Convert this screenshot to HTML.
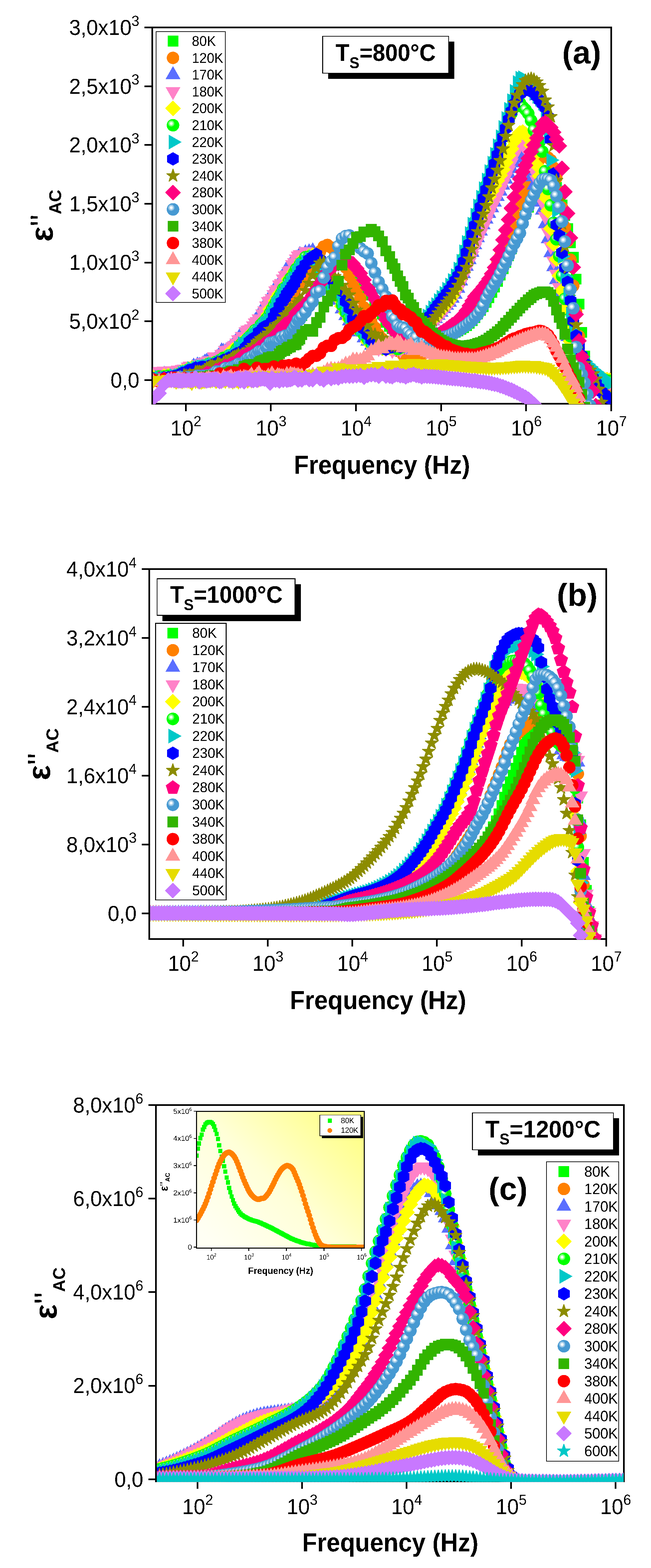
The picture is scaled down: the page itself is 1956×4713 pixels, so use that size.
<!DOCTYPE html>
<html lang="en"><head><meta charset="utf-8"><title>Dielectric loss versus frequency</title>
<style>html,body{margin:0;padding:0;background:#fff}body{width:1956px;height:4713px;overflow:hidden}svg{display:block}text{font-family:"Liberation Sans",sans-serif;fill:#000;filter:url(#crisp)}.b{font-weight:bold}</style>
</head><body>
<svg width="1956" height="4713" viewBox="0 0 1956 4713" shape-rendering="crispEdges" text-rendering="geometricPrecision">
<defs>
<filter id="crisp" x="-5%" y="-20%" width="110%" height="140%" color-interpolation-filters="sRGB"><feComponentTransfer><feFuncA type="discrete" tableValues="0 0 1 1"/></feComponentTransfer></filter>
<radialGradient id="hl" cx="0.5" cy="0.5" r="0.5"><stop offset="0" stop-color="#fff" stop-opacity="1"/><stop offset="0.36" stop-color="#fff" stop-opacity="1"/><stop offset="0.4" stop-color="#fff" stop-opacity="0.7"/><stop offset="0.66" stop-color="#fff" stop-opacity="0.62"/><stop offset="0.7" stop-color="#fff" stop-opacity="0.4"/><stop offset="1" stop-color="#fff" stop-opacity="0.32"/></radialGradient>
<clipPath id="clip-a"><rect x="459.5" y="85" width="1376" height="1130"/></clipPath>
<clipPath id="clip-b"><rect x="451.3" y="1713.1" width="1369" height="1111.3"/></clipPath>
<clipPath id="clip-c"><rect x="471.3" y="3324.2" width="1402.5" height="1130"/></clipPath>
<linearGradient id="insetbg" gradientUnits="userSpaceOnUse" x1="650.8" y1="3751.4" x2="1054.7" y2="3340"><stop offset="0" stop-color="#fffff4"/><stop offset="0.45" stop-color="#ffffd8"/><stop offset="0.8" stop-color="#ffffa0"/><stop offset="1" stop-color="#ffff80"/></linearGradient>
<clipPath id="clip-i"><rect x="590.8" y="3340" width="503.9" height="412.4"/></clipPath>
<marker id="ma80" markerUnits="userSpaceOnUse" markerWidth="80" markerHeight="80" viewBox="-40 -40 80 80" refX="0" refY="0" overflow="visible"><rect x="-16.2" y="-16.2" width="32.4" height="32.4" fill="#00ff00"/></marker>
<marker id="ma120" markerUnits="userSpaceOnUse" markerWidth="80" markerHeight="80" viewBox="-40 -40 80 80" refX="0" refY="0" overflow="visible"><circle r="18.7" fill="#ff8000"/></marker>
<marker id="ma170" markerUnits="userSpaceOnUse" markerWidth="80" markerHeight="80" viewBox="-40 -40 80 80" refX="0" refY="0" overflow="visible"><path d="M0,-26L22.2,13L-22.2,13Z" fill="#5a6eff"/></marker>
<marker id="ma180" markerUnits="userSpaceOnUse" markerWidth="80" markerHeight="80" viewBox="-40 -40 80 80" refX="0" refY="0" overflow="visible"><path d="M0,26L22.2,-13L-22.2,-13Z" fill="#ff82c8"/></marker>
<marker id="ma200" markerUnits="userSpaceOnUse" markerWidth="80" markerHeight="80" viewBox="-40 -40 80 80" refX="0" refY="0" overflow="visible"><path d="M0,-22.1L22.1,0L0,22.1L-22.1,0Z" fill="#ffff00" stroke="#ffff00" stroke-width="2.2" stroke-linejoin="round"/></marker>
<marker id="ma210" markerUnits="userSpaceOnUse" markerWidth="80" markerHeight="80" viewBox="-40 -40 80 80" refX="0" refY="0" overflow="visible"><circle r="18.9" fill="#00ff00"/><circle cx="-5.2" cy="-5.2" r="9.6" fill="url(#hl)"/></marker>
<marker id="ma220" markerUnits="userSpaceOnUse" markerWidth="80" markerHeight="80" viewBox="-40 -40 80 80" refX="0" refY="0" overflow="visible"><path d="M26,0L-13,22.2L-13,-22.2Z" fill="#00c8c8"/></marker>
<marker id="ma230" markerUnits="userSpaceOnUse" markerWidth="80" markerHeight="80" viewBox="-40 -40 80 80" refX="0" refY="0" overflow="visible"><path d="M0,-20.2L17.5,-10.1L17.5,10.1L0,20.2L-17.5,10.1L-17.5,-10.1Z" fill="#0000ff"/></marker>
<marker id="ma240" markerUnits="userSpaceOnUse" markerWidth="80" markerHeight="80" viewBox="-40 -40 80 80" refX="0" refY="0" overflow="visible"><path d="M0,-20L4.6,-6.4L19,-6.2L7.5,2.4L11.8,16.2L0,7.9L-11.8,16.2L-7.5,2.4L-19,-6.2L-4.6,-6.4Z" fill="#8c8c00" stroke="#8c8c00" stroke-width="2.6" stroke-linejoin="round"/></marker>
<marker id="ma280" markerUnits="userSpaceOnUse" markerWidth="80" markerHeight="80" viewBox="-40 -40 80 80" refX="0" refY="0" overflow="visible"><path d="M0,-22.1L22.1,0L0,22.1L-22.1,0Z" fill="#ff0080" stroke="#ff0080" stroke-width="2.2" stroke-linejoin="round"/></marker>
<marker id="ma300" markerUnits="userSpaceOnUse" markerWidth="80" markerHeight="80" viewBox="-40 -40 80 80" refX="0" refY="0" overflow="visible"><circle r="18.9" fill="#4699d2"/><circle cx="-5.2" cy="-5.2" r="9.6" fill="url(#hl)"/></marker>
<marker id="ma340" markerUnits="userSpaceOnUse" markerWidth="80" markerHeight="80" viewBox="-40 -40 80 80" refX="0" refY="0" overflow="visible"><rect x="-16.2" y="-16.2" width="32.4" height="32.4" fill="#32b400"/></marker>
<marker id="ma380" markerUnits="userSpaceOnUse" markerWidth="80" markerHeight="80" viewBox="-40 -40 80 80" refX="0" refY="0" overflow="visible"><circle r="18.7" fill="#ff0000"/></marker>
<marker id="ma400" markerUnits="userSpaceOnUse" markerWidth="80" markerHeight="80" viewBox="-40 -40 80 80" refX="0" refY="0" overflow="visible"><path d="M0,-26L22.2,13L-22.2,13Z" fill="#ff9696"/></marker>
<marker id="ma440" markerUnits="userSpaceOnUse" markerWidth="80" markerHeight="80" viewBox="-40 -40 80 80" refX="0" refY="0" overflow="visible"><path d="M0,26L22.2,-13L-22.2,-13Z" fill="#e6dc00"/></marker>
<marker id="ma500" markerUnits="userSpaceOnUse" markerWidth="80" markerHeight="80" viewBox="-40 -40 80 80" refX="0" refY="0" overflow="visible"><path d="M0,-22.1L22.1,0L0,22.1L-22.1,0Z" fill="#c878ff" stroke="#c878ff" stroke-width="2.2" stroke-linejoin="round"/></marker>
<marker id="mb80" markerUnits="userSpaceOnUse" markerWidth="80" markerHeight="80" viewBox="-40 -40 80 80" refX="0" refY="0" overflow="visible"><rect x="-16.2" y="-16.2" width="32.4" height="32.4" fill="#00ff00"/></marker>
<marker id="mb120" markerUnits="userSpaceOnUse" markerWidth="80" markerHeight="80" viewBox="-40 -40 80 80" refX="0" refY="0" overflow="visible"><circle r="18.7" fill="#ff8000"/></marker>
<marker id="mb170" markerUnits="userSpaceOnUse" markerWidth="80" markerHeight="80" viewBox="-40 -40 80 80" refX="0" refY="0" overflow="visible"><path d="M0,-26L22.2,13L-22.2,13Z" fill="#5a6eff"/></marker>
<marker id="mb180" markerUnits="userSpaceOnUse" markerWidth="80" markerHeight="80" viewBox="-40 -40 80 80" refX="0" refY="0" overflow="visible"><path d="M0,26L22.2,-13L-22.2,-13Z" fill="#ff82c8"/></marker>
<marker id="mb200" markerUnits="userSpaceOnUse" markerWidth="80" markerHeight="80" viewBox="-40 -40 80 80" refX="0" refY="0" overflow="visible"><path d="M0,-22.1L22.1,0L0,22.1L-22.1,0Z" fill="#ffff00" stroke="#ffff00" stroke-width="2.2" stroke-linejoin="round"/></marker>
<marker id="mb210" markerUnits="userSpaceOnUse" markerWidth="80" markerHeight="80" viewBox="-40 -40 80 80" refX="0" refY="0" overflow="visible"><circle r="18.9" fill="#00ff00"/><circle cx="-5.2" cy="-5.2" r="9.6" fill="url(#hl)"/></marker>
<marker id="mb220" markerUnits="userSpaceOnUse" markerWidth="80" markerHeight="80" viewBox="-40 -40 80 80" refX="0" refY="0" overflow="visible"><path d="M26,0L-13,22.2L-13,-22.2Z" fill="#00c8c8"/></marker>
<marker id="mb230" markerUnits="userSpaceOnUse" markerWidth="80" markerHeight="80" viewBox="-40 -40 80 80" refX="0" refY="0" overflow="visible"><path d="M0,-20.2L17.5,-10.1L17.5,10.1L0,20.2L-17.5,10.1L-17.5,-10.1Z" fill="#0000ff"/></marker>
<marker id="mb240" markerUnits="userSpaceOnUse" markerWidth="80" markerHeight="80" viewBox="-40 -40 80 80" refX="0" refY="0" overflow="visible"><path d="M0,-20L4.6,-6.4L19,-6.2L7.5,2.4L11.8,16.2L0,7.9L-11.8,16.2L-7.5,2.4L-19,-6.2L-4.6,-6.4Z" fill="#8c8c00" stroke="#8c8c00" stroke-width="2.6" stroke-linejoin="round"/></marker>
<marker id="mb280" markerUnits="userSpaceOnUse" markerWidth="80" markerHeight="80" viewBox="-40 -40 80 80" refX="0" refY="0" overflow="visible"><path d="M0,-21.2L20.4,-6.3L12.6,17.7L-12.6,17.7L-20.4,-6.3Z" fill="#ff0080" stroke="#ff0080" stroke-width="1.5" stroke-linejoin="round"/></marker>
<marker id="mb300" markerUnits="userSpaceOnUse" markerWidth="80" markerHeight="80" viewBox="-40 -40 80 80" refX="0" refY="0" overflow="visible"><circle r="18.9" fill="#4699d2"/><circle cx="-5.2" cy="-5.2" r="9.6" fill="url(#hl)"/></marker>
<marker id="mb340" markerUnits="userSpaceOnUse" markerWidth="80" markerHeight="80" viewBox="-40 -40 80 80" refX="0" refY="0" overflow="visible"><rect x="-16.2" y="-16.2" width="32.4" height="32.4" fill="#32b400"/></marker>
<marker id="mb380" markerUnits="userSpaceOnUse" markerWidth="80" markerHeight="80" viewBox="-40 -40 80 80" refX="0" refY="0" overflow="visible"><circle r="18.7" fill="#ff0000"/></marker>
<marker id="mb400" markerUnits="userSpaceOnUse" markerWidth="80" markerHeight="80" viewBox="-40 -40 80 80" refX="0" refY="0" overflow="visible"><path d="M0,-26L22.2,13L-22.2,13Z" fill="#ff9696"/></marker>
<marker id="mb440" markerUnits="userSpaceOnUse" markerWidth="80" markerHeight="80" viewBox="-40 -40 80 80" refX="0" refY="0" overflow="visible"><path d="M0,26L22.2,-13L-22.2,-13Z" fill="#e6dc00"/></marker>
<marker id="mb500" markerUnits="userSpaceOnUse" markerWidth="80" markerHeight="80" viewBox="-40 -40 80 80" refX="0" refY="0" overflow="visible"><path d="M0,-22.1L22.1,0L0,22.1L-22.1,0Z" fill="#c878ff" stroke="#c878ff" stroke-width="2.2" stroke-linejoin="round"/></marker>
<marker id="mc170" markerUnits="userSpaceOnUse" markerWidth="80" markerHeight="80" viewBox="-40 -40 80 80" refX="0" refY="0" overflow="visible"><path d="M0,-26L22.2,13L-22.2,13Z" fill="#5a6eff"/></marker>
<marker id="mc180" markerUnits="userSpaceOnUse" markerWidth="80" markerHeight="80" viewBox="-40 -40 80 80" refX="0" refY="0" overflow="visible"><path d="M0,26L22.2,-13L-22.2,-13Z" fill="#ff82c8"/></marker>
<marker id="mc200" markerUnits="userSpaceOnUse" markerWidth="80" markerHeight="80" viewBox="-40 -40 80 80" refX="0" refY="0" overflow="visible"><path d="M0,-22.1L22.1,0L0,22.1L-22.1,0Z" fill="#ffff00" stroke="#ffff00" stroke-width="2.2" stroke-linejoin="round"/></marker>
<marker id="mc210" markerUnits="userSpaceOnUse" markerWidth="80" markerHeight="80" viewBox="-40 -40 80 80" refX="0" refY="0" overflow="visible"><circle r="18.9" fill="#00ff00"/><circle cx="-5.2" cy="-5.2" r="9.6" fill="url(#hl)"/></marker>
<marker id="mc220" markerUnits="userSpaceOnUse" markerWidth="80" markerHeight="80" viewBox="-40 -40 80 80" refX="0" refY="0" overflow="visible"><path d="M26,0L-13,22.2L-13,-22.2Z" fill="#00c8c8"/></marker>
<marker id="mc230" markerUnits="userSpaceOnUse" markerWidth="80" markerHeight="80" viewBox="-40 -40 80 80" refX="0" refY="0" overflow="visible"><path d="M0,-20.2L17.5,-10.1L17.5,10.1L0,20.2L-17.5,10.1L-17.5,-10.1Z" fill="#0000ff"/></marker>
<marker id="mc240" markerUnits="userSpaceOnUse" markerWidth="80" markerHeight="80" viewBox="-40 -40 80 80" refX="0" refY="0" overflow="visible"><path d="M0,-20L4.6,-6.4L19,-6.2L7.5,2.4L11.8,16.2L0,7.9L-11.8,16.2L-7.5,2.4L-19,-6.2L-4.6,-6.4Z" fill="#8c8c00" stroke="#8c8c00" stroke-width="2.6" stroke-linejoin="round"/></marker>
<marker id="mc280" markerUnits="userSpaceOnUse" markerWidth="80" markerHeight="80" viewBox="-40 -40 80 80" refX="0" refY="0" overflow="visible"><path d="M0,-22.1L22.1,0L0,22.1L-22.1,0Z" fill="#ff0080" stroke="#ff0080" stroke-width="2.2" stroke-linejoin="round"/></marker>
<marker id="mc300" markerUnits="userSpaceOnUse" markerWidth="80" markerHeight="80" viewBox="-40 -40 80 80" refX="0" refY="0" overflow="visible"><circle r="18.9" fill="#4699d2"/><circle cx="-5.2" cy="-5.2" r="9.6" fill="url(#hl)"/></marker>
<marker id="mc340" markerUnits="userSpaceOnUse" markerWidth="80" markerHeight="80" viewBox="-40 -40 80 80" refX="0" refY="0" overflow="visible"><rect x="-16.2" y="-16.2" width="32.4" height="32.4" fill="#32b400"/></marker>
<marker id="mc380" markerUnits="userSpaceOnUse" markerWidth="80" markerHeight="80" viewBox="-40 -40 80 80" refX="0" refY="0" overflow="visible"><circle r="18.7" fill="#ff0000"/></marker>
<marker id="mc400" markerUnits="userSpaceOnUse" markerWidth="80" markerHeight="80" viewBox="-40 -40 80 80" refX="0" refY="0" overflow="visible"><path d="M0,-26L22.2,13L-22.2,13Z" fill="#ff9696"/></marker>
<marker id="mc440" markerUnits="userSpaceOnUse" markerWidth="80" markerHeight="80" viewBox="-40 -40 80 80" refX="0" refY="0" overflow="visible"><path d="M0,26L22.2,-13L-22.2,-13Z" fill="#e6dc00"/></marker>
<marker id="mc500" markerUnits="userSpaceOnUse" markerWidth="80" markerHeight="80" viewBox="-40 -40 80 80" refX="0" refY="0" overflow="visible"><path d="M0,-22.1L22.1,0L0,22.1L-22.1,0Z" fill="#c878ff" stroke="#c878ff" stroke-width="2.2" stroke-linejoin="round"/></marker>
<marker id="mc600" markerUnits="userSpaceOnUse" markerWidth="80" markerHeight="80" viewBox="-40 -40 80 80" refX="0" refY="0" overflow="visible"><path d="M0,-20L4.6,-6.4L19,-6.2L7.5,2.4L11.8,16.2L0,7.9L-11.8,16.2L-7.5,2.4L-19,-6.2L-4.6,-6.4Z" fill="#00c8c8" stroke="#00c8c8" stroke-width="2.6" stroke-linejoin="round"/></marker>
<marker id="mi80" markerUnits="userSpaceOnUse" markerWidth="30" markerHeight="30" viewBox="-15 -15 30 30" refX="0" refY="0" overflow="visible"><rect x="-6.2" y="-6.6" width="12.4" height="13.2" fill="#00ff00"/></marker>
<marker id="mi120" markerUnits="userSpaceOnUse" markerWidth="30" markerHeight="30" viewBox="-15 -15 30 30" refX="0" refY="0" overflow="visible"><circle r="8.6" fill="#ff8000"/></marker>
</defs>
<g id="panel-a">
<path d="M457,82.5H1836.5V1213H457Z" fill="none" stroke="#000" stroke-width="5" stroke-linejoin="miter"/>
<path d="M434.2,82.5H457M434.2,259.2H457M434.2,435.8H457M434.2,612.5H457M434.2,789.1H457M434.2,965.8H457M434.2,1142.4H457M558.2,1213V1235.5M813.9,1213V1235.5M1069.5,1213V1235.5M1325.2,1213V1235.5M1580.8,1213V1235.5M1836.5,1213V1235.5" fill="none" stroke="#000" stroke-width="5"/>
<text transform="translate(418.7 104.8) scale(0.96 1)" font-size="65" text-anchor="end">3,0x10<tspan dy="-27.3" font-size="44.2">3</tspan></text>
<text transform="translate(418.7 281.5) scale(0.96 1)" font-size="65" text-anchor="end">2,5x10<tspan dy="-27.3" font-size="44.2">3</tspan></text>
<text transform="translate(418.7 458.1) scale(0.96 1)" font-size="65" text-anchor="end">2,0x10<tspan dy="-27.3" font-size="44.2">3</tspan></text>
<text transform="translate(418.7 634.8) scale(0.96 1)" font-size="65" text-anchor="end">1,5x10<tspan dy="-27.3" font-size="44.2">3</tspan></text>
<text transform="translate(418.7 811.4) scale(0.96 1)" font-size="65" text-anchor="end">1,0x10<tspan dy="-27.3" font-size="44.2">3</tspan></text>
<text transform="translate(418.7 988.1) scale(0.96 1)" font-size="65" text-anchor="end">5,0x10<tspan dy="-27.3" font-size="44.2">2</tspan></text>
<text transform="translate(418.7 1164.7) scale(0.96 1)" font-size="65" text-anchor="end">0,0</text>
<text transform="translate(558.7 1308.7) scale(0.96 1)" font-size="65" text-anchor="middle">10<tspan dy="-27.3" font-size="44.2">2</tspan></text>
<text transform="translate(814.4 1308.7) scale(0.96 1)" font-size="65" text-anchor="middle">10<tspan dy="-27.3" font-size="44.2">3</tspan></text>
<text transform="translate(1070 1308.7) scale(0.96 1)" font-size="65" text-anchor="middle">10<tspan dy="-27.3" font-size="44.2">4</tspan></text>
<text transform="translate(1325.7 1308.7) scale(0.96 1)" font-size="65" text-anchor="middle">10<tspan dy="-27.3" font-size="44.2">5</tspan></text>
<text transform="translate(1581.3 1308.7) scale(0.96 1)" font-size="65" text-anchor="middle">10<tspan dy="-27.3" font-size="44.2">6</tspan></text>
<text transform="translate(1837 1308.7) scale(0.96 1)" font-size="65" text-anchor="middle">10<tspan dy="-27.3" font-size="44.2">7</tspan></text>
<text transform="translate(1147.5 1424) scale(0.94 1)" font-size="78" text-anchor="middle" class="b">Frequency (Hz)</text>
<text transform="translate(158.5 648.2) rotate(-90)" font-size="96" text-anchor="middle" class="b">ε<tspan font-weight="normal">''</tspan><tspan dy="24.5" font-size="51.5">AC</tspan></text>
</g>
<g id="panel-b">
<path d="M448.8,1710.6H1821.3V2822.4H448.8Z" fill="none" stroke="#000" stroke-width="5" stroke-linejoin="miter"/>
<path d="M426,1710.6H448.8M426,1917.5H448.8M426,2124.4H448.8M426,2331.4H448.8M426,2538.3H448.8M426,2745.2H448.8M550.4,2822.4V2844.9M804.6,2822.4V2844.9M1058.8,2822.4V2844.9M1312.9,2822.4V2844.9M1567.1,2822.4V2844.9M1821.3,2822.4V2844.9" fill="none" stroke="#000" stroke-width="5"/>
<text transform="translate(410.5 1732.9) scale(0.96 1)" font-size="65" text-anchor="end">4,0x10<tspan dy="-27.3" font-size="44.2">4</tspan></text>
<text transform="translate(410.5 1939.8) scale(0.96 1)" font-size="65" text-anchor="end">3,2x10<tspan dy="-27.3" font-size="44.2">4</tspan></text>
<text transform="translate(410.5 2146.7) scale(0.96 1)" font-size="65" text-anchor="end">2,4x10<tspan dy="-27.3" font-size="44.2">4</tspan></text>
<text transform="translate(410.5 2353.7) scale(0.96 1)" font-size="65" text-anchor="end">1,6x10<tspan dy="-27.3" font-size="44.2">4</tspan></text>
<text transform="translate(410.5 2560.6) scale(0.96 1)" font-size="65" text-anchor="end">8,0x10<tspan dy="-27.3" font-size="44.2">3</tspan></text>
<text transform="translate(410.5 2767.5) scale(0.96 1)" font-size="65" text-anchor="end">0,0</text>
<text transform="translate(550.9 2917.6) scale(0.96 1)" font-size="65" text-anchor="middle">10<tspan dy="-27.3" font-size="44.2">2</tspan></text>
<text transform="translate(805.1 2917.6) scale(0.96 1)" font-size="65" text-anchor="middle">10<tspan dy="-27.3" font-size="44.2">3</tspan></text>
<text transform="translate(1059.3 2917.6) scale(0.96 1)" font-size="65" text-anchor="middle">10<tspan dy="-27.3" font-size="44.2">4</tspan></text>
<text transform="translate(1313.4 2917.6) scale(0.96 1)" font-size="65" text-anchor="middle">10<tspan dy="-27.3" font-size="44.2">5</tspan></text>
<text transform="translate(1567.6 2917.6) scale(0.96 1)" font-size="65" text-anchor="middle">10<tspan dy="-27.3" font-size="44.2">6</tspan></text>
<text transform="translate(1821.8 2917.6) scale(0.96 1)" font-size="65" text-anchor="middle">10<tspan dy="-27.3" font-size="44.2">7</tspan></text>
<text transform="translate(1135.8 3033.4) scale(0.94 1)" font-size="78" text-anchor="middle" class="b">Frequency (Hz)</text>
<text transform="translate(150.3 2267) rotate(-90)" font-size="96" text-anchor="middle" class="b">ε<tspan font-weight="normal">''</tspan><tspan dy="24.5" font-size="51.5">AC</tspan></text>
</g>
<g id="panel-c">
<path d="M468.8,3321.7H1874.8V4452.2H468.8Z" fill="none" stroke="#000" stroke-width="5" stroke-linejoin="miter"/>
<path d="M446,3321.7H468.8M446,3602.8H468.8M446,3883.9H468.8M446,4165.1H468.8M446,4446.2H468.8M593.4,4452.2V4474.7M907.4,4452.2V4474.7M1221.4,4452.2V4474.7M1535.4,4452.2V4474.7M1849.4,4452.2V4474.7" fill="none" stroke="#000" stroke-width="5"/>
<text transform="translate(430.5 3344) scale(0.96 1)" font-size="65" text-anchor="end">8,0x10<tspan dy="-27.3" font-size="44.2">6</tspan></text>
<text transform="translate(430.5 3625.1) scale(0.96 1)" font-size="65" text-anchor="end">6,0x10<tspan dy="-27.3" font-size="44.2">6</tspan></text>
<text transform="translate(430.5 3906.2) scale(0.96 1)" font-size="65" text-anchor="end">4,0x10<tspan dy="-27.3" font-size="44.2">6</tspan></text>
<text transform="translate(430.5 4187.4) scale(0.96 1)" font-size="65" text-anchor="end">2,0x10<tspan dy="-27.3" font-size="44.2">6</tspan></text>
<text transform="translate(430.5 4468.5) scale(0.96 1)" font-size="65" text-anchor="end">0,0</text>
<text transform="translate(593.9 4550.7) scale(0.96 1)" font-size="65" text-anchor="middle">10<tspan dy="-27.3" font-size="44.2">2</tspan></text>
<text transform="translate(907.9 4550.7) scale(0.96 1)" font-size="65" text-anchor="middle">10<tspan dy="-27.3" font-size="44.2">3</tspan></text>
<text transform="translate(1221.9 4550.7) scale(0.96 1)" font-size="65" text-anchor="middle">10<tspan dy="-27.3" font-size="44.2">4</tspan></text>
<text transform="translate(1535.9 4550.7) scale(0.96 1)" font-size="65" text-anchor="middle">10<tspan dy="-27.3" font-size="44.2">5</tspan></text>
<text transform="translate(1849.9 4550.7) scale(0.96 1)" font-size="65" text-anchor="middle">10<tspan dy="-27.3" font-size="44.2">6</tspan></text>
<text transform="translate(1172.6 4663.2) scale(0.94 1)" font-size="78" text-anchor="middle" class="b">Frequency (Hz)</text>
<text transform="translate(170.3 3887.4) rotate(-90)" font-size="96" text-anchor="middle" class="b">ε<tspan font-weight="normal">''</tspan><tspan dy="24.5" font-size="51.5">AC</tspan></text>
</g>
<g clip-path="url(#clip-a)">
<polyline fill="none" stroke="none" marker-start="url(#ma80)" marker-mid="url(#ma80)" marker-end="url(#ma80)" points="459,1143 478,1138.7 493.2,1138.8 505.4,1138.5 515.1,1135.5 522.9,1136.2 529.1,1135.5 535.1,1131.7 541.1,1136 547.1,1134.6 553.1,1131.4 559.1,1131 565.1,1130.8 570.7,1127.9 576.3,1126.4 581.9,1122.5 587.5,1124.4 593.1,1121.9 598.7,1120.5 604.3,1115.5 609.9,1119.6 615.5,1115.3 621.1,1112.7 626.7,1115.5 632.3,1110.2 637.9,1106.1 643.5,1105.9 649.1,1098.6 654.7,1107 660.3,1101 665.9,1098.3 671.5,1102 677.1,1092.1 682.7,1096.8 688.3,1087.1 693.9,1089.4 699.5,1085.8 705.1,1091.8 710.7,1090.5 716.3,1082.1 721.9,1083.3 727.5,1077.9 733.1,1077.7 738.7,1071.3 744.3,1065.9 749.9,1062.9 755.5,1066.7 761.1,1069.5 766.7,1060.7 772.3,1055.3 777.9,1059.5 783.5,1051.2 789.1,1047.5 794.7,1044.6 800.3,1039.9 805.9,1035.6 811.5,1028.2 817.1,1029.7 822.7,1023.4 828.3,1022.6 833.9,1013 839.5,1003.4 845.1,1003.7 850.7,1004 856.3,992.6 861.9,985.9 867.5,979.9 873.1,975.4 878.7,972.6 884.3,964.8 889.9,967.4 895.5,956.3 901.1,951.3 906.7,948.5 917.7,932.9 928.7,907.7 939.7,887.8 950.7,867.9 961.7,842.8 972.7,818.2 983.7,809.3 994.7,796.6 1005.7,788.3 1016.7,779.6 1027.7,779.5 1038.7,780.7 1049.7,789.6 1060.7,804.5 1071.7,818.4 1082.7,832.9 1093.7,851.2 1104.7,869.8 1115.7,887.2 1126.7,906.9 1137.7,924.2 1148.7,944.1 1159.7,969.1 1170.7,981.3 1178.7,987.6 1186.7,995.7 1194.7,1002.9 1202.7,1014.5 1210.7,1021.4 1218.7,1021.3 1226.7,1030.7 1234.7,1029.1 1242.7,1036.3 1250.7,1033.6 1258.7,1039.1 1266.7,1033.2 1274.7,1034.8 1283.1,1035 1291.6,1033.9 1300,1031.2 1308.5,1027.1 1316.9,1023.5 1325.4,1019.2 1333.8,1014.7 1342.3,1010.7 1350.7,1007.8 1359.2,1003.2 1367.6,999 1376.1,995.1 1384.5,990.2 1393,984.8 1401.4,979.2 1409.9,972.1 1418.3,963.8 1426.8,954.7 1435.2,944.3 1443.7,933.2 1452.1,921.9 1460.6,909.1 1469,895 1477.5,879.3 1485.9,862.8 1494.4,846 1502.8,827 1511.3,807.7 1519.7,789.2 1528.2,768.6 1536.6,748.3 1545.1,727 1553.5,705.7 1562,684.1 1570.4,662.9 1578.9,642.5 1587.3,622.6 1595.8,603.7 1604.2,586 1612.7,572 1621.1,557.8 1629.6,550.1 1638,547.3 1646.5,545.6 1654.9,546.8 1663.4,552.1 1671.8,563 1680.3,585.6 1688.7,615.9 1697.2,648.3 1705.6,687.6 1714.1,730.1 1722.5,773.6 1731,839.3 1739.4,914.3 1747.9,998.9 1756.3,1070.1 1764.8,1107.1 1773.2,1131.8 1781.7,1146.9 1790.1,1152.9 1798.6,1156.8 1807,1160.4 1815.5,1162.2 1823.9,1164.1 1832.4,1165.3"/>
<polyline fill="none" stroke="none" marker-start="url(#ma120)" marker-mid="url(#ma120)" marker-end="url(#ma120)" points="459,1141 478,1137.2 493.2,1140 505.4,1137 515.1,1137.7 522.9,1136.8 529.1,1137.8 535.1,1135.1 541.1,1130.9 547.1,1130.9 553.1,1133.5 559.1,1130 565.1,1130.5 570.7,1126.9 576.3,1122.7 581.9,1123.6 587.5,1117.7 593.1,1112.8 598.7,1117.6 604.3,1107.9 609.9,1110 615.5,1108.2 621.1,1104.4 626.7,1098.7 632.3,1101.2 637.9,1094.3 643.5,1090.4 649.1,1090.8 654.7,1091.6 660.3,1087.5 665.9,1086.2 671.5,1079.6 677.1,1077.5 682.7,1071.6 688.3,1070.9 693.9,1070.3 699.5,1064.2 705.1,1062.9 710.7,1056 716.3,1052.1 721.9,1049.9 727.5,1045.1 733.1,1043.1 738.7,1037.5 744.3,1037.7 749.9,1027.2 755.5,1022.5 761.1,1015.3 766.7,1013.7 772.3,1010.9 777.9,1001.6 783.5,998.6 789.1,995.8 794.7,987.9 800.3,981.2 805.9,980 811.5,971.6 817.1,966.4 822.7,962.6 828.3,956.1 833.9,944.9 839.5,937.2 845.1,932.2 850.7,923.1 856.3,909.7 861.9,911 867.5,898.9 873.1,892.7 878.7,878.7 884.3,877.8 889.9,863.9 895.5,857.1 901.1,844.8 906.7,839.9 917.7,822.6 928.7,804.9 939.7,785.8 950.7,765.6 961.7,755.7 972.7,741.1 983.7,736.1 994.7,743.6 1005.7,754.6 1016.7,777.3 1027.7,795.2 1038.7,804.3 1049.7,828.5 1060.7,852.9 1071.7,873.1 1082.7,896.5 1093.7,924.2 1104.7,944 1115.7,968.2 1126.7,984.9 1137.7,1005.6 1148.7,1018.6 1159.7,1028.4 1170.7,1042.3 1178.7,1049 1186.7,1049.7 1194.7,1054.8 1202.7,1053.1 1210.7,1065.7 1218.7,1063.1 1226.7,1059.4 1234.7,1061.4 1242.7,1066.7 1250.7,1070.1 1258.7,1067.7 1266.7,1068.1 1274.7,1061.9 1283.1,1054.9 1291.6,1047.8 1300,1040.1 1308.5,1032.3 1316.9,1024.2 1325.4,1014.4 1333.8,1005.8 1342.3,998.3 1350.7,991.5 1359.2,984.4 1367.6,978.7 1376.1,971.5 1384.5,965 1393,957.1 1401.4,947.8 1409.9,937.7 1418.3,925.4 1426.8,911.4 1435.2,897.6 1443.7,884.6 1452.1,870.1 1460.6,856 1469,841.5 1477.5,825.6 1485.9,809.9 1494.4,791.5 1502.8,771.1 1511.3,749.4 1519.7,727.5 1528.2,702.1 1536.6,675 1545.1,645.4 1553.5,617.4 1562,595.8 1570.4,580.1 1578.9,566.9 1587.3,553.4 1595.8,534.3 1604.2,512 1612.7,495.2 1621.1,478.7 1629.6,469.9 1638,470.8 1646.5,473.6 1654.9,481.1 1663.4,504.2 1671.8,534.4 1680.3,574 1688.7,623.6 1697.2,682.5 1705.6,725 1714.1,780.6 1722.5,858.8 1731,937.6 1739.4,1010 1747.9,1068.6 1756.3,1102.9 1764.8,1121.1 1773.2,1135.3 1781.7,1145 1790.1,1150.7 1798.6,1152.9 1807,1156.7 1815.5,1158.5 1823.9,1159.1 1832.4,1159.1"/>
<polyline fill="none" stroke="none" marker-start="url(#ma170)" marker-mid="url(#ma170)" marker-end="url(#ma170)" points="459,1130.8 478,1130.9 493.2,1124.7 505.4,1129.7 515.1,1128.5 522.9,1126.1 529.1,1127.9 535.1,1127 541.1,1121.2 547.1,1120.5 553.1,1115.8 559.1,1113 565.1,1112.7 570.7,1111.7 576.3,1106.8 581.9,1100.5 587.5,1104.9 593.1,1097.2 598.7,1098.9 604.3,1100.5 609.9,1093.8 615.5,1088.7 621.1,1085.9 626.7,1090.1 632.3,1085.2 637.9,1084.3 643.5,1084.2 649.1,1077.6 654.7,1073.3 660.3,1067.1 665.9,1054.5 671.5,1056.4 677.1,1057.7 682.7,1052.5 688.3,1050 693.9,1042.6 699.5,1038.2 705.1,1034.9 710.7,1022.3 716.3,1019.1 721.9,1008.2 727.5,1012.9 733.1,1003.5 738.7,999.7 744.3,998.3 749.9,991.2 755.5,981.5 761.1,979.6 766.7,964.8 772.3,965.3 777.9,955.1 783.5,937.4 789.1,938 794.7,918.8 800.3,914.6 805.9,901.3 811.5,898.6 817.1,891.6 822.7,874.9 828.3,863.7 833.9,860.9 839.5,856.4 845.1,843.2 850.7,833.8 856.3,829.7 861.9,807.6 867.5,806.7 873.1,795 878.7,793.9 884.3,783.4 889.9,776.1 895.5,773.9 901.1,765.1 906.7,767.7 917.7,759.9 928.7,757.1 939.7,754.1 950.7,774.2 961.7,801.7 972.7,837.4 983.7,856.3 994.7,860.7 1005.7,878.8 1016.7,903.2 1027.7,929 1038.7,949.2 1049.7,965 1060.7,981.7 1071.7,997.7 1082.7,996.4 1093.7,1015.9 1104.7,1026.3 1115.7,1038.4 1126.7,1042.7 1137.7,1048.8 1148.7,1035.2 1159.7,1045.6 1170.7,1045.2 1178.7,1049.3 1186.7,1047.1 1194.7,1047.1 1202.7,1050.6 1210.7,1052.2 1218.7,1028.8 1226.7,1033.6 1234.7,1030.3 1242.7,1022.5 1250.7,1010.4 1258.7,993.8 1266.7,985.6 1274.7,983.1 1283.1,977.5 1291.6,971.7 1300,965.1 1308.5,957.8 1316.9,948.3 1325.4,938.6 1333.8,928.2 1342.3,918.2 1350.7,908.9 1359.2,897.3 1367.6,884.7 1376.1,867 1384.5,844.9 1393,823.4 1401.4,800.9 1409.9,780.6 1418.3,758.5 1426.8,735.9 1435.2,715.3 1443.7,694.8 1452.1,676.4 1460.6,658.9 1469,641.9 1477.5,624.7 1485.9,608.1 1494.4,591 1502.8,574.6 1511.3,557.3 1519.7,539.3 1528.2,522.1 1536.6,506.7 1545.1,490.2 1553.5,476.1 1562,470 1570.4,475.6 1578.9,486.6 1587.3,506.6 1595.8,532.4 1604.2,556.8 1612.7,582.6 1621.1,607.5 1629.6,631.6 1638,672.9 1646.5,718.4 1654.9,759.8 1663.4,801.9 1671.8,840.5 1680.3,881.5 1688.7,927.5 1697.2,974.3 1705.6,1012.3 1714.1,1041.2 1722.5,1064.1 1731,1081.1 1739.4,1096.2 1747.9,1107.9 1756.3,1118.2 1764.8,1122.5 1773.2,1127.3 1781.7,1132.3 1790.1,1136.8 1798.6,1140.2 1807,1142.2 1815.5,1144.8 1823.9,1146.2 1832.4,1147.2"/>
<polyline fill="none" stroke="none" marker-start="url(#ma180)" marker-mid="url(#ma180)" marker-end="url(#ma180)" points="459,1119.6 478,1116.4 493.2,1115.1 505.4,1118 515.1,1114.2 522.9,1119.5 529.1,1115.3 535.1,1111.6 541.1,1111.9 547.1,1109.9 553.1,1109.2 559.1,1110.2 565.1,1102.9 570.7,1100.4 576.3,1104.2 581.9,1101.3 587.5,1100.4 593.1,1099.3 598.7,1095.9 604.3,1096.4 609.9,1090.4 615.5,1090.7 621.1,1086.5 626.7,1083.8 632.3,1085.9 637.9,1083.6 643.5,1072.1 649.1,1072.8 654.7,1075.6 660.3,1075.5 665.9,1064.8 671.5,1062.7 677.1,1053.4 682.7,1064.5 688.3,1051.6 693.9,1048.4 699.5,1042.2 705.1,1037.7 710.7,1030.5 716.3,1020.9 721.9,1019.6 727.5,1011.3 733.1,1010.5 738.7,996.8 744.3,992 749.9,991.2 755.5,988.4 761.1,978.8 766.7,970 772.3,966.4 777.9,957.7 783.5,958 789.1,943.3 794.7,933.5 800.3,918.7 805.9,905.7 811.5,903.8 817.1,897.3 822.7,884.8 828.3,874.2 833.9,870.3 839.5,856.1 845.1,852.2 850.7,837.9 856.3,828.5 861.9,826 867.5,815.8 873.1,812.6 878.7,794.9 884.3,788.5 889.9,777.7 895.5,769.1 901.1,764.5 906.7,769.3 917.7,755.7 928.7,759.9 939.7,765.5 950.7,778.3 961.7,813.4 972.7,834.5 983.7,856.5 994.7,861.1 1005.7,877.3 1016.7,892.9 1027.7,925.9 1038.7,945.1 1049.7,963.7 1060.7,979.1 1071.7,987.8 1082.7,997.4 1093.7,1013.7 1104.7,1029.1 1115.7,1028.6 1126.7,1042.6 1137.7,1047 1148.7,1042.7 1159.7,1048.2 1170.7,1042.1 1178.7,1053.5 1186.7,1047 1194.7,1047.6 1202.7,1051 1210.7,1042.3 1218.7,1040.7 1226.7,1028.7 1234.7,1024.7 1242.7,1015.1 1250.7,1010.5 1258.7,1004.7 1266.7,992.1 1274.7,985.2 1283.1,978.9 1291.6,974 1300,968.7 1308.5,962.1 1316.9,953.2 1325.4,943.1 1333.8,933 1342.3,922.3 1350.7,911.9 1359.2,901 1367.6,886.7 1376.1,870.3 1384.5,851.5 1393,829.8 1401.4,809 1409.9,787.8 1418.3,767.9 1426.8,744.4 1435.2,723.5 1443.7,702.6 1452.1,683.6 1460.6,663 1469,643.2 1477.5,623.9 1485.9,607.1 1494.4,589.7 1502.8,571.3 1511.3,551.7 1519.7,531.7 1528.2,511 1536.6,488.6 1545.1,467 1553.5,447.4 1562,433.4 1570.4,434 1578.9,443 1587.3,460.6 1595.8,487 1604.2,512.7 1612.7,540.3 1621.1,572.5 1629.6,607.3 1638,650.3 1646.5,697.5 1654.9,740.1 1663.4,784.3 1671.8,824.2 1680.3,864.4 1688.7,912.7 1697.2,961 1705.6,1002.9 1714.1,1031.7 1722.5,1055 1731,1069.9 1739.4,1082.8 1747.9,1092 1756.3,1101.7 1764.8,1109.2 1773.2,1116.7 1781.7,1123.6 1790.1,1129.7 1798.6,1133.4 1807,1139.1 1815.5,1142.9 1823.9,1146 1832.4,1149.7"/>
<polyline fill="none" stroke="none" marker-start="url(#ma200)" marker-mid="url(#ma200)" marker-end="url(#ma200)" points="459,1133 478,1135.3 493.2,1130.3 505.4,1129 515.1,1133.4 522.9,1134.5 529.1,1129.1 535.1,1127.5 541.1,1121.7 547.1,1117 553.1,1117 559.1,1118.8 565.1,1108.7 570.7,1110.5 576.3,1105.7 581.9,1109.3 587.5,1110 593.1,1103.8 598.7,1104.7 604.3,1107.8 609.9,1103.2 615.5,1099.3 621.1,1097.8 626.7,1094.7 632.3,1099.8 637.9,1094.3 643.5,1098.4 649.1,1095.5 654.7,1087.1 660.3,1085 665.9,1087.5 671.5,1082 677.1,1079.1 682.7,1067.6 688.3,1073.6 693.9,1062.1 699.5,1051.8 705.1,1053.7 710.7,1052.9 716.3,1054.2 721.9,1038.6 727.5,1028.9 733.1,1036.9 738.7,1023.4 744.3,1016.1 749.9,1007.3 755.5,1001.9 761.1,1006.2 766.7,993.7 772.3,987.5 777.9,982.5 783.5,985.3 789.1,970.3 794.7,967.5 800.3,956.2 805.9,945.1 811.5,929.3 817.1,924.9 822.7,919.5 828.3,904.2 833.9,892.5 839.5,882.9 845.1,880.5 850.7,870 856.3,861.9 861.9,853.6 867.5,838.7 873.1,838.9 878.7,827.6 884.3,816.8 889.9,808.8 895.5,803.2 901.1,792.7 906.7,782.3 917.7,779.8 928.7,769.9 939.7,767.3 950.7,767.4 961.7,796.1 972.7,822.1 983.7,847.5 994.7,862.3 1005.7,871 1016.7,895.7 1027.7,920.3 1038.7,941.3 1049.7,960.3 1060.7,972.5 1071.7,987.8 1082.7,995.7 1093.7,1006.3 1104.7,1027 1115.7,1033.3 1126.7,1038 1137.7,1038.2 1148.7,1046.7 1159.7,1046 1170.7,1045.2 1178.7,1043.3 1186.7,1041.7 1194.7,1044.1 1202.7,1044.9 1210.7,1040.4 1218.7,1035.8 1226.7,1028.9 1234.7,1025.7 1242.7,1018.3 1250.7,1002.9 1258.7,996 1266.7,986.6 1274.7,977.5 1283.1,971.7 1291.6,966.4 1300,959.4 1308.5,951.7 1316.9,940.3 1325.4,930.5 1333.8,920.3 1342.3,911.5 1350.7,900.8 1359.2,887.2 1367.6,867.2 1376.1,842.6 1384.5,816.4 1393,791.4 1401.4,766.6 1409.9,741.5 1418.3,717.2 1426.8,694.1 1435.2,669.8 1443.7,647.7 1452.1,627.4 1460.6,608.1 1469,590.5 1477.5,574.8 1485.9,557.8 1494.4,542.1 1502.8,526.7 1511.3,509.6 1519.7,487.7 1528.2,467.1 1536.6,447 1545.1,425 1553.5,409.9 1562,399.6 1570.4,396.8 1578.9,403.4 1587.3,413.6 1595.8,436.6 1604.2,467.7 1612.7,496.8 1621.1,528.7 1629.6,561.7 1638,593 1646.5,633.7 1654.9,686.8 1663.4,733.4 1671.8,778.9 1680.3,828.5 1688.7,873.9 1697.2,931 1705.6,983.7 1714.1,1026.4 1722.5,1057.5 1731,1081.9 1739.4,1096.4 1747.9,1107.1 1756.3,1115.9 1764.8,1122.1 1773.2,1127.1 1781.7,1130 1790.1,1132.6 1798.6,1135.5 1807,1138.7 1815.5,1140.2 1823.9,1141.4 1832.4,1142.3"/>
<polyline fill="none" stroke="none" marker-start="url(#ma210)" marker-mid="url(#ma210)" marker-end="url(#ma210)" points="459,1136.9 478,1131.5 493.2,1131.8 505.4,1129.4 515.1,1132.9 522.9,1130.1 529.1,1127.8 535.1,1125.4 541.1,1125.5 547.1,1121.3 553.1,1117.9 559.1,1118.5 565.1,1112.1 570.7,1109.9 576.3,1115.2 581.9,1108.2 587.5,1106.3 593.1,1104.5 598.7,1104 604.3,1104.2 609.9,1102.6 615.5,1100.7 621.1,1097.6 626.7,1093.7 632.3,1095.1 637.9,1095.4 643.5,1093.9 649.1,1088.2 654.7,1089 660.3,1083.1 665.9,1081.6 671.5,1075.4 677.1,1075.2 682.7,1073.1 688.3,1068.3 693.9,1066.9 699.5,1065.7 705.1,1059.4 710.7,1049.7 716.3,1043.4 721.9,1038.2 727.5,1031.5 733.1,1028.7 738.7,1024.1 744.3,1017.7 749.9,1012.2 755.5,1006.4 761.1,999.9 766.7,992.5 772.3,994.4 777.9,987.3 783.5,976.2 789.1,970.7 794.7,965.2 800.3,959.1 805.9,952.8 811.5,940.9 817.1,929.8 822.7,919.5 828.3,910.4 833.9,900.8 839.5,891.7 845.1,881.8 850.7,868.6 856.3,864.7 861.9,861.5 867.5,845.5 873.1,836.1 878.7,832.1 884.3,819.9 889.9,808.5 895.5,805.4 901.1,794.7 906.7,788.7 917.7,773.2 928.7,771.5 939.7,777.5 950.7,793.4 961.7,813.8 972.7,833.8 983.7,847.7 994.7,860.4 1005.7,865 1016.7,888.7 1027.7,916.5 1038.7,937.5 1049.7,956.5 1060.7,972.2 1071.7,979.7 1082.7,994.7 1093.7,1006.3 1104.7,1018.2 1115.7,1031.6 1126.7,1042 1137.7,1046.9 1148.7,1048 1159.7,1044.3 1170.7,1043.2 1178.7,1042.4 1186.7,1044.6 1194.7,1049.1 1202.7,1044.7 1210.7,1042.2 1218.7,1037.3 1226.7,1023.1 1234.7,1021 1242.7,1012.6 1250.7,1002.9 1258.7,988.1 1266.7,970.7 1274.7,965.6 1283.1,958.1 1291.6,947 1300,933.9 1308.5,922.2 1316.9,911.9 1325.4,900.3 1333.8,890 1342.3,878.1 1350.7,866.1 1359.2,852.8 1367.6,837.9 1376.1,823 1384.5,802.8 1393,775.8 1401.4,748.3 1409.9,721.4 1418.3,694 1426.8,665.8 1435.2,638.3 1443.7,611.7 1452.1,585.7 1460.6,558.7 1469,534.3 1477.5,508.9 1485.9,482.6 1494.4,456.3 1502.8,431.9 1511.3,407.8 1519.7,384.6 1528.2,361.8 1536.6,340.6 1545.1,322.8 1553.5,312 1562,309.3 1570.4,321.2 1578.9,329.6 1587.3,341.5 1595.8,362.3 1604.2,391 1612.7,408.3 1621.1,426 1629.6,455.7 1638,515.1 1646.5,568.2 1654.9,616.9 1663.4,669.8 1671.8,719.2 1680.3,769.8 1688.7,829.4 1697.2,898.3 1705.6,960.5 1714.1,1010.7 1722.5,1051 1731,1077.3 1739.4,1094.8 1747.9,1108 1756.3,1115.4 1764.8,1122.6 1773.2,1128 1781.7,1131.4 1790.1,1135.1 1798.6,1137.6 1807,1139.9 1815.5,1142.3 1823.9,1144 1832.4,1145.2"/>
<polyline fill="none" stroke="none" marker-start="url(#ma220)" marker-mid="url(#ma220)" marker-end="url(#ma220)" points="459,1138.8 478,1134.7 493.2,1135.5 505.4,1136.5 515.1,1137.1 522.9,1129.3 529.1,1134 535.1,1128.9 541.1,1129.2 547.1,1122.7 553.1,1119 559.1,1117.8 565.1,1117.6 570.7,1113.8 576.3,1107.9 581.9,1112 587.5,1106.5 593.1,1106.3 598.7,1104.7 604.3,1102.3 609.9,1102.1 615.5,1101.3 621.1,1100.7 626.7,1100.3 632.3,1098.3 637.9,1094.6 643.5,1095 649.1,1096.5 654.7,1094.5 660.3,1089.8 665.9,1089 671.5,1087.2 677.1,1085.9 682.7,1083.8 688.3,1074.3 693.9,1070.5 699.5,1071.5 705.1,1067.3 710.7,1062.5 716.3,1046.1 721.9,1047.4 727.5,1032.8 733.1,1039 738.7,1031.1 744.3,1025.4 749.9,1019.2 755.5,1017.9 761.1,1007.5 766.7,1005.8 772.3,998.8 777.9,992.8 783.5,988 789.1,981.7 794.7,972.5 800.3,971.4 805.9,963.1 811.5,950.4 817.1,941.9 822.7,931.2 828.3,914.3 833.9,908.7 839.5,899.4 845.1,889.8 850.7,885.3 856.3,873.4 861.9,865.7 867.5,858.6 873.1,849.6 878.7,840.3 884.3,837 889.9,819.1 895.5,811.6 901.1,798.2 906.7,795.8 917.7,786.4 928.7,777.7 939.7,770.9 950.7,782 961.7,804.6 972.7,821.6 983.7,844.3 994.7,851.9 1005.7,868.6 1016.7,881.4 1027.7,905.7 1038.7,927.6 1049.7,952.1 1060.7,968.3 1071.7,980.3 1082.7,989.5 1093.7,1000.2 1104.7,1015.8 1115.7,1032.7 1126.7,1030.3 1137.7,1038.2 1148.7,1040.3 1159.7,1042.7 1170.7,1038.8 1178.7,1044.9 1186.7,1042.4 1194.7,1040.1 1202.7,1037.4 1210.7,1037 1218.7,1032.6 1226.7,1027.4 1234.7,1017.6 1242.7,1014 1250.7,995.4 1258.7,989.1 1266.7,963.3 1274.7,961.7 1283.1,949.8 1291.6,937.9 1300,925.1 1308.5,915.4 1316.9,903.3 1325.4,893.6 1333.8,881.7 1342.3,869.5 1350.7,856.5 1359.2,843 1367.6,828.3 1376.1,808.7 1384.5,784.6 1393,756.5 1401.4,728.9 1409.9,702.2 1418.3,673.9 1426.8,646.5 1435.2,619.3 1443.7,592.6 1452.1,567.2 1460.6,540.9 1469,515.8 1477.5,490 1485.9,464 1494.4,438.4 1502.8,410.9 1511.3,383.4 1519.7,356.2 1528.2,328.7 1536.6,302.2 1545.1,274.9 1553.5,247.8 1562,235.2 1570.4,233.8 1578.9,239.6 1587.3,249.1 1595.8,264.9 1604.2,280.9 1612.7,290.3 1621.1,298.3 1629.6,310.6 1638,349.7 1646.5,410.9 1654.9,481.4 1663.4,558 1671.8,632.9 1680.3,702.6 1688.7,770.8 1697.2,830.8 1705.6,887.8 1714.1,944 1722.5,998.2 1731,1033.1 1739.4,1058.3 1747.9,1075 1756.3,1086.2 1764.8,1095.1 1773.2,1103 1781.7,1111.2 1790.1,1117.8 1798.6,1125.1 1807,1132.7 1815.5,1139.1 1823.9,1145.3 1832.4,1152.8"/>
<polyline fill="none" stroke="none" marker-start="url(#ma230)" marker-mid="url(#ma230)" marker-end="url(#ma230)" points="459,1137.8 478,1137.8 493.2,1135.5 505.4,1135.2 515.1,1133.6 522.9,1131.5 529.1,1133.5 535.1,1127.7 541.1,1124.7 547.1,1121.9 553.1,1123.1 559.1,1118.7 565.1,1114.3 570.7,1113.2 576.3,1112.7 581.9,1111.9 587.5,1106.1 593.1,1109.4 598.7,1106.2 604.3,1104.2 609.9,1103.6 615.5,1104.6 621.1,1105.2 626.7,1101.1 632.3,1100.6 637.9,1096.8 643.5,1098.3 649.1,1097.8 654.7,1089.2 660.3,1090.4 665.9,1092.4 671.5,1082.7 677.1,1084.6 682.7,1085.1 688.3,1075.6 693.9,1076.7 699.5,1074.8 705.1,1073.7 710.7,1063.2 716.3,1066 721.9,1059 727.5,1057 733.1,1052 738.7,1044.4 744.3,1039.2 749.9,1026.7 755.5,1022 761.1,1017.4 766.7,1013.7 772.3,1012 777.9,998.2 783.5,997 789.1,988.3 794.7,982.4 800.3,986.4 805.9,976.9 811.5,975.7 817.1,967.4 822.7,952.2 828.3,938.8 833.9,939.4 839.5,920.9 845.1,908.7 850.7,905.2 856.3,895 861.9,884.1 867.5,876.5 873.1,869 878.7,859.5 884.3,852.2 889.9,839.4 895.5,830 901.1,823 906.7,811.5 917.7,795.9 928.7,780.5 939.7,771.7 950.7,764.5 961.7,780.3 972.7,791.3 983.7,820.6 994.7,839.5 1005.7,857 1016.7,867.7 1027.7,875.4 1038.7,906.3 1049.7,926.9 1060.7,958.5 1071.7,967.7 1082.7,975.8 1093.7,988.7 1104.7,1005.9 1115.7,1021.2 1126.7,1033.1 1137.7,1034.6 1148.7,1042.2 1159.7,1049.9 1170.7,1042.4 1178.7,1042.7 1186.7,1039.7 1194.7,1037.6 1202.7,1042.9 1210.7,1038 1218.7,1032.8 1226.7,1027.4 1234.7,1022.4 1242.7,1017.2 1250.7,1004.8 1258.7,994.6 1266.7,982.6 1274.7,975.8 1283.1,963.4 1291.6,950.7 1300,938.6 1308.5,926.7 1316.9,916.1 1325.4,905.3 1333.8,893.7 1342.3,882.4 1350.7,870.6 1359.2,857.3 1367.6,843.8 1376.1,829.8 1384.5,812 1393,786.8 1401.4,759.3 1409.9,733.3 1418.3,705 1426.8,678 1435.2,650.1 1443.7,622.4 1452.1,595.8 1460.6,570.4 1469,544.2 1477.5,518.3 1485.9,492.2 1494.4,465.9 1502.8,440 1511.3,413 1519.7,385.8 1528.2,359.8 1536.6,335.2 1545.1,312.1 1553.5,295.3 1562,282.3 1570.4,274.6 1578.9,270.8 1587.3,270.3 1595.8,273 1604.2,279.6 1612.7,289.3 1621.1,301.1 1629.6,311.6 1638,323.5 1646.5,351.8 1654.9,419.4 1663.4,522.5 1671.8,675.7 1680.3,708.1 1688.7,759.1 1697.2,804.7 1705.6,848.1 1714.1,903.9 1722.5,964.5 1731,1009.2 1739.4,1041.5 1747.9,1069.2 1756.3,1091.8 1764.8,1109.9 1773.2,1124.5 1781.7,1136.4 1790.1,1151.9 1798.6,1166.1 1807,1177.6 1815.5,1185.8 1823.9,1193.4 1832.4,1198.2"/>
<polyline fill="none" stroke="none" marker-start="url(#ma240)" marker-mid="url(#ma240)" marker-end="url(#ma240)" points="459,1139.4 478,1139.6 493.2,1139.5 505.4,1141.5 515.1,1138.6 522.9,1137.4 529.1,1136.3 535.1,1140.5 541.1,1133.4 547.1,1136.5 553.1,1127.6 559.1,1128.7 565.1,1130 570.7,1126.9 576.3,1132.7 581.9,1129.7 587.5,1117.9 593.1,1116.9 598.7,1117.1 604.3,1119.6 609.9,1116.1 615.5,1112.3 621.1,1106.1 626.7,1105.5 632.3,1099.1 637.9,1099.7 643.5,1103 649.1,1102.2 654.7,1091.6 660.3,1094.9 665.9,1098.6 671.5,1090.3 677.1,1085.9 682.7,1087 688.3,1084 693.9,1079.5 699.5,1074.2 705.1,1071.8 710.7,1070.8 716.3,1065.2 721.9,1069.5 727.5,1064.5 733.1,1061.9 738.7,1062.2 744.3,1056.8 749.9,1052.5 755.5,1044.5 761.1,1038.4 766.7,1044.4 772.3,1028.4 777.9,1024.2 783.5,1018.6 789.1,1018.2 794.7,1014.1 800.3,1011.5 805.9,1001.3 811.5,990.1 817.1,993 822.7,990.4 828.3,981.4 833.9,975.4 839.5,972.7 845.1,970.6 850.7,959 856.3,947.7 861.9,945.2 867.5,940.7 873.1,928.2 878.7,932.3 884.3,919.9 889.9,918.4 895.5,910.2 901.1,900.7 906.7,900.4 917.7,873.4 928.7,851.6 939.7,827.5 950.7,805.3 961.7,790.9 972.7,787 983.7,797.2 994.7,807.2 1005.7,831.5 1016.7,839.1 1027.7,857.9 1038.7,872.3 1049.7,886.8 1060.7,911.4 1071.7,932.2 1082.7,942.7 1093.7,963.3 1104.7,979.4 1115.7,1003.9 1126.7,1005.1 1137.7,1016.4 1148.7,1016.8 1159.7,1027.7 1170.7,1031.6 1178.7,1028.4 1186.7,1040.1 1194.7,1041.8 1202.7,1029.8 1210.7,1034.6 1218.7,1030 1226.7,1023.2 1234.7,1022 1242.7,1010.7 1250.7,1014 1258.7,1011.2 1266.7,994.1 1274.7,991.1 1283.1,983 1291.6,973.3 1300,962.9 1308.5,951.6 1316.9,940.7 1325.4,929.4 1333.8,919.5 1342.3,908.3 1350.7,898.7 1359.2,885.6 1367.6,872.7 1376.1,857.5 1384.5,841.2 1393,823.7 1401.4,803.5 1409.9,778.2 1418.3,749.2 1426.8,722.8 1435.2,696.2 1443.7,669.6 1452.1,643.5 1460.6,617.9 1469,592 1477.5,564.9 1485.9,538.4 1494.4,511.9 1502.8,482.9 1511.3,447.9 1519.7,410.1 1528.2,377 1536.6,340.7 1545.1,310.1 1553.5,286.4 1562,268.4 1570.4,254.8 1578.9,242.6 1587.3,238.9 1595.8,236.1 1604.2,239.1 1612.7,246.3 1621.1,257.1 1629.6,274.1 1638,300.9 1646.5,321.7 1654.9,351 1663.4,438 1671.8,542.7 1680.3,602.8 1688.7,672.8 1697.2,740.7 1705.6,805.4 1714.1,871.8 1722.5,929.1 1731,976.8 1739.4,1030.1 1747.9,1073.3 1756.3,1092.3 1764.8,1105.5 1773.2,1113 1781.7,1123.5 1790.1,1139.8 1798.6,1170.1 1807,1209.1 1815.5,1230.9 1823.9,1246.8"/>
<polyline fill="none" stroke="none" marker-start="url(#ma280)" marker-mid="url(#ma280)" marker-end="url(#ma280)" points="459,1144.5 478,1139.2 493.2,1139.6 505.4,1142.9 515.1,1138.2 522.9,1141.7 529.1,1141.2 535.1,1140.5 541.1,1140.5 547.1,1139.9 553.1,1139.8 559.1,1137.8 565.1,1138 570.7,1142.8 576.3,1138.9 581.9,1137.1 587.5,1135.7 593.1,1132.6 598.7,1133 604.3,1130.8 609.9,1131.4 615.5,1126.4 621.1,1122.1 626.7,1123.6 632.3,1124 637.9,1125.2 643.5,1121.9 649.1,1113.8 654.7,1114.1 660.3,1109.8 665.9,1109.9 671.5,1105.2 677.1,1100.2 682.7,1103.4 688.3,1099.4 693.9,1095 699.5,1093.3 705.1,1095 710.7,1086.1 716.3,1081.5 721.9,1082.3 727.5,1071.8 733.1,1076.1 738.7,1068.7 744.3,1065.6 749.9,1065.5 755.5,1067.2 761.1,1056.9 766.7,1058.8 772.3,1053.9 777.9,1045.2 783.5,1048.5 789.1,1039.5 794.7,1033.6 800.3,1031.4 805.9,1026.9 811.5,1025.9 817.1,1016.8 822.7,1018.1 828.3,1008.9 833.9,1000.6 839.5,994.8 845.1,992.5 850.7,980.4 856.3,974.5 861.9,973 867.5,972 873.1,965 878.7,958.8 884.3,952.2 889.9,940.4 895.5,939.8 901.1,929.4 906.7,930.9 917.7,915.5 928.7,901.4 939.7,887.2 950.7,869.5 961.7,852 972.7,836.2 983.7,816.8 994.7,800.7 1005.7,796.8 1016.7,792.6 1027.7,785.6 1038.7,779.4 1049.7,785.6 1060.7,792.4 1071.7,807.1 1082.7,821.4 1093.7,841.4 1104.7,864.8 1115.7,879.4 1126.7,899.8 1137.7,913.5 1148.7,939.1 1159.7,960.4 1170.7,975.5 1178.7,982.7 1186.7,998.6 1194.7,1006.6 1202.7,1020 1210.7,1024 1218.7,1022.4 1226.7,1031.4 1234.7,1031.9 1242.7,1037.5 1250.7,1033.4 1258.7,1035.3 1266.7,1034.4 1274.7,1029.5 1283.1,1026.9 1291.6,1024.4 1300,1018.9 1308.5,1012.7 1316.9,1006.5 1325.4,1000.2 1333.8,994.7 1342.3,988.4 1350.7,982.6 1359.2,976.4 1367.6,970.1 1376.1,962.3 1384.5,954.4 1393,944.8 1401.4,934.1 1409.9,918.9 1418.3,904.6 1426.8,891.7 1435.2,881.6 1443.7,872.6 1452.1,862.5 1460.6,851 1469,838.3 1477.5,822.9 1485.9,803.8 1494.4,779.6 1502.8,750.9 1511.3,721.3 1519.7,691.1 1528.2,660 1536.6,626 1545.1,593 1553.5,561.3 1562,537.5 1570.4,516.8 1578.9,496.6 1587.3,476.1 1595.8,456.2 1604.2,436.2 1612.7,415 1621.1,393.8 1629.6,372.6 1638,368.6 1646.5,374.6 1654.9,383.4 1663.4,397.5 1671.8,418.6 1680.3,438.6 1688.7,505.8 1697.2,576.3 1705.6,641.6 1714.1,715.2 1722.5,803.2 1731,944.7 1739.4,1024.7 1747.9,1072.5 1756.3,1104.3 1764.8,1119.1 1773.2,1135.2 1781.7,1175.4 1790.1,1218.9"/>
<polyline fill="none" stroke="none" marker-start="url(#ma300)" marker-mid="url(#ma300)" marker-end="url(#ma300)" points="459,1139.7 478,1139.5 493.2,1140.8 505.4,1140.7 515.1,1140.1 522.9,1136.4 529.1,1136.7 535.1,1138 541.1,1133.2 547.1,1139.7 553.1,1137.5 559.1,1136.3 565.1,1134 570.7,1137.1 576.3,1134 581.9,1138.7 587.5,1134.5 593.1,1129.4 598.7,1134.1 604.3,1130.5 609.9,1129.9 615.5,1129.9 621.1,1129.2 626.7,1129 632.3,1128.9 637.9,1126.7 643.5,1121.1 649.1,1116.8 654.7,1117.1 660.3,1119.9 665.9,1119.9 671.5,1121.6 677.1,1106.9 682.7,1110.5 688.3,1107.3 693.9,1104.5 699.5,1104.4 705.1,1100.5 710.7,1098 716.3,1093.9 721.9,1095.4 727.5,1095.2 733.1,1094.7 738.7,1083.1 744.3,1078 749.9,1078 755.5,1072.4 761.1,1076.6 766.7,1065.8 772.3,1065.9 777.9,1056.7 783.5,1057.1 789.1,1055.6 794.7,1057.2 800.3,1044.3 805.9,1044.4 811.5,1030.5 817.1,1030.1 822.7,1028.2 828.3,1026.4 833.9,1027.3 839.5,1025.3 845.1,1013.5 850.7,1019.1 856.3,1009.3 861.9,1017.5 867.5,1007.2 873.1,1001.6 878.7,993.3 884.3,984.7 889.9,974.8 895.5,962.3 901.1,959.9 906.7,950.7 917.7,938.6 928.7,920.4 939.7,906.6 950.7,879.2 961.7,874.4 972.7,834.2 983.7,803.3 994.7,785.6 1005.7,774.2 1016.7,740.1 1027.7,717 1038.7,709.7 1049.7,707.8 1060.7,717.3 1071.7,730.7 1082.7,746.3 1093.7,755.6 1104.7,762.1 1115.7,791.1 1126.7,819.2 1137.7,847.7 1148.7,869.1 1159.7,891.3 1170.7,926.6 1178.7,950.4 1186.7,958.4 1194.7,977.7 1202.7,984.3 1210.7,984.4 1218.7,987.3 1226.7,998.6 1234.7,1006 1242.7,1016.2 1250.7,1014.6 1258.7,1033.8 1266.7,1035 1274.7,1026.7 1283.1,1026.9 1291.6,1027.8 1300,1026.8 1308.5,1024.6 1316.9,1020.9 1325.4,1017 1333.8,1013 1342.3,1011.1 1350.7,1008 1359.2,1003.7 1367.6,999.8 1376.1,994.9 1384.5,989.3 1393,983.1 1401.4,977.8 1409.9,970.2 1418.3,964 1426.8,954.4 1435.2,945.5 1443.7,933.4 1452.1,918.3 1460.6,897.8 1469,881.6 1477.5,867.2 1485.9,853.3 1494.4,838.9 1502.8,822 1511.3,804.6 1519.7,788.5 1528.2,770.1 1536.6,750.9 1545.1,732.4 1553.5,717.2 1562,700.5 1570.4,671.5 1578.9,644.9 1587.3,622.2 1595.8,602.2 1604.2,585.3 1612.7,567.6 1621.1,551.1 1629.6,540.1 1638,537.9 1646.5,538.6 1654.9,541.9 1663.4,559.2 1671.8,588.5 1680.3,621.6 1688.7,665.8 1697.2,726 1705.6,798.1 1714.1,869.9 1722.5,926.5 1731,1043.2 1739.4,1106.2 1747.9,1126 1756.3,1151.3 1764.8,1186.1 1773.2,1219.1"/>
<polyline fill="none" stroke="none" marker-start="url(#ma340)" marker-mid="url(#ma340)" marker-end="url(#ma340)" points="459,1142.7 478,1140.3 493.2,1142.8 505.4,1139.8 515.1,1139.3 522.9,1139.4 529.1,1138.6 535.1,1139.8 541.1,1139.1 547.1,1136.8 553.1,1138.2 559.1,1136.5 565.1,1136.1 570.7,1136.5 576.3,1138.2 581.9,1136.4 587.5,1137.8 593.1,1137.9 598.7,1134.6 604.3,1133.1 609.9,1132.3 615.5,1133.7 621.1,1134.2 626.7,1135 632.3,1129.3 637.9,1132.7 643.5,1133.6 649.1,1137.2 654.7,1129.8 660.3,1128.3 665.9,1122.8 671.5,1123.8 677.1,1121.4 682.7,1120.2 688.3,1118.8 693.9,1115.2 699.5,1117.6 705.1,1117.1 710.7,1116.3 716.3,1111.7 721.9,1113 727.5,1111 733.1,1101.1 738.7,1102.8 744.3,1097.8 749.9,1096.6 755.5,1098.1 761.1,1095.2 766.7,1097.8 772.3,1097.4 777.9,1090.4 783.5,1086.3 789.1,1084.1 794.7,1082.2 800.3,1081.6 805.9,1075.3 811.5,1076.8 817.1,1072 822.7,1073.6 828.3,1072.3 833.9,1071 839.5,1062.9 845.1,1056.7 850.7,1053 856.3,1054.2 861.9,1047.6 867.5,1043.3 873.1,1043 878.7,1036.5 884.3,1036.4 889.9,1034.7 895.5,1022.6 901.1,1018.5 906.7,1005.9 917.7,995.2 928.7,989.9 939.7,995.5 950.7,969.5 961.7,954 972.7,923.1 983.7,904.9 994.7,889.6 1005.7,870.2 1016.7,845.3 1027.7,797.2 1038.7,764.1 1049.7,750.9 1060.7,732.2 1071.7,713.6 1082.7,711.3 1093.7,697.4 1104.7,697.1 1115.7,688.8 1126.7,695.8 1137.7,708.8 1148.7,726.4 1159.7,754.2 1170.7,770.9 1178.7,793.5 1186.7,807.2 1194.7,829.2 1202.7,845.7 1210.7,860.9 1218.7,886.5 1226.7,896.3 1234.7,915.9 1242.7,923.8 1250.7,942 1258.7,955.8 1266.7,966.4 1274.7,974.9 1283.1,983.7 1291.6,991.8 1300,1001.2 1308.5,1008.6 1316.9,1015.8 1325.4,1022.3 1333.8,1027.5 1342.3,1031 1350.7,1034.6 1359.2,1036.7 1367.6,1038 1376.1,1039 1384.5,1039.3 1393,1039.3 1401.4,1039 1409.9,1038.5 1418.3,1036.9 1426.8,1035.6 1435.2,1032.2 1443.7,1029.8 1452.1,1026.5 1460.6,1022.1 1469,1016.1 1477.5,1010.1 1485.9,1003.8 1494.4,997.3 1502.8,990.6 1511.3,981.3 1519.7,971.5 1528.2,962.7 1536.6,953.4 1545.1,944.5 1553.5,935.2 1562,926.1 1570.4,917.3 1578.9,909 1587.3,901.3 1595.8,894.6 1604.2,887.3 1612.7,883.2 1621.1,879.7 1629.6,877.3 1638,876.8 1646.5,878.7 1654.9,885.8 1663.4,906.2 1671.8,931.4 1680.3,954 1688.7,972.7 1697.2,1004.6 1705.6,1048.9 1714.1,1082 1722.5,1105.7 1731,1127.2 1739.4,1149.2 1747.9,1184.9 1756.3,1224.3"/>
<polyline fill="none" stroke="none" marker-start="url(#ma380)" marker-mid="url(#ma380)" marker-end="url(#ma380)" points="459,1140.5 478,1147.3 493.2,1139.2 505.4,1142.5 515.1,1143.2 522.9,1135.9 529.1,1144.4 535.1,1141 541.1,1142.6 547.1,1140.7 553.1,1136.9 559.1,1141.9 565.1,1141.4 570.7,1143.8 576.3,1142 581.9,1135.3 587.5,1143.4 593.1,1142.3 598.7,1141.9 604.3,1140.8 609.9,1136.9 615.5,1140.3 621.1,1137.3 626.7,1146.7 632.3,1137 637.9,1134 643.5,1135.3 649.1,1143.9 654.7,1133.2 660.3,1122.9 665.9,1141.1 671.5,1133.8 677.1,1127.9 682.7,1132.1 688.3,1122.1 693.9,1119.1 699.5,1128.2 705.1,1119.5 710.7,1123.9 716.3,1120.6 721.9,1124.2 727.5,1120.2 733.1,1109 738.7,1122.3 744.3,1116.1 749.9,1122.5 755.5,1118.2 761.1,1124.3 766.7,1114.9 772.3,1105.4 777.9,1113 783.5,1116.1 789.1,1110.7 794.7,1109.1 800.3,1117.9 805.9,1109.1 811.5,1114.8 817.1,1110 822.7,1101.8 828.3,1104.2 833.9,1107 839.5,1109.6 845.1,1103.2 850.7,1099.1 856.3,1099.9 861.9,1101 867.5,1097.9 873.1,1098.2 878.7,1109.2 884.3,1099.9 889.9,1093.1 895.5,1095.7 901.1,1102.2 906.7,1096 917.7,1089.1 928.7,1078.4 939.7,1070 950.7,1069.2 961.7,1061.7 972.7,1045.1 983.7,1039.2 994.7,1039.8 1005.7,1022.3 1016.7,1016.7 1027.7,1015.8 1038.7,1007.2 1049.7,991.2 1060.7,983 1071.7,977.4 1082.7,965.9 1093.7,950.4 1104.7,952.6 1115.7,942.2 1126.7,931.8 1137.7,917.9 1148.7,920 1159.7,904.3 1170.7,912.8 1178.7,903.1 1186.7,916.4 1194.7,929.1 1202.7,930.3 1210.7,944.7 1218.7,943.5 1226.7,950.2 1234.7,954.1 1242.7,964.6 1250.7,968.9 1258.7,984.3 1266.7,996.5 1274.7,996.5 1283.1,1002.9 1291.6,1010.5 1300,1016.7 1308.5,1021.8 1316.9,1027.7 1325.4,1034.3 1333.8,1039.7 1342.3,1041.9 1350.7,1048.5 1359.2,1051.9 1367.6,1055.1 1376.1,1057.7 1384.5,1061 1393,1063.1 1401.4,1063.4 1409.9,1065.9 1418.3,1066.1 1426.8,1066.5 1435.2,1064.7 1443.7,1062.3 1452.1,1060.1 1460.6,1058.3 1469,1055.8 1477.5,1053.6 1485.9,1050.1 1494.4,1046.6 1502.8,1043.3 1511.3,1037.4 1519.7,1031.5 1528.2,1026.5 1536.6,1021.1 1545.1,1017.4 1553.5,1014.9 1562,1010.8 1570.4,1008 1578.9,1004.6 1587.3,1002.3 1595.8,1000.3 1604.2,999.2 1612.7,996.5 1621.1,994.2 1629.6,996 1638,1000.5 1646.5,1006.9 1654.9,1019.6 1663.4,1036.3 1671.8,1054.6 1680.3,1070.1 1688.7,1087.8 1697.2,1104.1 1705.6,1119.9 1714.1,1136.1 1722.5,1153.9 1731,1172.8 1739.4,1197 1747.9,1229.4"/>
<polyline fill="none" stroke="none" marker-start="url(#ma400)" marker-mid="url(#ma400)" marker-end="url(#ma400)" points="459,1146.1 478,1147.6 493.2,1152.1 505.4,1143.6 515.1,1142.6 522.9,1148.6 529.1,1146 535.1,1140 541.1,1142.5 547.1,1142.8 553.1,1143.3 559.1,1145.9 565.1,1147.7 570.7,1144.1 576.3,1144.8 581.9,1142 587.5,1147.1 593.1,1147.8 598.7,1142.8 604.3,1141.2 609.9,1149.4 615.5,1145.8 621.1,1140.1 626.7,1137.5 632.3,1141.4 637.9,1145.7 643.5,1139.3 649.1,1140.6 654.7,1139.1 660.3,1144.6 665.9,1148 671.5,1134.4 677.1,1138.9 682.7,1139 688.3,1136.5 693.9,1133.3 699.5,1143 705.1,1139.2 710.7,1141.7 716.3,1145.2 721.9,1135.4 727.5,1139.5 733.1,1134.4 738.7,1135.5 744.3,1137.2 749.9,1134.3 755.5,1127.2 761.1,1142 766.7,1134.8 772.3,1128 777.9,1122.4 783.5,1133 789.1,1136.1 794.7,1137.7 800.3,1138 805.9,1130.3 811.5,1135.3 817.1,1124.2 822.7,1132.6 828.3,1136.3 833.9,1128.6 839.5,1130.7 845.1,1132 850.7,1132.1 856.3,1138.7 861.9,1125.8 867.5,1137.8 873.1,1124.8 878.7,1127.6 884.3,1127 889.9,1130.3 895.5,1128.2 901.1,1133 906.7,1130.5 917.7,1141.1 928.7,1131.7 939.7,1128 950.7,1129.9 961.7,1128.5 972.7,1121.2 983.7,1112.8 994.7,1110.3 1005.7,1111.2 1016.7,1109.9 1027.7,1103 1038.7,1094.8 1049.7,1092.7 1060.7,1082.6 1071.7,1082.2 1082.7,1083.8 1093.7,1076.6 1104.7,1070 1115.7,1055.4 1126.7,1053 1137.7,1042.5 1148.7,1048.6 1159.7,1038.8 1170.7,1031.9 1178.7,1035.3 1186.7,1039.3 1194.7,1027.7 1202.7,1032.8 1210.7,1045.8 1218.7,1042.5 1226.7,1043 1234.7,1036.5 1242.7,1054 1250.7,1052.8 1258.7,1052.9 1266.7,1046 1274.7,1054.3 1283.1,1058.1 1291.6,1060.9 1300,1064.7 1308.5,1068.1 1316.9,1071.7 1325.4,1073.6 1333.8,1075 1342.3,1075.6 1350.7,1076.7 1359.2,1079.2 1367.6,1080.4 1376.1,1080.4 1384.5,1081 1393,1080 1401.4,1080.4 1409.9,1080.7 1418.3,1080.4 1426.8,1081.1 1435.2,1078 1443.7,1076.3 1452.1,1073.8 1460.6,1070.6 1469,1068.5 1477.5,1063.8 1485.9,1062 1494.4,1057.7 1502.8,1052.8 1511.3,1048.8 1519.7,1044.8 1528.2,1039.3 1536.6,1035.8 1545.1,1031.9 1553.5,1028.3 1562,1024.2 1570.4,1020.7 1578.9,1018.3 1587.3,1014.5 1595.8,1012.2 1604.2,1009 1612.7,1006.1 1621.1,1005.6 1629.6,1004.9 1638,1005.7 1646.5,1010.7 1654.9,1019 1663.4,1030.8 1671.8,1043.7 1680.3,1061.1 1688.7,1078.3 1697.2,1099.1 1705.6,1117.4 1714.1,1132.4 1722.5,1147.4 1731,1166.3 1739.4,1193.4 1747.9,1226.8"/>
<polyline fill="none" stroke="none" marker-start="url(#ma440)" marker-mid="url(#ma440)" marker-end="url(#ma440)" points="459,1144.7 478,1143.2 493.2,1146.6 505.4,1140 515.1,1141.3 522.9,1142.5 529.1,1146 535.1,1143.3 541.1,1142.1 547.1,1145.1 553.1,1142.6 559.1,1142.1 565.1,1142.8 570.7,1144.2 576.3,1149.7 581.9,1140.5 587.5,1143.7 593.1,1142.5 598.7,1142.1 604.3,1146.2 609.9,1144.3 615.5,1143.9 621.1,1141 626.7,1139.9 632.3,1142.5 637.9,1141 643.5,1139.4 649.1,1144.2 654.7,1136.5 660.3,1138.3 665.9,1144.2 671.5,1140.5 677.1,1143.3 682.7,1137.1 688.3,1143.1 693.9,1137.2 699.5,1145.3 705.1,1142.8 710.7,1141.3 716.3,1145.3 721.9,1140.3 727.5,1136.2 733.1,1144.7 738.7,1139.6 744.3,1142.8 749.9,1138.3 755.5,1142.1 761.1,1133.7 766.7,1131.8 772.3,1131 777.9,1139.3 783.5,1128.1 789.1,1128.6 794.7,1129.7 800.3,1136 805.9,1136.5 811.5,1131.2 817.1,1137.2 822.7,1135 828.3,1138.2 833.9,1136.8 839.5,1130 845.1,1133.2 850.7,1131.3 856.3,1133.5 861.9,1132.1 867.5,1131 873.1,1133.4 878.7,1130.4 884.3,1132.7 889.9,1129.5 895.5,1128.3 901.1,1132.3 906.7,1132 917.7,1132.2 928.7,1128.7 939.7,1124.3 950.7,1124.7 961.7,1123.4 972.7,1114.5 983.7,1115.7 994.7,1125 1005.7,1117.4 1016.7,1105 1027.7,1114.6 1038.7,1114.5 1049.7,1107.8 1060.7,1120.6 1071.7,1114.8 1082.7,1112.3 1093.7,1107.1 1104.7,1108.6 1115.7,1108.9 1126.7,1106.4 1137.7,1100.9 1148.7,1103.5 1159.7,1102.6 1170.7,1102.7 1178.7,1097 1186.7,1101.7 1194.7,1100.1 1202.7,1100.4 1210.7,1099.7 1218.7,1092.6 1226.7,1101.2 1234.7,1100.3 1242.7,1091.5 1250.7,1096.2 1258.7,1092.9 1266.7,1094.3 1274.7,1095.8 1283.1,1095.4 1291.6,1095.9 1300,1094.8 1308.5,1094.1 1316.9,1094.6 1325.4,1093.3 1333.8,1095.4 1342.3,1095 1350.7,1095.6 1359.2,1096.3 1367.6,1096.7 1376.1,1097.9 1384.5,1098.5 1393,1099.3 1401.4,1100.3 1409.9,1100 1418.3,1101.9 1426.8,1101.1 1435.2,1102.5 1443.7,1102.2 1452.1,1102.3 1460.6,1103.3 1469,1103.4 1477.5,1103.3 1485.9,1103.3 1494.4,1102.8 1502.8,1102.8 1511.3,1101.8 1519.7,1101.5 1528.2,1101.5 1536.6,1099.8 1545.1,1099.5 1553.5,1098.8 1562,1098.1 1570.4,1097.4 1578.9,1097.7 1587.3,1098 1595.8,1098.3 1604.2,1098.3 1612.7,1100.4 1621.1,1101.6 1629.6,1102.7 1638,1104.6 1646.5,1109 1654.9,1115.8 1663.4,1123.4 1671.8,1133.5 1680.3,1144.4 1688.7,1157.5 1697.2,1170.1 1705.6,1184.3 1714.1,1197.3 1722.5,1210.6 1731,1223.7"/>
<polyline fill="none" stroke="none" marker-start="url(#ma500)" marker-mid="url(#ma500)" marker-end="url(#ma500)" points="459,1198.9 478,1182 493.2,1153.5 505.4,1142.9 515.1,1142.8 522.9,1143.3 529.1,1143 535.1,1144.4 541.1,1144.5 547.1,1144.9 553.1,1142.8 559.1,1143.9 565.1,1141.7 570.7,1143.5 576.3,1143.7 581.9,1141.9 587.5,1137 593.1,1141.5 598.7,1147.3 604.3,1142.4 609.9,1141.4 615.5,1142.7 621.1,1144.5 626.7,1143.1 632.3,1142.1 637.9,1140.1 643.5,1141.5 649.1,1138.8 654.7,1143.4 660.3,1146.8 665.9,1145.4 671.5,1140.4 677.1,1139.2 682.7,1138 688.3,1143.4 693.9,1143.7 699.5,1144.4 705.1,1143 710.7,1138.3 716.3,1136.1 721.9,1145.1 727.5,1139.2 733.1,1147.4 738.7,1135.4 744.3,1138.3 749.9,1138.8 755.5,1142.3 761.1,1143.5 766.7,1139.8 772.3,1143.2 777.9,1137.5 783.5,1139.8 789.1,1137.6 794.7,1139.6 800.3,1139.3 805.9,1142 811.5,1151.4 817.1,1136.9 822.7,1140.4 828.3,1143 833.9,1141.1 839.5,1145 845.1,1137.7 850.7,1143 856.3,1138.2 861.9,1143 867.5,1140.9 873.1,1141.1 878.7,1138.5 884.3,1134.7 889.9,1136.8 895.5,1142.1 901.1,1139.1 906.7,1142 917.7,1135.5 928.7,1140.9 939.7,1141.5 950.7,1131.2 961.7,1138.1 972.7,1142.2 983.7,1133.4 994.7,1137.9 1005.7,1134.3 1016.7,1136.1 1027.7,1131.8 1038.7,1130.1 1049.7,1130.7 1060.7,1130.5 1071.7,1129.4 1082.7,1128.2 1093.7,1133.8 1104.7,1128.4 1115.7,1126.2 1126.7,1126.7 1137.7,1130.7 1148.7,1122.4 1159.7,1130.4 1170.7,1130.9 1178.7,1132.6 1186.7,1127.4 1194.7,1126.3 1202.7,1129.3 1210.7,1129.2 1218.7,1132.8 1226.7,1129 1234.7,1127.6 1242.7,1124.9 1250.7,1128.4 1258.7,1129.4 1266.7,1133 1274.7,1130 1283.1,1131 1291.6,1131.7 1300,1131.7 1308.5,1132.4 1316.9,1133.4 1325.4,1134.3 1333.8,1134.9 1342.3,1136.2 1350.7,1137 1359.2,1138 1367.6,1138.5 1376.1,1139.2 1384.5,1140.4 1393,1140.9 1401.4,1142.2 1409.9,1142.9 1418.3,1144.5 1426.8,1144.1 1435.2,1146.3 1443.7,1147.4 1452.1,1148.2 1460.6,1149.6 1469,1151 1477.5,1152.9 1485.9,1154.9 1494.4,1156.6 1502.8,1159.9 1511.3,1162.1 1519.7,1165.8 1528.2,1169.2 1536.6,1172.1 1545.1,1176.5 1553.5,1180.3 1562,1185.3 1570.4,1189.4 1578.9,1194.2 1587.3,1199.9 1595.8,1206.9 1604.2,1214.8 1612.7,1223.3 1621.1,1231.4 1629.6,1240 1638,1246.5"/>
</g>
<g clip-path="url(#clip-b)">
<polyline fill="none" stroke="none" marker-start="url(#mb80)" marker-mid="url(#mb80)" marker-end="url(#mb80)" points="451.8,2745 460.2,2745 468.7,2745 477.1,2745 485.6,2745 494,2744.9 502.5,2744.9 510.9,2744.9 519.4,2744.8 527.8,2744.8 536.3,2744.8 544.7,2744.7 553.2,2744.6 561.6,2744.6 570.1,2744.5 578.5,2744.5 587,2744.4 595.4,2744.3 603.9,2744.2 612.3,2744.1 620.8,2744 629.2,2743.9 637.7,2743.8 646.1,2743.7 654.6,2743.6 663,2743.5 671.5,2743.4 679.9,2743.3 688.4,2743.1 696.8,2743 705.3,2742.9 713.7,2742.7 722.2,2742.6 730.6,2742.4 739.1,2742.2 747.5,2742.1 756,2741.9 764.4,2741.7 772.9,2741.6 781.3,2741.4 789.8,2741.2 798.2,2741 806.7,2740.8 815.1,2740.6 823.6,2740.4 832,2740.2 840.5,2740 848.9,2739.8 857.4,2739.5 865.8,2739.3 874.3,2739.1 882.7,2738.8 891.2,2738.6 899.6,2738.3 908.1,2738.1 916.5,2737.8 925,2737.6 933.4,2737.3 941.9,2737 950.3,2736.7 958.8,2736.4 967.2,2736.2 975.7,2735.9 984.1,2735.6 992.6,2735.3 1001,2735 1009.5,2734.6 1017.9,2734 1026.4,2733.4 1034.8,2732.6 1043.3,2731.8 1051.7,2730.8 1060.2,2729.9 1068.6,2728.9 1077.1,2727.8 1085.5,2726.8 1094,2725.7 1102.4,2724.7 1110.9,2723.7 1119.3,2722.7 1127.8,2721.6 1136.2,2720.5 1144.7,2719.4 1153.1,2718.2 1161.6,2716.9 1170,2715.6 1178.5,2714.1 1186.9,2712.6 1195.4,2711 1203.8,2709.2 1212.3,2707.1 1220.7,2704.8 1229.2,2702.3 1237.6,2699.5 1246.1,2696.5 1254.5,2693.3 1263,2690 1271.4,2686.5 1279.9,2682.8 1288.3,2678.7 1296.8,2674.2 1305.2,2669.4 1313.7,2664.2 1322.1,2658.8 1330.6,2653.3 1339,2647.5 1347.5,2641.7 1355.9,2635.8 1364.4,2629.7 1372.8,2623.4 1381.3,2616.6 1389.7,2609.4 1398.2,2601.7 1406.6,2593.4 1415.1,2584.4 1423.5,2574.7 1432,2564.3 1440.4,2553.3 1448.9,2541.6 1457.3,2529.1 1465.8,2515.7 1474.2,2501.1 1482.7,2485.1 1491.1,2467.5 1499.6,2446.2 1508,2421.7 1516.5,2396.4 1524.9,2372.3 1533.4,2350.7 1541.8,2330.2 1550.3,2309.1 1558.7,2286 1567.2,2261.4 1575.6,2237.7 1584.1,2214.6 1592.5,2194.2 1601,2175.6 1609.4,2160.8 1617.9,2149.7 1626.3,2140.5 1634.8,2135.1 1643.2,2132.5 1651.7,2130.7 1660.1,2130 1668.6,2133.2 1677,2140.9 1685.5,2150.6 1693.9,2164 1702.4,2183.1 1710.8,2208.1 1719.3,2244.8 1727.7,2313.4 1736.2,2398.6 1744.6,2479.2 1753.1,2592.3 1761.5,2676.7 1770,2740 1778.4,2786.1 1786.9,2831.2"/>
<polyline fill="none" stroke="none" marker-start="url(#mb120)" marker-mid="url(#mb120)" marker-end="url(#mb120)" points="451.8,2745 460.2,2745 468.7,2745 477.1,2745 485.6,2744.9 494,2744.9 502.5,2744.8 510.9,2744.8 519.4,2744.7 527.8,2744.7 536.3,2744.6 544.7,2744.5 553.2,2744.4 561.6,2744.3 570.1,2744.2 578.5,2744.1 587,2744 595.4,2743.9 603.9,2743.7 612.3,2743.6 620.8,2743.4 629.2,2743.3 637.7,2743.1 646.1,2743 654.6,2742.8 663,2742.6 671.5,2742.4 679.9,2742.2 688.4,2742 696.8,2741.8 705.3,2741.6 713.7,2741.4 722.2,2741.1 730.6,2740.9 739.1,2740.7 747.5,2740.4 756,2740.2 764.4,2739.9 772.9,2739.6 781.3,2739.3 789.8,2739.1 798.2,2738.8 806.7,2738.5 815.1,2738.2 823.6,2737.9 832,2737.5 840.5,2737.2 848.9,2736.9 857.4,2736.6 865.8,2736.2 874.3,2735.9 882.7,2735.5 891.2,2735.2 899.6,2734.8 908.1,2734.4 916.5,2734 925,2733.7 933.4,2733.3 941.9,2732.9 950.3,2732.5 958.8,2732.1 967.2,2731.7 975.7,2731.2 984.1,2730.8 992.6,2730.4 1001,2729.9 1009.5,2729.4 1017.9,2728.7 1026.4,2728 1034.8,2727.1 1043.3,2726.1 1051.7,2725 1060.2,2723.9 1068.6,2722.7 1077.1,2721.4 1085.5,2720.2 1094,2718.9 1102.4,2717.6 1110.9,2716.3 1119.3,2715 1127.8,2713.6 1136.2,2712.2 1144.7,2710.6 1153.1,2709 1161.6,2707.3 1170,2705.5 1178.5,2703.5 1186.9,2701.5 1195.4,2699.3 1203.8,2696.9 1212.3,2694.2 1220.7,2691.1 1229.2,2687.7 1237.6,2684.1 1246.1,2680.1 1254.5,2676 1263,2671.6 1271.4,2667 1279.9,2662.2 1288.3,2656.8 1296.8,2650.9 1305.2,2644.6 1313.7,2637.8 1322.1,2630.5 1330.6,2622.8 1339,2614.1 1347.5,2604.6 1355.9,2594.5 1364.4,2583.9 1372.8,2572.3 1381.3,2559.9 1389.7,2546.9 1398.2,2533.8 1406.6,2520.7 1415.1,2507.3 1423.5,2493.7 1432,2479.6 1440.4,2465 1448.9,2450 1457.3,2433 1465.8,2412.9 1474.2,2390.8 1482.7,2369 1491.1,2348 1499.6,2327.1 1508,2305.7 1516.5,2282.4 1524.9,2257.8 1533.4,2237.2 1541.8,2222.8 1550.3,2211.1 1558.7,2201.3 1567.2,2193.2 1575.6,2186.3 1584.1,2179.3 1592.5,2172.5 1601,2167.5 1609.4,2163.8 1617.9,2160.9 1626.3,2160 1634.8,2161.6 1643.2,2164.8 1651.7,2168.9 1660.1,2176.2 1668.6,2186.4 1677,2197.9 1685.5,2212.8 1693.9,2229.2 1702.4,2243.5 1710.8,2251.9 1719.3,2259.2 1727.7,2272.4 1736.2,2326.2 1744.6,2513.3 1753.1,2659.2 1761.5,2729.5 1770,2770 1778.4,2809.4 1786.9,2849.7"/>
<polyline fill="none" stroke="none" marker-start="url(#mb170)" marker-mid="url(#mb170)" marker-end="url(#mb170)" points="451.8,2745 460.2,2745 468.7,2745 477.1,2745 485.6,2745 494,2745 502.5,2745 510.9,2745 519.4,2745 527.8,2745 536.3,2745 544.7,2744.9 553.2,2744.9 561.6,2744.9 570.1,2744.9 578.5,2744.9 587,2744.9 595.4,2744.9 603.9,2744.8 612.3,2744.8 620.8,2744.8 629.2,2744.8 637.7,2744.7 646.1,2744.7 654.6,2744.7 663,2744.7 671.5,2744.6 679.9,2744.6 688.4,2744.6 696.8,2744.5 705.3,2744.5 713.7,2744.4 722.2,2744.4 730.6,2744.3 739.1,2744.3 747.5,2744.3 756,2744.2 764.4,2744.1 772.9,2744.1 781.3,2744 789.8,2744 798.2,2743.9 806.7,2743.9 815.1,2743.8 823.6,2743.7 832,2743.7 840.5,2743.6 848.9,2743.5 857.4,2743.4 865.8,2743.3 874.3,2743.3 882.7,2743.2 891.2,2743.1 899.6,2743 908.1,2742.8 916.5,2742.3 925,2741.5 933.4,2740.5 941.9,2739.3 950.3,2737.9 958.8,2736.3 967.2,2734.6 975.7,2732.7 984.1,2730.8 992.6,2728.8 1001,2726.7 1009.5,2724 1017.9,2720.5 1026.4,2716.4 1034.8,2712 1043.3,2707.5 1051.7,2703.1 1060.2,2699.3 1068.6,2696.1 1077.1,2693.3 1085.5,2690.9 1094,2688.6 1102.4,2686.5 1110.9,2684.3 1119.3,2682 1127.8,2679.5 1136.2,2676.7 1144.7,2673.5 1153.1,2670 1161.6,2666.2 1170,2662.1 1178.5,2657.7 1186.9,2652.9 1195.4,2647.8 1203.8,2642.3 1212.3,2636.5 1220.7,2630 1229.2,2622.2 1237.6,2613.4 1246.1,2603.9 1254.5,2594.2 1263,2584.1 1271.4,2573.4 1279.9,2562.1 1288.3,2550.1 1296.8,2537.4 1305.2,2523.6 1313.7,2509.1 1322.1,2494.2 1330.6,2479.5 1339,2465 1347.5,2450.1 1355.9,2434 1364.4,2415.9 1372.8,2395.7 1381.3,2375 1389.7,2354.5 1398.2,2333.5 1406.6,2311.2 1415.1,2287.3 1423.5,2262.4 1432,2234.4 1440.4,2209 1448.9,2192.4 1457.3,2178.5 1465.8,2166.6 1474.2,2155.9 1482.7,2145.9 1491.1,2136 1499.6,2125.6 1508,2115.6 1516.5,2107.5 1524.9,2101.9 1533.4,2097 1541.8,2093.4 1550.3,2092 1558.7,2092.7 1567.2,2094.4 1575.6,2096.7 1584.1,2099.4 1592.5,2103.7 1601,2109.2 1609.4,2115.9 1617.9,2123.8 1626.3,2134.4 1634.8,2146.7 1643.2,2160 1651.7,2174.8 1660.1,2191.3 1668.6,2209 1677,2230.5 1685.5,2254.5 1693.9,2268.8 1702.4,2273.7 1710.8,2276 1719.3,2277.9 1727.7,2281.8 1736.2,2290.6 1744.6,2473.3 1753.1,2631.8 1761.5,2717.8 1770,2760.4 1778.4,2800.3 1786.9,2839.4"/>
<polyline fill="none" stroke="none" marker-start="url(#mb180)" marker-mid="url(#mb180)" marker-end="url(#mb180)" points="451.8,2745 460.2,2745 468.7,2745 477.1,2745 485.6,2745 494,2745 502.5,2745 510.9,2745 519.4,2745 527.8,2745 536.3,2745 544.7,2744.9 553.2,2744.9 561.6,2744.9 570.1,2744.9 578.5,2744.9 587,2744.9 595.4,2744.9 603.9,2744.8 612.3,2744.8 620.8,2744.8 629.2,2744.8 637.7,2744.7 646.1,2744.7 654.6,2744.7 663,2744.7 671.5,2744.6 679.9,2744.6 688.4,2744.6 696.8,2744.5 705.3,2744.5 713.7,2744.4 722.2,2744.4 730.6,2744.3 739.1,2744.3 747.5,2744.3 756,2744.2 764.4,2744.2 772.9,2744.1 781.3,2744 789.8,2744 798.2,2743.9 806.7,2743.9 815.1,2743.8 823.6,2743.7 832,2743.7 840.5,2743.6 848.9,2743.5 857.4,2743.4 865.8,2743.3 874.3,2743.3 882.7,2743.2 891.2,2743.1 899.6,2743 908.1,2742.8 916.5,2742.2 925,2741.4 933.4,2740.3 941.9,2739 950.3,2737.5 958.8,2735.8 967.2,2734 975.7,2732 984.1,2730 992.6,2727.9 1001,2725.7 1009.5,2723 1017.9,2719.5 1026.4,2715.4 1034.8,2711.1 1043.3,2706.7 1051.7,2702.6 1060.2,2698.8 1068.6,2695.7 1077.1,2693.1 1085.5,2690.6 1094,2688.4 1102.4,2686.2 1110.9,2684 1119.3,2681.7 1127.8,2679.2 1136.2,2676.3 1144.7,2673.1 1153.1,2669.5 1161.6,2665.7 1170,2661.6 1178.5,2657.1 1186.9,2652.3 1195.4,2647.2 1203.8,2641.7 1212.3,2635.8 1220.7,2629.1 1229.2,2621.2 1237.6,2612.3 1246.1,2602.8 1254.5,2593.1 1263,2582.9 1271.4,2572.1 1279.9,2560.7 1288.3,2548.7 1296.8,2535.8 1305.2,2521.9 1313.7,2507.3 1322.1,2492.5 1330.6,2477.8 1339,2463.3 1347.5,2448.3 1355.9,2432 1364.4,2413.5 1372.8,2393.2 1381.3,2372.6 1389.7,2352.1 1398.2,2330.9 1406.6,2308.5 1415.1,2284.4 1423.5,2259.4 1432,2231.7 1440.4,2206.8 1448.9,2188.3 1457.3,2172 1465.8,2157.4 1474.2,2144 1482.7,2131.1 1491.1,2118.2 1499.6,2104.7 1508,2092.4 1516.5,2083.8 1524.9,2077 1533.4,2071.4 1541.8,2068.3 1550.3,2068.2 1558.7,2069 1567.2,2070.4 1575.6,2072.1 1584.1,2075.3 1592.5,2080.4 1601,2087 1609.4,2094.5 1617.9,2104 1626.3,2116.5 1634.8,2130.8 1643.2,2146 1651.7,2163.1 1660.1,2181.9 1668.6,2201.4 1677,2225 1685.5,2248.4 1693.9,2261.9 1702.4,2267.6 1710.8,2270.4 1719.3,2272.6 1727.7,2276.5 1736.2,2284.5 1744.6,2392.2 1753.1,2565.2 1761.5,2687.2 1770,2741.9 1778.4,2781.9 1786.9,2820.5"/>
<polyline fill="none" stroke="none" marker-start="url(#mb200)" marker-mid="url(#mb200)" marker-end="url(#mb200)" points="451.8,2745 460.2,2745 468.7,2745 477.1,2745 485.6,2745 494,2745 502.5,2745 510.9,2745 519.4,2745 527.8,2745 536.3,2745 544.7,2744.9 553.2,2744.9 561.6,2744.9 570.1,2744.9 578.5,2744.9 587,2744.9 595.4,2744.9 603.9,2744.8 612.3,2744.8 620.8,2744.8 629.2,2744.8 637.7,2744.7 646.1,2744.7 654.6,2744.7 663,2744.7 671.5,2744.6 679.9,2744.6 688.4,2744.6 696.8,2744.5 705.3,2744.5 713.7,2744.4 722.2,2744.4 730.6,2744.4 739.1,2744.3 747.5,2744.3 756,2744.2 764.4,2744.2 772.9,2744.1 781.3,2744 789.8,2744 798.2,2743.9 806.7,2743.9 815.1,2743.8 823.6,2743.7 832,2743.7 840.5,2743.6 848.9,2743.5 857.4,2743.4 865.8,2743.3 874.3,2743.3 882.7,2743.2 891.2,2743.1 899.6,2743 908.1,2742.7 916.5,2742.1 925,2741.1 933.4,2739.8 941.9,2738.3 950.3,2736.5 958.8,2734.6 967.2,2732.5 975.7,2730.3 984.1,2728.1 992.6,2725.9 1001,2723.7 1009.5,2721.2 1017.9,2718.3 1026.4,2715.1 1034.8,2711.6 1043.3,2708.1 1051.7,2704.6 1060.2,2701.2 1068.6,2698.1 1077.1,2695.4 1085.5,2692.9 1094,2690.5 1102.4,2688.3 1110.9,2686.1 1119.3,2683.8 1127.8,2681.4 1136.2,2678.7 1144.7,2675.8 1153.1,2672.5 1161.6,2668.9 1170,2665 1178.5,2660.9 1186.9,2656.3 1195.4,2651.5 1203.8,2646.3 1212.3,2640.7 1220.7,2634.7 1229.2,2627.9 1237.6,2619.7 1246.1,2610.7 1254.5,2601.1 1263,2591.4 1271.4,2581.1 1279.9,2570.2 1288.3,2558.7 1296.8,2546.6 1305.2,2533.5 1313.7,2519.4 1322.1,2504.8 1330.6,2489.9 1339,2475.3 1347.5,2460.8 1355.9,2445.6 1364.4,2429 1372.8,2410.2 1381.3,2389.7 1389.7,2369.1 1398.2,2348.5 1406.6,2327.2 1415.1,2304.5 1423.5,2280.2 1432,2255 1440.4,2228.3 1448.9,2202.9 1457.3,2180.3 1465.8,2158.4 1474.2,2134.6 1482.7,2109.4 1491.1,2087.3 1499.6,2068.2 1508,2052.7 1516.5,2042.1 1524.9,2033.6 1533.4,2027.7 1541.8,2024.2 1550.3,2021.4 1558.7,2020 1567.2,2021.1 1575.6,2024.7 1584.1,2029.5 1592.5,2035.9 1601,2045.4 1609.4,2056.5 1617.9,2068.7 1626.3,2083.2 1634.8,2099.5 1643.2,2116.9 1651.7,2136.4 1660.1,2157.5 1668.6,2179.8 1677,2205.1 1685.5,2229.4 1693.9,2246.9 1702.4,2255.8 1710.8,2265.8 1719.3,2287.4 1727.7,2455.5 1736.2,2618.5 1744.6,2712 1753.1,2756.3 1761.5,2796.2 1770,2835"/>
<polyline fill="none" stroke="none" marker-start="url(#mb210)" marker-mid="url(#mb210)" marker-end="url(#mb210)" points="451.8,2745 460.2,2745 468.7,2745 477.1,2745 485.6,2745 494,2745 502.5,2745 510.9,2745 519.4,2744.9 527.8,2744.9 536.3,2744.9 544.7,2744.9 553.2,2744.9 561.6,2744.8 570.1,2744.8 578.5,2744.8 587,2744.7 595.4,2744.7 603.9,2744.7 612.3,2744.6 620.8,2744.6 629.2,2744.5 637.7,2744.5 646.1,2744.4 654.6,2744.4 663,2744.3 671.5,2744.2 679.9,2744.2 688.4,2744.1 696.8,2744 705.3,2743.9 713.7,2743.9 722.2,2743.8 730.6,2743.7 739.1,2743.6 747.5,2743.5 756,2743.4 764.4,2743.3 772.9,2743.2 781.3,2743.1 789.8,2743 798.2,2742.8 806.7,2742.7 815.1,2742.6 823.6,2742.4 832,2742.3 840.5,2742.2 848.9,2742 857.4,2741.9 865.8,2741.7 874.3,2741.5 882.7,2741.4 891.2,2741.2 899.6,2741 908.1,2740.5 916.5,2739.3 925,2737.6 933.4,2735.4 941.9,2732.8 950.3,2730 958.8,2726.9 967.2,2723.7 975.7,2720.5 984.1,2717.4 992.6,2714.4 1001,2711.7 1009.5,2709 1017.9,2706.2 1026.4,2703.5 1034.8,2700.7 1043.3,2698 1051.7,2695.4 1060.2,2693 1068.6,2690.7 1077.1,2688.5 1085.5,2686.2 1094,2683.9 1102.4,2681.4 1110.9,2678.7 1119.3,2675.7 1127.8,2672.4 1136.2,2668.8 1144.7,2664.9 1153.1,2660.7 1161.6,2656.2 1170,2651.3 1178.5,2646.1 1186.9,2640.5 1195.4,2634.5 1203.8,2627.6 1212.3,2619.5 1220.7,2610.4 1229.2,2600.8 1237.6,2591.1 1246.1,2580.8 1254.5,2569.9 1263,2558.3 1271.4,2546.2 1279.9,2533.1 1288.3,2519 1296.8,2504.3 1305.2,2489.5 1313.7,2474.9 1322.1,2460.3 1330.6,2445.1 1339,2428.5 1347.5,2409.6 1355.9,2389.1 1364.4,2368.5 1372.8,2347.9 1381.3,2326.6 1389.7,2303.8 1398.2,2279.5 1406.6,2254.3 1415.1,2227.6 1423.5,2202.2 1432,2179.6 1440.4,2157.7 1448.9,2134.4 1457.3,2110.2 1465.8,2086.6 1474.2,2063.2 1482.7,2041.1 1491.1,2024.5 1499.6,2011.2 1508,2001.5 1516.5,1995.7 1524.9,1991.2 1533.4,1988.3 1541.8,1986.8 1550.3,1985.6 1558.7,1985 1567.2,1987.3 1575.6,1993.9 1584.1,2002.5 1592.5,2015.9 1601,2033.4 1609.4,2056 1617.9,2083.5 1626.3,2120.2 1634.8,2146.8 1643.2,2165.8 1651.7,2183.7 1660.1,2202.1 1668.6,2219 1677,2233 1685.5,2241.8 1693.9,2247.3 1702.4,2252.9 1710.8,2261.8 1719.3,2277.3 1727.7,2368.8 1736.2,2546.4 1744.6,2677.7 1753.1,2737.5 1761.5,2777.6 1770,2816.4 1778.4,2857.9"/>
<polyline fill="none" stroke="none" marker-start="url(#mb220)" marker-mid="url(#mb220)" marker-end="url(#mb220)" points="451.8,2745 460.2,2745 468.7,2745 477.1,2745 485.6,2745 494,2745 502.5,2745 510.9,2745 519.4,2744.9 527.8,2744.9 536.3,2744.9 544.7,2744.9 553.2,2744.9 561.6,2744.9 570.1,2744.8 578.5,2744.8 587,2744.8 595.4,2744.7 603.9,2744.7 612.3,2744.7 620.8,2744.6 629.2,2744.6 637.7,2744.5 646.1,2744.5 654.6,2744.4 663,2744.4 671.5,2744.3 679.9,2744.3 688.4,2744.2 696.8,2744.2 705.3,2744.1 713.7,2744 722.2,2743.9 730.6,2743.9 739.1,2743.8 747.5,2743.7 756,2743.6 764.4,2743.5 772.9,2743.4 781.3,2743.3 789.8,2743.2 798.2,2743.1 806.7,2743 815.1,2742.9 823.6,2742.8 832,2742.6 840.5,2742.5 848.9,2742.4 857.4,2742.2 865.8,2742.1 874.3,2742 882.7,2741.8 891.2,2741.7 899.6,2741.5 908.1,2741 916.5,2740 925,2738.3 933.4,2736.2 941.9,2733.8 950.3,2731 958.8,2728 967.2,2724.9 975.7,2721.7 984.1,2718.6 992.6,2715.5 1001,2712.6 1009.5,2709.6 1017.9,2706.3 1026.4,2703 1034.8,2699.7 1043.3,2696.7 1051.7,2694.1 1060.2,2691.7 1068.6,2689.4 1077.1,2687.2 1085.5,2685 1094,2682.6 1102.4,2680.1 1110.9,2677.3 1119.3,2674.2 1127.8,2670.8 1136.2,2667 1144.7,2663 1153.1,2658.7 1161.6,2654 1170,2649 1178.5,2643.6 1186.9,2637.8 1195.4,2631.5 1203.8,2624 1212.3,2615.4 1220.7,2606 1229.2,2596.3 1237.6,2586.4 1246.1,2575.8 1254.5,2564.6 1263,2552.8 1271.4,2540.3 1279.9,2526.7 1288.3,2512.3 1296.8,2497.5 1305.2,2482.7 1313.7,2468.2 1322.1,2453.4 1330.6,2437.7 1339,2420.1 1347.5,2400.2 1355.9,2379.5 1364.4,2359 1372.8,2338.2 1381.3,2316.3 1389.7,2292.7 1398.2,2267.9 1406.6,2242 1415.1,2215.5 1423.5,2191.5 1432,2169.5 1440.4,2147.1 1448.9,2124.6 1457.3,2101 1465.8,2073 1474.2,2037.3 1482.7,2008.2 1491.1,1989.4 1499.6,1975.5 1508,1964.7 1516.5,1955.7 1524.9,1950 1533.4,1946.6 1541.8,1943.9 1550.3,1942.3 1558.7,1942.1 1567.2,1942.5 1575.6,1943.5 1584.1,1944.8 1592.5,1948.3 1601,1956.1 1609.4,1966.8 1617.9,1980.3 1626.3,2003.5 1634.8,2032.5 1643.2,2060.6 1651.7,2089.8 1660.1,2118.9 1668.6,2146.5 1677,2173.4 1685.5,2198.3 1693.9,2217.6 1702.4,2229.5 1710.8,2241.6 1719.3,2262.2 1727.7,2316.4 1736.2,2504 1744.6,2653.3 1753.1,2727 1761.5,2767.8 1770,2807.3 1778.4,2847.3"/>
<polyline fill="none" stroke="none" marker-start="url(#mb230)" marker-mid="url(#mb230)" marker-end="url(#mb230)" points="451.8,2745 460.2,2745 468.7,2745 477.1,2745 485.6,2745 494,2745 502.5,2745 510.9,2745 519.4,2745 527.8,2744.9 536.3,2744.9 544.7,2744.9 553.2,2744.9 561.6,2744.9 570.1,2744.9 578.5,2744.8 587,2744.8 595.4,2744.8 603.9,2744.7 612.3,2744.7 620.8,2744.7 629.2,2744.6 637.7,2744.6 646.1,2744.6 654.6,2744.5 663,2744.5 671.5,2744.4 679.9,2744.4 688.4,2744.3 696.8,2744.3 705.3,2744.2 713.7,2744.2 722.2,2744.1 730.6,2744 739.1,2744 747.5,2743.9 756,2743.8 764.4,2743.7 772.9,2743.6 781.3,2743.6 789.8,2743.5 798.2,2743.4 806.7,2743.3 815.1,2743.2 823.6,2743.1 832,2743 840.5,2742.9 848.9,2742.8 857.4,2742.6 865.8,2742.5 874.3,2742.4 882.7,2742.3 891.2,2742.1 899.6,2742 908.1,2741.6 916.5,2740.6 925,2739 933.4,2737.1 941.9,2734.7 950.3,2732.1 958.8,2729.3 967.2,2726.3 975.7,2723.3 984.1,2720.3 992.6,2717.4 1001,2714.7 1009.5,2711.8 1017.9,2708.7 1026.4,2705.5 1034.8,2702.4 1043.3,2699.3 1051.7,2696.4 1060.2,2693.9 1068.6,2691.5 1077.1,2689.2 1085.5,2687 1094,2684.8 1102.4,2682.4 1110.9,2679.8 1119.3,2677 1127.8,2673.8 1136.2,2670.4 1144.7,2666.6 1153.1,2662.5 1161.6,2658.2 1170,2653.4 1178.5,2648.4 1186.9,2642.9 1195.4,2637.1 1203.8,2630.7 1212.3,2623.1 1220.7,2614.3 1229.2,2604.9 1237.6,2595.3 1246.1,2585.2 1254.5,2574.6 1263,2563.3 1271.4,2551.4 1279.9,2538.8 1288.3,2525.1 1296.8,2510.6 1305.2,2495.8 1313.7,2481.1 1322.1,2466.6 1330.6,2451.7 1339,2435.8 1347.5,2417.9 1355.9,2397.9 1364.4,2377.2 1372.8,2356.7 1381.3,2335.8 1389.7,2313.7 1398.2,2289.9 1406.6,2265.1 1415.1,2239 1423.5,2212.6 1432,2189 1440.4,2167.1 1448.9,2144.6 1457.3,2122.4 1465.8,2098.5 1474.2,2068.5 1482.7,2029.5 1491.1,1996.3 1499.6,1972.8 1508,1953 1516.5,1935.6 1524.9,1923.4 1533.4,1914.4 1541.8,1909.5 1550.3,1906 1558.7,1904.1 1567.2,1904.8 1575.6,1907.6 1584.1,1911.6 1592.5,1915.9 1601,1921.7 1609.4,1930.5 1617.9,1947.1 1626.3,1990.7 1634.8,2033.7 1643.2,2071.9 1651.7,2099.8 1660.1,2124.5 1668.6,2149.7 1677,2174.2 1685.5,2197.8 1693.9,2219.1 1702.4,2232.8 1710.8,2248 1719.3,2276.3 1727.7,2415.5 1736.2,2586.4 1744.6,2697.2 1753.1,2747.1 1761.5,2787.1 1770,2825.5"/>
<polyline fill="none" stroke="none" marker-start="url(#mb240)" marker-mid="url(#mb240)" marker-end="url(#mb240)" points="451.8,2745 460.2,2745 468.7,2745 477.1,2744.9 485.6,2744.9 494,2744.9 502.5,2744.8 510.9,2744.7 519.4,2744.6 527.8,2744.6 536.3,2744.5 544.7,2744.4 553.2,2744.2 561.6,2744.1 570.1,2744 578.5,2743.9 587,2743.7 595.4,2743.5 603.9,2743.4 612.3,2743.2 620.8,2743 629.2,2742.8 637.7,2742.7 646.1,2742.4 654.6,2742.2 663,2742 671.5,2741.8 679.9,2741.6 688.4,2741.3 696.8,2741.1 705.3,2740.8 713.7,2740.5 722.2,2740 730.6,2739.5 739.1,2738.9 747.5,2738.3 756,2737.6 764.4,2736.8 772.9,2736 781.3,2735.1 789.8,2734.2 798.2,2733.2 806.7,2732.2 815.1,2731 823.6,2729.6 832,2728.2 840.5,2726.5 848.9,2724.8 857.4,2722.9 865.8,2721 874.3,2718.9 882.7,2716.7 891.2,2714.4 899.6,2712.1 908.1,2709.5 916.5,2706.6 925,2703.3 933.4,2699.9 941.9,2696.2 950.3,2692.5 958.8,2688.8 967.2,2685 975.7,2681.2 984.1,2677.3 992.6,2673.3 1001,2669.2 1009.5,2664.9 1017.9,2660.4 1026.4,2655.6 1034.8,2650.6 1043.3,2645.3 1051.7,2639.6 1060.2,2633.3 1068.6,2626.4 1077.1,2618.9 1085.5,2610.9 1094,2602.5 1102.4,2593.8 1110.9,2584.8 1119.3,2575.7 1127.8,2566.4 1136.2,2556.9 1144.7,2547 1153.1,2536.7 1161.6,2525.9 1170,2514.6 1178.5,2502.6 1186.9,2489.8 1195.4,2475 1203.8,2459.8 1212.3,2444.6 1220.7,2427.6 1229.2,2407.5 1237.6,2387.6 1246.1,2368 1254.5,2347.6 1263,2326.4 1271.4,2304.5 1279.9,2282 1288.3,2258.2 1296.8,2233.4 1305.2,2210.7 1313.7,2189.2 1322.1,2165.7 1330.6,2143.7 1339,2123.5 1347.5,2104.4 1355.9,2085.6 1364.4,2069 1372.8,2055.2 1381.3,2043 1389.7,2033.1 1398.2,2024.5 1406.6,2017.7 1415.1,2013.9 1423.5,2011.2 1432,2010.6 1440.4,2011.8 1448.9,2014.1 1457.3,2017 1465.8,2020.7 1474.2,2026.4 1482.7,2032.7 1491.1,2038.5 1499.6,2044.1 1508,2050.2 1516.5,2057.3 1524.9,2065.6 1533.4,2074.7 1541.8,2084.2 1550.3,2094 1558.7,2103.5 1567.2,2112.4 1575.6,2120.4 1584.1,2128.5 1592.5,2137.2 1601,2147.6 1609.4,2160.6 1617.9,2178.3 1626.3,2199.8 1634.8,2223.7 1643.2,2248.6 1651.7,2273.1 1660.1,2295.9 1668.6,2317.6 1677,2340.6 1685.5,2367.8 1693.9,2403.7 1702.4,2444.8 1710.8,2496.5 1719.3,2562.2 1727.7,2630.2 1736.2,2695.2 1744.6,2757.2 1753.1,2804.9 1761.5,2838.4"/>
<polyline fill="none" stroke="none" marker-start="url(#mb280)" marker-mid="url(#mb280)" marker-end="url(#mb280)" points="451.8,2745 460.2,2745 468.7,2745 477.1,2745 485.6,2745 494,2745 502.5,2745 510.9,2745 519.4,2744.9 527.8,2744.9 536.3,2744.9 544.7,2744.9 553.2,2744.9 561.6,2744.8 570.1,2744.8 578.5,2744.8 587,2744.7 595.4,2744.7 603.9,2744.7 612.3,2744.6 620.8,2744.6 629.2,2744.5 637.7,2744.5 646.1,2744.4 654.6,2744.4 663,2744.3 671.5,2744.3 679.9,2744.2 688.4,2744.1 696.8,2744.1 705.3,2744 713.7,2743.9 722.2,2743.8 730.6,2743.7 739.1,2743.6 747.5,2743.5 756,2743.4 764.4,2743.3 772.9,2743.2 781.3,2743.1 789.8,2743 798.2,2742.9 806.7,2742.8 815.1,2742.7 823.6,2742.5 832,2742.4 840.5,2742.2 848.9,2742.1 857.4,2742 865.8,2741.8 874.3,2741.6 882.7,2741.5 891.2,2741.3 899.6,2741.1 908.1,2741 916.5,2740.8 925,2740.6 933.4,2740.4 941.9,2740.2 950.3,2740 958.8,2739.3 967.2,2737.9 975.7,2735.9 984.1,2733.3 992.6,2730.4 1001,2727.1 1009.5,2723.8 1017.9,2720.3 1026.4,2717 1034.8,2713.8 1043.3,2711 1051.7,2708.5 1060.2,2706.4 1068.6,2704.4 1077.1,2702.4 1085.5,2700.6 1094,2698.7 1102.4,2696.7 1110.9,2694.7 1119.3,2692.5 1127.8,2690.1 1136.2,2687.7 1144.7,2685.1 1153.1,2682.4 1161.6,2679.6 1170,2676.7 1178.5,2673.6 1186.9,2670.3 1195.4,2666.8 1203.8,2663.2 1212.3,2659.2 1220.7,2655 1229.2,2650.4 1237.6,2645.6 1246.1,2640.5 1254.5,2635.1 1263,2629.3 1271.4,2623.3 1279.9,2616.8 1288.3,2609.5 1296.8,2601.4 1305.2,2592.5 1313.7,2583 1322.1,2572.2 1330.6,2560.3 1339,2547.6 1347.5,2534.7 1355.9,2521.5 1364.4,2507.7 1372.8,2494.1 1381.3,2482 1389.7,2471.7 1398.2,2461.4 1406.6,2449.3 1415.1,2433.2 1423.5,2406.6 1432,2375.3 1440.4,2346.8 1448.9,2318.3 1457.3,2291.2 1465.8,2265.9 1474.2,2239.8 1482.7,2209.5 1491.1,2177.8 1499.6,2151.8 1508,2129.6 1516.5,2108.2 1524.9,2085.7 1533.4,2063 1541.8,2039.8 1550.3,2015.8 1558.7,1991.3 1567.2,1967.2 1575.6,1943.9 1584.1,1920.9 1592.5,1897.8 1601,1873.5 1609.4,1857.5 1617.9,1847.5 1626.3,1849.8 1634.8,1858.7 1643.2,1869 1651.7,1881.4 1660.1,1897.2 1668.6,1917.9 1677,1948.7 1685.5,1983.6 1693.9,2019.2 1702.4,2051.2 1710.8,2081.5 1719.3,2124.9 1727.7,2213.1 1736.2,2360.6 1744.6,2488.5 1753.1,2613.2 1761.5,2696.9 1770,2743 1778.4,2781.5 1786.9,2819.7"/>
<polyline fill="none" stroke="none" marker-start="url(#mb300)" marker-mid="url(#mb300)" marker-end="url(#mb300)" points="451.8,2745 460.2,2745 468.7,2745 477.1,2744.9 485.6,2744.9 494,2744.9 502.5,2744.8 510.9,2744.7 519.4,2744.7 527.8,2744.6 536.3,2744.5 544.7,2744.4 553.2,2744.3 561.6,2744.1 570.1,2744 578.5,2743.9 587,2743.7 595.4,2743.5 603.9,2743.4 612.3,2743.2 620.8,2743 629.2,2742.8 637.7,2742.6 646.1,2742.4 654.6,2742.2 663,2741.9 671.5,2741.7 679.9,2741.4 688.4,2741.2 696.8,2740.9 705.3,2740.6 713.7,2740.3 722.2,2740.1 730.6,2739.8 739.1,2739.4 747.5,2739.1 756,2738.8 764.4,2738.5 772.9,2738.1 781.3,2737.8 789.8,2737.4 798.2,2737 806.7,2736.7 815.1,2736.3 823.6,2735.9 832,2735.5 840.5,2735.1 848.9,2734.7 857.4,2734.2 865.8,2733.8 874.3,2733.4 882.7,2732.9 891.2,2732.5 899.6,2732 908.1,2731.6 916.5,2731.1 925,2730.6 933.4,2730.1 941.9,2729.6 950.3,2729.1 958.8,2728.6 967.2,2728.1 975.7,2727.6 984.1,2727 992.6,2726.5 1001,2725.9 1009.5,2725.2 1017.9,2724.2 1026.4,2723 1034.8,2721.8 1043.3,2720.5 1051.7,2719.3 1060.2,2718.1 1068.6,2716.9 1077.1,2715.7 1085.5,2714.5 1094,2713.2 1102.4,2711.9 1110.9,2710.5 1119.3,2709 1127.8,2707.4 1136.2,2705.7 1144.7,2703.9 1153.1,2702 1161.6,2699.9 1170,2697.7 1178.5,2695.4 1186.9,2693 1195.4,2690.4 1203.8,2687.6 1212.3,2684.5 1220.7,2681.2 1229.2,2677.5 1237.6,2673.7 1246.1,2669.6 1254.5,2665.4 1263,2661.1 1271.4,2656.6 1279.9,2652.1 1288.3,2647.3 1296.8,2642.2 1305.2,2636.7 1313.7,2630.9 1322.1,2624.7 1330.6,2618.1 1339,2611 1347.5,2603.3 1355.9,2595.1 1364.4,2586.1 1372.8,2576.2 1381.3,2565.5 1389.7,2554 1398.2,2541.7 1406.6,2527.5 1415.1,2511.9 1423.5,2495.7 1432,2479.6 1440.4,2464.5 1448.9,2450 1457.3,2433.2 1465.8,2414.8 1474.2,2395.8 1482.7,2376.3 1491.1,2356.5 1499.6,2335.8 1508,2315.7 1516.5,2292.8 1524.9,2265.7 1533.4,2243.8 1541.8,2222.1 1550.3,2199.9 1558.7,2176.3 1567.2,2154.4 1575.6,2135.5 1584.1,2115.7 1592.5,2098.5 1601,2066.9 1609.4,2042.8 1617.9,2031.2 1626.3,2027.9 1634.8,2027.7 1643.2,2029.5 1651.7,2034.6 1660.1,2042.1 1668.6,2052.6 1677,2068.3 1685.5,2090.9 1693.9,2122.1 1702.4,2152.7 1710.8,2184.8 1719.3,2250.1 1727.7,2304.5 1736.2,2464 1744.6,2677.5 1753.1,2736.3 1761.5,2776.3 1770,2809.6 1778.4,2846.2"/>
<polyline fill="none" stroke="none" marker-start="url(#mb340)" marker-mid="url(#mb340)" marker-end="url(#mb340)" points="451.8,2745 460.2,2745 468.7,2745 477.1,2745 485.6,2745 494,2745 502.5,2745 510.9,2744.9 519.4,2744.9 527.8,2744.9 536.3,2744.9 544.7,2744.9 553.2,2744.8 561.6,2744.8 570.1,2744.8 578.5,2744.7 587,2744.7 595.4,2744.7 603.9,2744.6 612.3,2744.6 620.8,2744.5 629.2,2744.5 637.7,2744.4 646.1,2744.4 654.6,2744.3 663,2744.2 671.5,2744.2 679.9,2744.1 688.4,2744 696.8,2743.9 705.3,2743.9 713.7,2743.8 722.2,2743.7 730.6,2743.6 739.1,2743.5 747.5,2743.4 756,2743.3 764.4,2743.2 772.9,2743 781.3,2742.9 789.8,2742.8 798.2,2742.7 806.7,2742.5 815.1,2742.4 823.6,2742.2 832,2742.1 840.5,2741.9 848.9,2741.8 857.4,2741.6 865.8,2741.4 874.3,2741.3 882.7,2741.1 891.2,2740.9 899.6,2740.7 908.1,2740.5 916.5,2740.3 925,2740.1 933.4,2739.9 941.9,2739.7 950.3,2739.4 958.8,2739.2 967.2,2739 975.7,2738.7 984.1,2738.5 992.6,2738.2 1001,2738 1009.5,2737.2 1017.9,2735.8 1026.4,2734 1034.8,2732.1 1043.3,2730.2 1051.7,2728.7 1060.2,2727.4 1068.6,2726.2 1077.1,2725 1085.5,2723.8 1094,2722.7 1102.4,2721.5 1110.9,2720.2 1119.3,2718.9 1127.8,2717.5 1136.2,2716 1144.7,2714.6 1153.1,2713 1161.6,2711.4 1170,2709.7 1178.5,2708 1186.9,2706.1 1195.4,2704.1 1203.8,2701.9 1212.3,2699.6 1220.7,2697.1 1229.2,2694.4 1237.6,2691.5 1246.1,2688.5 1254.5,2685.3 1263,2681.9 1271.4,2678.3 1279.9,2674.6 1288.3,2670.4 1296.8,2666 1305.2,2661.2 1313.7,2656.2 1322.1,2650.9 1330.6,2645.5 1339,2639.9 1347.5,2634.2 1355.9,2628.4 1364.4,2622.2 1372.8,2615.6 1381.3,2608.7 1389.7,2601.4 1398.2,2593.5 1406.6,2585.1 1415.1,2576.4 1423.5,2567.5 1432,2558.5 1440.4,2549.3 1448.9,2539.4 1457.3,2528.6 1465.8,2517.1 1474.2,2505.1 1482.7,2492.4 1491.1,2479.3 1499.6,2465.7 1508,2451.6 1516.5,2437 1524.9,2421.7 1533.4,2405.7 1541.8,2388.8 1550.3,2371 1558.7,2351.5 1567.2,2330.1 1575.6,2307.7 1584.1,2284.3 1592.5,2259.8 1601,2237.2 1609.4,2216.2 1617.9,2200.1 1626.3,2187.3 1634.8,2178.2 1643.2,2171.6 1651.7,2166.1 1660.1,2163.2 1668.6,2163.6 1677,2166.3 1685.5,2170.5 1693.9,2177.7 1702.4,2192.1 1710.8,2217.2 1719.3,2254.8 1727.7,2288.2 1736.2,2464.4 1744.6,2625.2 1753.1,2714.9 1761.5,2758.3 1770,2798.3 1778.4,2837.2"/>
<polyline fill="none" stroke="none" marker-start="url(#mb380)" marker-mid="url(#mb380)" marker-end="url(#mb380)" points="451.8,2745 460.2,2745 468.7,2745 477.1,2745 485.6,2745 494,2745 502.5,2745 510.9,2745 519.4,2745 527.8,2745 536.3,2745 544.7,2744.9 553.2,2744.9 561.6,2744.9 570.1,2744.9 578.5,2744.9 587,2744.9 595.4,2744.9 603.9,2744.8 612.3,2744.8 620.8,2744.8 629.2,2744.8 637.7,2744.8 646.1,2744.7 654.6,2744.7 663,2744.7 671.5,2744.6 679.9,2744.6 688.4,2744.6 696.8,2744.6 705.3,2744.5 713.7,2744.5 722.2,2744.4 730.6,2744.4 739.1,2744.4 747.5,2744.3 756,2744.3 764.4,2744.2 772.9,2744.2 781.3,2744.1 789.8,2744.1 798.2,2744 806.7,2743.9 815.1,2743.9 823.6,2743.8 832,2743.8 840.5,2743.7 848.9,2743.6 857.4,2743.6 865.8,2743.5 874.3,2743.4 882.7,2743.3 891.2,2743.2 899.6,2743.2 908.1,2743.1 916.5,2743 925,2742.9 933.4,2742.8 941.9,2742.7 950.3,2742.6 958.8,2742.5 967.2,2742.4 975.7,2742.3 984.1,2742.2 992.6,2742.1 1001,2742 1009.5,2741.7 1017.9,2741.1 1026.4,2740.4 1034.8,2739.5 1043.3,2738.7 1051.7,2737.8 1060.2,2737 1068.6,2736.1 1077.1,2735.1 1085.5,2734.1 1094,2733 1102.4,2731.9 1110.9,2730.8 1119.3,2729.7 1127.8,2728.6 1136.2,2727.5 1144.7,2726.4 1153.1,2725.3 1161.6,2724.2 1170,2723 1178.5,2721.7 1186.9,2720.4 1195.4,2718.8 1203.8,2717.1 1212.3,2715.2 1220.7,2713 1229.2,2710.6 1237.6,2708 1246.1,2705.2 1254.5,2702.3 1263,2699.3 1271.4,2696.2 1279.9,2692.9 1288.3,2689.5 1296.8,2685.9 1305.2,2682 1313.7,2677.9 1322.1,2673.6 1330.6,2669.1 1339,2664.2 1347.5,2659.1 1355.9,2653.5 1364.4,2647 1372.8,2640 1381.3,2632.7 1389.7,2625.5 1398.2,2618.2 1406.6,2610.6 1415.1,2602.9 1423.5,2594.9 1432,2586.8 1440.4,2578.3 1448.9,2569.2 1457.3,2559.4 1465.8,2549 1474.2,2537.9 1482.7,2526 1491.1,2513.2 1499.6,2498.5 1508,2482.3 1516.5,2465.3 1524.9,2448.4 1533.4,2432.4 1541.8,2417.3 1550.3,2402.5 1558.7,2387.5 1567.2,2371.8 1575.6,2354.9 1584.1,2336.9 1592.5,2318.6 1601,2300.7 1609.4,2282.5 1617.9,2266.5 1626.3,2253.3 1634.8,2242.1 1643.2,2234.3 1651.7,2227.4 1660.1,2222 1668.6,2219.6 1677,2222.1 1685.5,2229.3 1693.9,2244 1702.4,2270.4 1710.8,2306.8 1719.3,2360 1727.7,2424.3 1736.2,2520.3 1744.6,2666.1 1753.1,2732.4 1761.5,2772.7 1770,2811.8 1778.4,2852.6"/>
<polyline fill="none" stroke="none" marker-start="url(#mb400)" marker-mid="url(#mb400)" marker-end="url(#mb400)" points="451.8,2745 460.2,2745.2 468.7,2745.3 477.1,2745.4 485.6,2745.6 494,2745.7 502.5,2745.8 510.9,2745.9 519.4,2746 527.8,2746.1 536.3,2746.2 544.7,2746.3 553.2,2746.4 561.6,2746.5 570.1,2746.6 578.5,2746.7 587,2746.7 595.4,2746.8 603.9,2746.9 612.3,2747 620.8,2747 629.2,2747.1 637.7,2747.1 646.1,2747.2 654.6,2747.3 663,2747.3 671.5,2747.4 679.9,2747.4 688.4,2747.5 696.8,2747.5 705.3,2747.5 713.7,2747.6 722.2,2747.6 730.6,2747.6 739.1,2747.7 747.5,2747.7 756,2747.7 764.4,2747.8 772.9,2747.8 781.3,2747.8 789.8,2747.8 798.2,2747.9 806.7,2747.9 815.1,2747.9 823.6,2747.9 832,2747.9 840.5,2747.9 848.9,2747.9 857.4,2747.9 865.8,2748 874.3,2748 882.7,2748 891.2,2748 899.6,2748 908.1,2748 916.5,2748 925,2748 933.4,2748 941.9,2748 950.3,2748 958.8,2748 967.2,2748 975.7,2748 984.1,2748 992.6,2748 1001,2748 1009.5,2748 1017.9,2747.8 1026.4,2747.7 1034.8,2747.5 1043.3,2747.2 1051.7,2746.9 1060.2,2746.5 1068.6,2745.8 1077.1,2744.9 1085.5,2743.9 1094,2742.9 1102.4,2741.7 1110.9,2740.6 1119.3,2739.6 1127.8,2738.7 1136.2,2737.8 1144.7,2737 1153.1,2736.2 1161.6,2735.4 1170,2734.5 1178.5,2733.6 1186.9,2732.6 1195.4,2731.6 1203.8,2730.4 1212.3,2729.1 1220.7,2727.7 1229.2,2726.2 1237.6,2724.6 1246.1,2722.8 1254.5,2721 1263,2718.9 1271.4,2716.8 1279.9,2714.5 1288.3,2711.9 1296.8,2708.9 1305.2,2705.7 1313.7,2702.3 1322.1,2698.7 1330.6,2694.9 1339,2690.9 1347.5,2686.9 1355.9,2682.6 1364.4,2677.9 1372.8,2672.8 1381.3,2667.5 1389.7,2662.1 1398.2,2656.4 1406.6,2650.5 1415.1,2644.4 1423.5,2638.3 1432,2632.3 1440.4,2626.2 1448.9,2619.9 1457.3,2613.2 1465.8,2606.5 1474.2,2599.6 1482.7,2592.2 1491.1,2584.2 1499.6,2575.4 1508,2565.4 1516.5,2554 1524.9,2541.5 1533.4,2528.4 1541.8,2515 1550.3,2501.6 1558.7,2487.7 1567.2,2473.4 1575.6,2458.3 1584.1,2442.5 1592.5,2424.7 1601,2403.6 1609.4,2383.4 1617.9,2368.2 1626.3,2357.1 1634.8,2347.9 1643.2,2341.1 1651.7,2336.2 1660.1,2331.9 1668.6,2329 1677,2328 1685.5,2330.1 1693.9,2335 1702.4,2343.8 1710.8,2366.3 1719.3,2413.8 1727.7,2466.4 1736.2,2581.9 1744.6,2695.9 1753.1,2728.2 1761.5,2758.4 1770,2800 1778.4,2842"/>
<polyline fill="none" stroke="none" marker-start="url(#mb440)" marker-mid="url(#mb440)" marker-end="url(#mb440)" points="451.8,2745 460.2,2745.1 468.7,2745.2 477.1,2745.3 485.6,2745.4 494,2745.5 502.5,2745.5 510.9,2745.6 519.4,2745.7 527.8,2745.7 536.3,2745.8 544.7,2745.9 553.2,2745.9 561.6,2746 570.1,2746.1 578.5,2746.1 587,2746.2 595.4,2746.2 603.9,2746.3 612.3,2746.3 620.8,2746.3 629.2,2746.4 637.7,2746.4 646.1,2746.5 654.6,2746.5 663,2746.5 671.5,2746.6 679.9,2746.6 688.4,2746.6 696.8,2746.7 705.3,2746.7 713.7,2746.7 722.2,2746.7 730.6,2746.8 739.1,2746.8 747.5,2746.8 756,2746.8 764.4,2746.8 772.9,2746.9 781.3,2746.9 789.8,2746.9 798.2,2746.9 806.7,2746.9 815.1,2746.9 823.6,2746.9 832,2746.9 840.5,2747 848.9,2747 857.4,2747 865.8,2747 874.3,2747 882.7,2747 891.2,2747 899.6,2747 908.1,2747 916.5,2747 925,2747 933.4,2747 941.9,2747 950.3,2747 958.8,2747 967.2,2747 975.7,2747 984.1,2747 992.6,2747 1001,2747 1009.5,2747 1017.9,2746.9 1026.4,2746.8 1034.8,2746.7 1043.3,2746.5 1051.7,2746.3 1060.2,2746.1 1068.6,2745.9 1077.1,2745.7 1085.5,2745.4 1094,2745.2 1102.4,2744.9 1110.9,2744.7 1119.3,2744.4 1127.8,2744 1136.2,2743.7 1144.7,2743.3 1153.1,2742.9 1161.6,2742.4 1170,2741.9 1178.5,2741.4 1186.9,2740.9 1195.4,2740.3 1203.8,2739.7 1212.3,2739.1 1220.7,2738.3 1229.2,2737.5 1237.6,2736.6 1246.1,2735.6 1254.5,2734.6 1263,2733.5 1271.4,2732.4 1279.9,2731.2 1288.3,2730 1296.8,2728.6 1305.2,2727.1 1313.7,2725.6 1322.1,2723.9 1330.6,2722.2 1339,2720.3 1347.5,2718.4 1355.9,2716.3 1364.4,2714 1372.8,2711.4 1381.3,2708.8 1389.7,2706 1398.2,2703.2 1406.6,2700.2 1415.1,2697.2 1423.5,2694.2 1432,2691.3 1440.4,2688.5 1448.9,2685.4 1457.3,2681.8 1465.8,2677.6 1474.2,2673.1 1482.7,2668.6 1491.1,2664.1 1499.6,2659.6 1508,2655 1516.5,2650.2 1524.9,2645.2 1533.4,2639.7 1541.8,2633.9 1550.3,2627.3 1558.7,2619.4 1567.2,2610.6 1575.6,2601.5 1584.1,2592.9 1592.5,2584.1 1601,2575.3 1609.4,2566.9 1617.9,2559.2 1626.3,2551.8 1634.8,2544.8 1643.2,2538.5 1651.7,2532.9 1660.1,2527.7 1668.6,2524 1677,2521.7 1685.5,2520.2 1693.9,2520.5 1702.4,2522.8 1710.8,2526.4 1719.3,2531.7 1727.7,2563.4 1736.2,2657.1 1744.6,2711.3 1753.1,2732.2 1761.5,2766.9 1770,2814.9 1778.4,2858.3"/>
<polyline fill="none" stroke="none" marker-start="url(#mb500)" marker-mid="url(#mb500)" marker-end="url(#mb500)" points="451.8,2745 460.2,2745 468.7,2745 477.1,2745 485.6,2745 494,2745 502.5,2745 510.9,2745 519.4,2745 527.8,2745 536.3,2745 544.7,2745 553.2,2745 561.6,2745 570.1,2745 578.5,2745.1 587,2745.1 595.4,2745.1 603.9,2745.1 612.3,2745.1 620.8,2745.1 629.2,2745.1 637.7,2745.1 646.1,2745.1 654.6,2745.1 663,2745.2 671.5,2745.2 679.9,2745.2 688.4,2745.2 696.8,2745.2 705.3,2745.2 713.7,2745.3 722.2,2745.3 730.6,2745.3 739.1,2745.3 747.5,2745.3 756,2745.4 764.4,2745.4 772.9,2745.4 781.3,2745.4 789.8,2745.5 798.2,2745.5 806.7,2745.5 815.1,2745.6 823.6,2745.6 832,2745.6 840.5,2745.7 848.9,2745.7 857.4,2745.7 865.8,2745.8 874.3,2745.8 882.7,2745.8 891.2,2745.9 899.6,2745.9 908.1,2746 916.5,2746 925,2746 933.4,2746.1 941.9,2746.1 950.3,2746.2 958.8,2746.2 967.2,2746.3 975.7,2746.3 984.1,2746.4 992.6,2746.5 1001,2746.5 1009.5,2746.7 1017.9,2747.1 1026.4,2747.6 1034.8,2748.1 1043.3,2748.4 1051.7,2748.5 1060.2,2748.3 1068.6,2747.7 1077.1,2747.1 1085.5,2746.3 1094,2745.5 1102.4,2744.8 1110.9,2744.1 1119.3,2743.3 1127.8,2742.4 1136.2,2741.5 1144.7,2740.6 1153.1,2739.7 1161.6,2738.9 1170,2738 1178.5,2737.2 1186.9,2736.5 1195.4,2735.8 1203.8,2735.2 1212.3,2734.7 1220.7,2734.2 1229.2,2733.8 1237.6,2733.4 1246.1,2733 1254.5,2732.6 1263,2732.2 1271.4,2731.9 1279.9,2731.5 1288.3,2731.2 1296.8,2730.8 1305.2,2730.4 1313.7,2730 1322.1,2729.6 1330.6,2729.1 1339,2728.6 1347.5,2728.1 1355.9,2727.5 1364.4,2726.9 1372.8,2726.2 1381.3,2725.5 1389.7,2724.8 1398.2,2724 1406.6,2723.2 1415.1,2722.3 1423.5,2721.5 1432,2720.6 1440.4,2719.7 1448.9,2718.7 1457.3,2717.7 1465.8,2716.6 1474.2,2715.3 1482.7,2714.1 1491.1,2713 1499.6,2712 1508,2711.2 1516.5,2710.3 1524.9,2709.3 1533.4,2708.4 1541.8,2707.6 1550.3,2706.7 1558.7,2705.9 1567.2,2705.2 1575.6,2704.5 1584.1,2704 1592.5,2703.5 1601,2703.2 1609.4,2703 1617.9,2703 1626.3,2703 1634.8,2703 1643.2,2703 1651.7,2703.1 1660.1,2704.6 1668.6,2707.2 1677,2711.4 1685.5,2717.2 1693.9,2725.7 1702.4,2734.4 1710.8,2743 1719.3,2751.2 1727.7,2758.5 1736.2,2774.6 1744.6,2811.6 1753.1,2861.5"/>
</g>
<g clip-path="url(#clip-c)">
<polyline fill="none" stroke="none" marker-start="url(#mc170)" marker-mid="url(#mc170)" marker-end="url(#mc170)" points="468.8,4412.6 479.3,4408.8 489.7,4404.8 500.2,4400.6 510.7,4396.2 521.2,4391.7 531.6,4387 542.1,4382.1 552.6,4377.1 563,4371.8 573.5,4366.4 584,4360.7 594.4,4354.8 604.9,4348.7 615.4,4342.5 625.9,4336.1 636.3,4329.6 646.8,4322.9 657.3,4315.8 667.7,4308.1 678.2,4300.4 688.7,4293.2 699.1,4287 709.6,4281.1 720.1,4275.7 730.6,4270.7 741,4266.4 751.5,4262.6 762,4259 772.4,4255.9 782.9,4253.2 793.4,4251 803.8,4249.3 814.3,4247.8 824.8,4246.5 835.3,4245.1 845.7,4243.8 856.2,4242.6 866.7,4241.4 877.1,4240.1 887.6,4238.5 898.1,4236.5 908.5,4234.1 919,4231.3 929.5,4228 940,4224.4 950.4,4220.2 960.9,4215.6 971.4,4209.8 981.8,4202.1 992.3,4192.8 1002.8,4182.3 1013.2,4170.9 1023.7,4158.6 1034.2,4144.6 1044.7,4128.6 1055.1,4110.4 1065.6,4089.8 1076.1,4064.2 1086.5,4030.9 1097,3994.3 1107.5,3959 1117.9,3925.5 1128.4,3891.9 1138.9,3858.5 1149.4,3825.6 1159.8,3793.4 1170.3,3761.1 1180.8,3729.5 1191.2,3699.1 1201.7,3670.4 1212.2,3641.4 1222.6,3614 1233.1,3592.8 1243.6,3578.1 1254.1,3567.1 1264.5,3565.3 1275,3567.8 1285.5,3572.2 1295.9,3584.5 1306.4,3603.5 1316.9,3621.5 1327.3,3639.3 1337.8,3661 1348.3,3692 1358.8,3742.4 1369.2,3789.8 1379.7,3837.3 1390.2,3884.7 1400.6,3932.1 1411.1,3979.6 1421.6,4027 1432,4074.4 1442.5,4121.8 1453,4169.3 1463.5,4216.7 1473.9,4264.1 1484.4,4311.6 1494.9,4360 1505.3,4404.7 1515.8,4431.3 1526.3,4444 1536.7,4450.8 1547.2,4455.7 1557.7,4457 1568.2,4457 1578.6,4457 1589.1,4457 1599.6,4457 1610,4457 1620.5,4457 1631,4457 1641.4,4457 1651.9,4457 1662.4,4457 1672.9,4457 1683.3,4457 1693.8,4457 1704.3,4457 1714.7,4457 1725.2,4457 1735.7,4457 1746.1,4457 1756.6,4457 1767.1,4457 1777.6,4457 1788,4457 1798.5,4457 1809,4457 1819.4,4457 1829.9,4457 1840.4,4457 1850.8,4457 1861.3,4457 1871.8,4457"/>
<polyline fill="none" stroke="none" marker-start="url(#mc180)" marker-mid="url(#mc180)" marker-end="url(#mc180)" points="468.8,4413.6 479.3,4409.8 489.7,4405.8 500.2,4401.6 510.7,4397.2 521.2,4392.7 531.6,4388 542.1,4383.1 552.6,4378.1 563,4372.8 573.5,4367.4 584,4361.7 594.4,4355.8 604.9,4349.7 615.4,4343.5 625.9,4337.1 636.3,4330.6 646.8,4323.9 657.3,4316.8 667.7,4309.1 678.2,4301.4 688.7,4294.2 699.1,4288 709.6,4282.2 720.1,4276.7 730.6,4271.8 741,4267.4 751.5,4263.5 762,4259.9 772.4,4256.6 782.9,4253.7 793.4,4251.2 803.8,4249.1 814.3,4247.3 824.8,4245.6 835.3,4243.7 845.7,4241.7 856.2,4239.5 866.7,4237.3 877.1,4235 887.6,4232.3 898.1,4229.5 908.5,4226.5 919,4223.3 929.5,4219.8 940,4215.8 950.4,4211.2 960.9,4205.9 971.4,4199.1 981.8,4190 992.3,4178.9 1002.8,4166.2 1013.2,4152.4 1023.7,4136.9 1034.2,4118.7 1044.7,4097.8 1055.1,4074.4 1065.6,4048.9 1076.1,4018 1086.5,3981.5 1097,3943.5 1107.5,3907.6 1117.9,3873.1 1128.4,3838.9 1138.9,3805.1 1149.4,3772 1159.8,3739.2 1170.3,3706.2 1180.8,3674 1191.2,3643.5 1201.7,3615.6 1212.2,3588.1 1222.6,3561.9 1233.1,3540.2 1243.6,3525.7 1254.1,3513.9 1264.5,3507.3 1275,3508.2 1285.5,3512.5 1295.9,3520.9 1306.4,3540.3 1316.9,3564.5 1327.3,3594.5 1337.8,3631.2 1348.3,3676 1358.8,3724.3 1369.2,3771.7 1379.7,3819.1 1390.2,3866.6 1400.6,3914 1411.1,3961.4 1421.6,4008.9 1432,4056.3 1442.5,4103.7 1453,4151.2 1463.5,4198.6 1473.9,4246 1484.4,4293.4 1494.9,4340.9 1505.3,4390.2 1515.8,4423.8 1526.3,4440 1536.7,4448.4 1547.2,4454.1 1557.7,4457 1568.2,4457 1578.6,4457 1589.1,4457 1599.6,4457 1610,4457 1620.5,4457 1631,4457 1641.4,4457 1651.9,4457 1662.4,4457 1672.9,4457 1683.3,4457 1693.8,4457 1704.3,4457 1714.7,4457 1725.2,4457 1735.7,4457 1746.1,4457 1756.6,4457 1767.1,4457 1777.6,4457 1788,4457 1798.5,4457 1809,4457 1819.4,4457 1829.9,4457 1840.4,4457 1850.8,4457 1861.3,4457 1871.8,4457"/>
<polyline fill="none" stroke="none" marker-start="url(#mc200)" marker-mid="url(#mc200)" marker-end="url(#mc200)" points="468.8,4418.5 479.3,4415.6 489.7,4412.5 500.2,4409.3 510.7,4405.8 521.2,4402.2 531.6,4398.5 542.1,4394.6 552.6,4390.6 563,4386.5 573.5,4382.3 584,4377.9 594.4,4373.5 604.9,4369 615.4,4364.2 625.9,4359 636.3,4353.5 646.8,4347.8 657.3,4342.1 667.7,4336.2 678.2,4330.5 688.7,4324.8 699.1,4319.4 709.6,4314 720.1,4308.6 730.6,4303.1 741,4297.7 751.5,4292.3 762,4287.1 772.4,4282.1 782.9,4277.3 793.4,4272.9 803.8,4268.9 814.3,4265.3 824.8,4262.2 835.3,4259.2 845.7,4256 856.2,4252.4 866.7,4248.7 877.1,4244.8 887.6,4240.8 898.1,4236.6 908.5,4232.1 919,4227.2 929.5,4221.8 940,4215.9 950.4,4209.5 960.9,4202.3 971.4,4194.5 981.8,4185.9 992.3,4176.2 1002.8,4165.4 1013.2,4153.4 1023.7,4140.4 1034.2,4126.2 1044.7,4110 1055.1,4091.9 1065.6,4072 1076.1,4050.5 1086.5,4027.4 1097,4001.4 1107.5,3972.9 1117.9,3942.6 1128.4,3909.5 1138.9,3873.3 1149.4,3839.8 1159.8,3808.6 1170.3,3778.5 1180.8,3749.6 1191.2,3722 1201.7,3695.8 1212.2,3669.6 1222.6,3643.8 1233.1,3620 1243.6,3599.9 1254.1,3584.3 1264.5,3570.2 1275,3562.6 1285.5,3564.3 1295.9,3569.5 1306.4,3578.3 1316.9,3595.1 1327.3,3614.2 1337.8,3633.4 1348.3,3656.1 1358.8,3686.1 1369.2,3735.4 1379.7,3782.9 1390.2,3830.3 1400.6,3877.8 1411.1,3925.2 1421.6,3972.6 1432,4020.1 1442.5,4067.5 1453,4114.9 1463.5,4162.3 1473.9,4209.8 1484.4,4257.2 1494.9,4304.6 1505.3,4352.6 1515.8,4399.6 1526.3,4428.7 1536.7,4442.6 1547.2,4449.9 1557.7,4455.2 1568.2,4457 1578.6,4457 1589.1,4457 1599.6,4457 1610,4457 1620.5,4457 1631,4457 1641.4,4457 1651.9,4457 1662.4,4457 1672.9,4457 1683.3,4457 1693.8,4457 1704.3,4457 1714.7,4457 1725.2,4457 1735.7,4457 1746.1,4457 1756.6,4457 1767.1,4457 1777.6,4457 1788,4457 1798.5,4457 1809,4457 1819.4,4457 1829.9,4457 1840.4,4457 1850.8,4457 1861.3,4457 1871.8,4457"/>
<polyline fill="none" stroke="none" marker-start="url(#mc210)" marker-mid="url(#mc210)" marker-end="url(#mc210)" points="468.8,4418.6 479.3,4416.4 489.7,4413.9 500.2,4411.3 510.7,4408.5 521.2,4405.5 531.6,4402.4 542.1,4399.1 552.6,4395.7 563,4392.1 573.5,4388.4 584,4384.6 594.4,4380.8 604.9,4376.8 615.4,4372.4 625.9,4367.7 636.3,4362.7 646.8,4357.4 657.3,4352 667.7,4346.5 678.2,4341.1 688.7,4335.8 699.1,4330.7 709.6,4325.7 720.1,4320.8 730.6,4315.9 741,4311.1 751.5,4306.2 762,4301.3 772.4,4296.4 782.9,4291.4 793.4,4286.2 803.8,4281 814.3,4275.9 824.8,4270.8 835.3,4265.7 845.7,4260.5 856.2,4255 866.7,4249.3 877.1,4243.3 887.6,4236.8 898.1,4229.9 908.5,4222.5 919,4214.7 929.5,4206.2 940,4196.9 950.4,4186.8 960.9,4175.5 971.4,4162.8 981.8,4147.2 992.3,4129.1 1002.8,4109.6 1013.2,4089.2 1023.7,4066.8 1034.2,4042.4 1044.7,4017.1 1055.1,3991.5 1065.6,3965.9 1076.1,3938.9 1086.5,3909.6 1097,3875.6 1107.5,3836.1 1117.9,3797.1 1128.4,3762.5 1138.9,3730 1149.4,3697.8 1159.8,3664.4 1170.3,3629.5 1180.8,3594.8 1191.2,3562.3 1201.7,3531.8 1212.2,3503.1 1222.6,3478.7 1233.1,3457.4 1243.6,3441.4 1254.1,3432.1 1264.5,3430.4 1275,3433.7 1285.5,3440.7 1295.9,3457.5 1306.4,3478.4 1316.9,3506.6 1327.3,3544 1337.8,3588.2 1348.3,3636.1 1358.8,3683.5 1369.2,3730.9 1379.7,3778.4 1390.2,3825.8 1400.6,3873.2 1411.1,3920.7 1421.6,3968.1 1432,4015.5 1442.5,4063 1453,4110.4 1463.5,4157.8 1473.9,4205.2 1484.4,4252.7 1494.9,4300.1 1505.3,4347.5 1515.8,4396.7 1526.3,4426.9 1536.7,4441.6 1547.2,4449.3 1557.7,4454.8 1568.2,4457 1578.6,4457 1589.1,4457 1599.6,4457 1610,4457 1620.5,4457 1631,4457 1641.4,4457 1651.9,4457 1662.4,4457 1672.9,4457 1683.3,4457 1693.8,4457 1704.3,4457 1714.7,4457 1725.2,4457 1735.7,4457 1746.1,4457 1756.6,4457 1767.1,4457 1777.6,4457 1788,4457 1798.5,4457 1809,4457 1819.4,4457 1829.9,4457 1840.4,4457 1850.8,4457 1861.3,4457 1871.8,4457"/>
<polyline fill="none" stroke="none" marker-start="url(#mc220)" marker-mid="url(#mc220)" marker-end="url(#mc220)" points="468.8,4426.1 479.3,4424.3 489.7,4422.2 500.2,4419.9 510.7,4417.4 521.2,4414.7 531.6,4411.8 542.1,4408.7 552.6,4405.5 563,4402.2 573.5,4398.7 584,4395.1 594.4,4391.4 604.9,4387.6 615.4,4383.4 625.9,4378.7 636.3,4373.6 646.8,4368.3 657.3,4362.9 667.7,4357.3 678.2,4351.9 688.7,4346.5 699.1,4341.4 709.6,4336.5 720.1,4331.7 730.6,4327 741,4322.3 751.5,4317.6 762,4312.8 772.4,4307.9 782.9,4302.9 793.4,4297.7 803.8,4292.3 814.3,4287 824.8,4281.6 835.3,4276 845.7,4270.3 856.2,4264.4 866.7,4258.2 877.1,4251.7 887.6,4244.7 898.1,4237.3 908.5,4229.5 919,4221.3 929.5,4212.4 940,4202.7 950.4,4192.2 960.9,4180.6 971.4,4167.6 981.8,4151.8 992.3,4133.8 1002.8,4114.3 1013.2,4094.1 1023.7,4072 1034.2,4048.1 1044.7,4023.2 1055.1,3997.7 1065.6,3971.6 1076.1,3944.3 1086.5,3914.9 1097,3881.9 1107.5,3844.6 1117.9,3807.1 1128.4,3771.9 1138.9,3737.5 1149.4,3703.4 1159.8,3669.1 1170.3,3634.1 1180.8,3599.6 1191.2,3567.3 1201.7,3536.9 1212.2,3508.2 1222.6,3483.6 1233.1,3461.9 1243.6,3445.5 1254.1,3436.1 1264.5,3434.4 1275,3437.7 1285.5,3444.3 1295.9,3460.1 1306.4,3486.9 1316.9,3527.7 1327.3,3565.1 1337.8,3606.1 1348.3,3654.2 1358.8,3701.6 1369.2,3749.1 1379.7,3796.5 1390.2,3843.9 1400.6,3891.4 1411.1,3938.8 1421.6,3986.2 1432,4033.6 1442.5,4081.1 1453,4128.5 1463.5,4175.9 1473.9,4223.4 1484.4,4270.8 1494.9,4318.2 1505.3,4365.6 1515.8,4410.7 1526.3,4433.5 1536.7,4445.1 1547.2,4451.6 1557.7,4456.1 1568.2,4457 1578.6,4457 1589.1,4457 1599.6,4457 1610,4457 1620.5,4457 1631,4457 1641.4,4457 1651.9,4457 1662.4,4457 1672.9,4457 1683.3,4457 1693.8,4457 1704.3,4457 1714.7,4457 1725.2,4457 1735.7,4457 1746.1,4457 1756.6,4457 1767.1,4457 1777.6,4457 1788,4457 1798.5,4457 1809,4457 1819.4,4457 1829.9,4457 1840.4,4457 1850.8,4457 1861.3,4457 1871.8,4457"/>
<polyline fill="none" stroke="none" marker-start="url(#mc230)" marker-mid="url(#mc230)" marker-end="url(#mc230)" points="468.8,4429.1 479.3,4427.7 489.7,4426.1 500.2,4424.2 510.7,4422.2 521.2,4419.9 531.6,4417.5 542.1,4414.9 552.6,4412.1 563,4409.2 573.5,4406.2 584,4403.1 594.4,4399.9 604.9,4396.6 615.4,4392.8 625.9,4388.7 636.3,4384.2 646.8,4379.5 657.3,4374.5 667.7,4369.5 678.2,4364.4 688.7,4359.4 699.1,4354.5 709.6,4349.6 720.1,4344.7 730.6,4339.7 741,4334.6 751.5,4329.5 762,4324.4 772.4,4319.2 782.9,4313.9 793.4,4308.6 803.8,4303.4 814.3,4298.4 824.8,4293.5 835.3,4288.5 845.7,4283.6 856.2,4278.4 866.7,4273 877.1,4267.3 887.6,4261.2 898.1,4254.6 908.5,4247.5 919,4239.5 929.5,4230.2 940,4219.7 950.4,4208.1 960.9,4195.6 971.4,4182 981.8,4166.4 992.3,4149.1 1002.8,4130.8 1013.2,4112.2 1023.7,4093.1 1034.2,4073 1044.7,4051.5 1055.1,4028.1 1065.6,4002.1 1076.1,3973.6 1086.5,3943.2 1097,3910.5 1107.5,3874.4 1117.9,3836.9 1128.4,3796.6 1138.9,3759.2 1149.4,3729.7 1159.8,3702.1 1170.3,3669.9 1180.8,3634.3 1191.2,3600.2 1201.7,3567.7 1212.2,3536.7 1222.6,3506.5 1233.1,3483.2 1243.6,3464.5 1254.1,3455.8 1264.5,3452.2 1275,3454 1285.5,3460.3 1295.9,3474.5 1306.4,3493.3 1316.9,3513.5 1327.3,3535.1 1337.8,3563.8 1348.3,3613.4 1358.8,3660.9 1369.2,3708.3 1379.7,3755.7 1390.2,3803.2 1400.6,3850.6 1411.1,3898 1421.6,3945.4 1432,3992.9 1442.5,4040.3 1453,4087.7 1463.5,4135.2 1473.9,4182.6 1484.4,4230 1494.9,4277.4 1505.3,4324.9 1515.8,4374.3 1526.3,4413.5 1536.7,4435.6 1547.2,4446.1 1557.7,4452.4 1568.2,4456.5 1578.6,4457 1589.1,4457 1599.6,4457 1610,4457 1620.5,4457 1631,4457 1641.4,4457 1651.9,4457 1662.4,4457 1672.9,4457 1683.3,4457 1693.8,4457 1704.3,4457 1714.7,4457 1725.2,4457 1735.7,4457 1746.1,4457 1756.6,4457 1767.1,4457 1777.6,4457 1788,4457 1798.5,4457 1809,4457 1819.4,4457 1829.9,4457 1840.4,4457 1850.8,4457 1861.3,4457 1871.8,4457"/>
<polyline fill="none" stroke="none" marker-start="url(#mc240)" marker-mid="url(#mc240)" marker-end="url(#mc240)" points="468.8,4435 479.3,4433.5 489.7,4431.9 500.2,4430.2 510.7,4428.4 521.2,4426.4 531.6,4424.4 542.1,4422.3 552.6,4420 563,4417.7 573.5,4415.3 584,4412.9 594.4,4410.4 604.9,4407.8 615.4,4405.1 625.9,4402.3 636.3,4399.3 646.8,4396.2 657.3,4392.9 667.7,4389.4 678.2,4385.8 688.7,4382 699.1,4377.9 709.6,4373.5 720.1,4368.6 730.6,4363.3 741,4357.8 751.5,4352.1 762,4346.2 772.4,4340.4 782.9,4334.6 793.4,4328.9 803.8,4323.4 814.3,4317.8 824.8,4312.1 835.3,4306.4 845.7,4300.7 856.2,4295 866.7,4289.4 877.1,4283.9 887.6,4278.6 898.1,4273.4 908.5,4268.7 919,4264.4 929.5,4260.3 940,4256.2 950.4,4251.7 960.9,4246.5 971.4,4240.5 981.8,4232.9 992.3,4223.5 1002.8,4212.7 1013.2,4200.8 1023.7,4187.8 1034.2,4172.4 1044.7,4155.7 1055.1,4138.7 1065.6,4122.7 1076.1,4106.9 1086.5,4090.4 1097,4071.6 1107.5,4048.9 1117.9,4022.4 1128.4,3994.8 1138.9,3968.5 1149.4,3943.4 1159.8,3918.6 1170.3,3893.3 1180.8,3867.1 1191.2,3838.9 1201.7,3809.6 1212.2,3780.6 1222.6,3753.3 1233.1,3726.5 1243.6,3700.5 1254.1,3676.9 1264.5,3656.4 1275,3637.8 1285.5,3624.6 1295.9,3617.1 1306.4,3619.3 1316.9,3626.5 1327.3,3642 1337.8,3659.1 1348.3,3672.9 1358.8,3686.9 1369.2,3713.2 1379.7,3764.8 1390.2,3812.2 1400.6,3859.6 1411.1,3907.1 1421.6,3954.5 1432,4001.9 1442.5,4049.4 1453,4096.8 1463.5,4144.2 1473.9,4191.6 1484.4,4239.1 1494.9,4286.5 1505.3,4333.9 1515.8,4382.9 1526.3,4420.2 1536.7,4438.1 1547.2,4447.4 1557.7,4453.4 1568.2,4456.8 1578.6,4457 1589.1,4457 1599.6,4457 1610,4457 1620.5,4457 1631,4457 1641.4,4457 1651.9,4457 1662.4,4457 1672.9,4457 1683.3,4457 1693.8,4457 1704.3,4457 1714.7,4457 1725.2,4457 1735.7,4457 1746.1,4457 1756.6,4457 1767.1,4457 1777.6,4457 1788,4457 1798.5,4457 1809,4457 1819.4,4457 1829.9,4457 1840.4,4457 1850.8,4457 1861.3,4457 1871.8,4457"/>
<polyline fill="none" stroke="none" marker-start="url(#mc280)" marker-mid="url(#mc280)" marker-end="url(#mc280)" points="468.8,4441 479.3,4441 489.7,4441 500.2,4440.9 510.7,4440.8 521.2,4440.8 531.6,4440.7 542.1,4440.5 552.6,4440.4 563,4440.2 573.5,4440 584,4439.8 594.4,4439.6 604.9,4439.3 615.4,4438.1 625.9,4436.2 636.3,4433.6 646.8,4430.6 657.3,4427.3 667.7,4423.9 678.2,4420.6 688.7,4417.4 699.1,4414.6 709.6,4412 720.1,4409.4 730.6,4406.8 741,4404.2 751.5,4401.4 762,4398.4 772.4,4395.3 782.9,4391.8 793.4,4387.9 803.8,4383.5 814.3,4378.4 824.8,4373 835.3,4367.2 845.7,4361.2 856.2,4355.2 866.7,4349.2 877.1,4343.3 887.6,4337.6 898.1,4332.4 908.5,4327.5 919,4322.8 929.5,4317.9 940,4312.6 950.4,4306.7 960.9,4300.6 971.4,4294.2 981.8,4287.5 992.3,4280.4 1002.8,4272.9 1013.2,4264.9 1023.7,4256.4 1034.2,4247.3 1044.7,4237.2 1055.1,4225.6 1065.6,4213.1 1076.1,4200 1086.5,4186.8 1097,4173.4 1107.5,4159.4 1117.9,4144.8 1128.4,4129.2 1138.9,4112.4 1149.4,4093.6 1159.8,4073.2 1170.3,4051.8 1180.8,4029.8 1191.2,4008 1201.7,3986.9 1212.2,3965.9 1222.6,3944.6 1233.1,3923.7 1243.6,3903.3 1254.1,3884.1 1264.5,3865 1275,3846.5 1285.5,3830.6 1295.9,3817.9 1306.4,3806.4 1316.9,3802 1327.3,3804.6 1337.8,3809.9 1348.3,3821.8 1358.8,3837.8 1369.2,3850.6 1379.7,3862.7 1390.2,3877.3 1400.6,3897.8 1411.1,3941.8 1421.6,3990.7 1432,4038.2 1442.5,4085.6 1453,4133 1463.5,4180.5 1473.9,4227.9 1484.4,4275.3 1494.9,4322.7 1505.3,4370.2 1515.8,4413.6 1526.3,4434.9 1536.7,4445.8 1547.2,4452.2 1557.7,4456.4 1568.2,4457 1578.6,4457 1589.1,4457 1599.6,4457 1610,4457 1620.5,4457 1631,4457 1641.4,4457 1651.9,4457 1662.4,4457 1672.9,4457 1683.3,4457 1693.8,4457 1704.3,4457 1714.7,4457 1725.2,4457 1735.7,4457 1746.1,4457 1756.6,4457 1767.1,4457 1777.6,4457 1788,4457 1798.5,4457 1809,4457 1819.4,4457 1829.9,4457 1840.4,4457 1850.8,4457 1861.3,4457 1871.8,4457"/>
<polyline fill="none" stroke="none" marker-start="url(#mc300)" marker-mid="url(#mc300)" marker-end="url(#mc300)" points="468.8,4442 479.3,4442 489.7,4442 500.2,4441.9 510.7,4441.9 521.2,4441.8 531.6,4441.8 542.1,4441.7 552.6,4441.6 563,4441.5 573.5,4441.4 584,4441.2 594.4,4441.1 604.9,4440.9 615.4,4440.4 625.9,4439.5 636.3,4438.4 646.8,4437.1 657.3,4435.6 667.7,4434 678.2,4432.4 688.7,4430.8 699.1,4429.2 709.6,4427.6 720.1,4425.9 730.6,4424.1 741,4422.2 751.5,4420.1 762,4417.8 772.4,4415.4 782.9,4412.7 793.4,4409.8 803.8,4406.3 814.3,4402.4 824.8,4398 835.3,4393.3 845.7,4388.2 856.2,4382.9 866.7,4377.4 877.1,4371.9 887.6,4366.2 898.1,4360.6 908.5,4355 919,4349.4 929.5,4343.6 940,4337.7 950.4,4331.6 960.9,4325.3 971.4,4318.9 981.8,4312.2 992.3,4305.3 1002.8,4298.2 1013.2,4290.9 1023.7,4283.4 1034.2,4275.7 1044.7,4267.8 1055.1,4259.5 1065.6,4250.9 1076.1,4241.9 1086.5,4232.4 1097,4222.3 1107.5,4211.6 1117.9,4199.8 1128.4,4187.2 1138.9,4173.7 1149.4,4159.4 1159.8,4144.6 1170.3,4128.8 1180.8,4111.5 1191.2,4092.6 1201.7,4071.3 1212.2,4047.9 1222.6,4024 1233.1,4000 1243.6,3975.2 1254.1,3951.7 1264.5,3930.8 1275,3911.9 1285.5,3899.9 1295.9,3891.9 1306.4,3887.8 1316.9,3885.1 1327.3,3884 1337.8,3885.9 1348.3,3890.3 1358.8,3901 1369.2,3915.9 1379.7,3934.8 1390.2,3963.9 1400.6,3997.2 1411.1,4027.8 1421.6,4049.4 1432,4073.4 1442.5,4115.7 1453,4164.7 1463.5,4212.2 1473.9,4259.6 1484.4,4307 1494.9,4354.5 1505.3,4402.5 1515.8,4429.6 1526.3,4443.1 1536.7,4450.2 1547.2,4455.3 1557.7,4457 1568.2,4457 1578.6,4457 1589.1,4457 1599.6,4457 1610,4457 1620.5,4457 1631,4457 1641.4,4457 1651.9,4457 1662.4,4457 1672.9,4457 1683.3,4457 1693.8,4457 1704.3,4457 1714.7,4457 1725.2,4457 1735.7,4457 1746.1,4457 1756.6,4457 1767.1,4457 1777.6,4457 1788,4457 1798.5,4457 1809,4457 1819.4,4457 1829.9,4457 1840.4,4457 1850.8,4457 1861.3,4457 1871.8,4457"/>
<polyline fill="none" stroke="none" marker-start="url(#mc340)" marker-mid="url(#mc340)" marker-end="url(#mc340)" points="468.8,4442.5 479.3,4442.5 489.7,4442.5 500.2,4442.4 510.7,4442.3 521.2,4442.2 531.6,4442.1 542.1,4441.9 552.6,4441.7 563,4441.5 573.5,4441.3 584,4441.1 594.4,4440.8 604.9,4440.5 615.4,4440.2 625.9,4439.9 636.3,4439.5 646.8,4439.2 657.3,4438.8 667.7,4438.4 678.2,4438 688.7,4437.5 699.1,4437.1 709.6,4436.5 720.1,4435.6 730.6,4434.6 741,4433.3 751.5,4431.8 762,4430.1 772.4,4428.3 782.9,4426.3 793.4,4424.1 803.8,4421.1 814.3,4417.3 824.8,4412.9 835.3,4407.9 845.7,4402.5 856.2,4396.8 866.7,4390.9 877.1,4385.1 887.6,4379.4 898.1,4374 908.5,4368.9 919,4364.2 929.5,4359.7 940,4355.2 950.4,4350.8 960.9,4346.4 971.4,4341.9 981.8,4337.3 992.3,4332.5 1002.8,4327.5 1013.2,4322.2 1023.7,4316.5 1034.2,4310.5 1044.7,4304.2 1055.1,4297.6 1065.6,4290.9 1076.1,4284 1086.5,4277.1 1097,4270.1 1107.5,4263.2 1117.9,4256.3 1128.4,4249.4 1138.9,4242.2 1149.4,4234.3 1159.8,4225.7 1170.3,4216.3 1180.8,4206.4 1191.2,4196 1201.7,4184.9 1212.2,4173.3 1222.6,4161.2 1233.1,4148.6 1243.6,4135 1254.1,4118.5 1264.5,4101 1275,4084.7 1285.5,4071.9 1295.9,4061.5 1306.4,4052.5 1316.9,4046.1 1327.3,4042.9 1337.8,4040.7 1348.3,4040.4 1358.8,4042.4 1369.2,4045.7 1379.7,4052 1390.2,4062.8 1400.6,4075.8 1411.1,4092.4 1421.6,4112.9 1432,4134.6 1442.5,4158.4 1453,4188.1 1463.5,4234 1473.9,4282.2 1484.4,4329.7 1494.9,4377.4 1505.3,4417.8 1515.8,4437 1526.3,4446.8 1536.7,4453 1547.2,4456.7 1557.7,4457 1568.2,4457 1578.6,4457 1589.1,4457 1599.6,4457 1610,4457 1620.5,4457 1631,4457 1641.4,4457 1651.9,4457 1662.4,4457 1672.9,4457 1683.3,4457 1693.8,4457 1704.3,4457 1714.7,4457 1725.2,4457 1735.7,4457 1746.1,4457 1756.6,4457 1767.1,4457 1777.6,4457 1788,4457 1798.5,4457 1809,4457 1819.4,4457 1829.9,4457 1840.4,4457 1850.8,4457 1861.3,4457 1871.8,4457"/>
<polyline fill="none" stroke="none" marker-start="url(#mc380)" marker-mid="url(#mc380)" marker-end="url(#mc380)" points="468.8,4443 479.3,4443 489.7,4443 500.2,4442.9 510.7,4442.9 521.2,4442.8 531.6,4442.8 542.1,4442.7 552.6,4442.6 563,4442.5 573.5,4442.4 584,4442.2 594.4,4442.1 604.9,4441.9 615.4,4441.8 625.9,4441.6 636.3,4441.4 646.8,4441.2 657.3,4441 667.7,4440.7 678.2,4440.5 688.7,4440.3 699.1,4440 709.6,4439.7 720.1,4439.3 730.6,4438.7 741,4438 751.5,4437.1 762,4436.2 772.4,4435.2 782.9,4434 793.4,4432.8 803.8,4431.5 814.3,4429.5 824.8,4426.9 835.3,4423.8 845.7,4420.4 856.2,4416.7 866.7,4413 877.1,4409.3 887.6,4405.8 898.1,4402.5 908.5,4399.7 919,4397 929.5,4394.4 940,4391.9 950.4,4389.4 960.9,4386.8 971.4,4384.2 981.8,4381.4 992.3,4378.4 1002.8,4375.1 1013.2,4371.5 1023.7,4367.6 1034.2,4363.5 1044.7,4359.2 1055.1,4354.8 1065.6,4350.2 1076.1,4345.7 1086.5,4341.2 1097,4336.7 1107.5,4332.1 1117.9,4327.4 1128.4,4322.6 1138.9,4317.8 1149.4,4313 1159.8,4308.1 1170.3,4303.3 1180.8,4298.7 1191.2,4294.1 1201.7,4289.3 1212.2,4284.1 1222.6,4278.4 1233.1,4271.9 1243.6,4264.3 1254.1,4255.7 1264.5,4246.4 1275,4236.9 1285.5,4227.5 1295.9,4218.4 1306.4,4209.5 1316.9,4199.8 1327.3,4190.8 1337.8,4184 1348.3,4179.6 1358.8,4176.2 1369.2,4175.1 1379.7,4176.2 1390.2,4178.6 1400.6,4182.4 1411.1,4190.5 1421.6,4201.2 1432,4214 1442.5,4231 1453,4250.9 1463.5,4274.1 1473.9,4303.1 1484.4,4346.4 1494.9,4396.6 1505.3,4427 1515.8,4441.6 1526.3,4449.3 1536.7,4454.8 1547.2,4457 1557.7,4457 1568.2,4457 1578.6,4457 1589.1,4457 1599.6,4457 1610,4457 1620.5,4457 1631,4457 1641.4,4457 1651.9,4457 1662.4,4457 1672.9,4457 1683.3,4457 1693.8,4457 1704.3,4457 1714.7,4457 1725.2,4457 1735.7,4457 1746.1,4457 1756.6,4457 1767.1,4457 1777.6,4457 1788,4457 1798.5,4457 1809,4457 1819.4,4457 1829.9,4457 1840.4,4457 1850.8,4457 1861.3,4457 1871.8,4457"/>
<polyline fill="none" stroke="none" marker-start="url(#mc400)" marker-mid="url(#mc400)" marker-end="url(#mc400)" points="468.8,4443.5 479.3,4443.5 489.7,4443.5 500.2,4443.5 510.7,4443.4 521.2,4443.4 531.6,4443.3 542.1,4443.2 552.6,4443.2 563,4443.1 573.5,4443 584,4442.9 594.4,4442.7 604.9,4442.6 615.4,4442.5 625.9,4442.3 636.3,4442.1 646.8,4442 657.3,4441.8 667.7,4441.6 678.2,4441.3 688.7,4441.1 699.1,4440.9 709.6,4440.6 720.1,4440.4 730.6,4440.1 741,4439.8 751.5,4439.5 762,4439.2 772.4,4438.9 782.9,4438.6 793.4,4438.2 803.8,4437.8 814.3,4437.2 824.8,4436.2 835.3,4434.9 845.7,4433.5 856.2,4431.9 866.7,4430.2 877.1,4428.5 887.6,4426.8 898.1,4425.3 908.5,4423.8 919,4422.4 929.5,4420.9 940,4419.5 950.4,4418 960.9,4416.4 971.4,4414.8 981.8,4413.1 992.3,4411.4 1002.8,4409.5 1013.2,4407.6 1023.7,4405.6 1034.2,4403.5 1044.7,4401.3 1055.1,4398.9 1065.6,4396.3 1076.1,4393.4 1086.5,4390.2 1097,4386.2 1107.5,4381.3 1117.9,4375.7 1128.4,4369.5 1138.9,4363 1149.4,4356.5 1159.8,4350.1 1170.3,4343.7 1180.8,4337 1191.2,4330.1 1201.7,4323.1 1212.2,4316.1 1222.6,4309.3 1233.1,4302.7 1243.6,4296.1 1254.1,4289.4 1264.5,4282.9 1275,4276.4 1285.5,4270.2 1295.9,4264.2 1306.4,4258.4 1316.9,4252.4 1327.3,4247 1337.8,4242.7 1348.3,4239.6 1358.8,4237.1 1369.2,4236.2 1379.7,4237.4 1390.2,4239.9 1400.6,4243.2 1411.1,4248.8 1421.6,4257.2 1432,4267 1442.5,4279.2 1453,4294.1 1463.5,4310.8 1473.9,4331.2 1484.4,4353.4 1494.9,4375.2 1505.3,4398.1 1515.8,4416.1 1526.3,4428.2 1536.7,4437.5 1547.2,4445.5 1557.7,4452.8 1568.2,4456.8 1578.6,4457.3 1589.1,4457.6 1599.6,4457.9 1610,4458.2 1620.5,4458.4 1631,4458.5 1641.4,4458.7 1651.9,4458.8 1662.4,4458.9 1672.9,4458.9 1683.3,4459 1693.8,4459 1704.3,4459 1714.7,4459 1725.2,4459 1735.7,4459 1746.1,4459 1756.6,4459 1767.1,4459 1777.6,4459 1788,4459 1798.5,4459 1809,4459 1819.4,4459 1829.9,4459 1840.4,4459 1850.8,4459 1861.3,4459 1871.8,4459"/>
<polyline fill="none" stroke="none" marker-start="url(#mc440)" marker-mid="url(#mc440)" marker-end="url(#mc440)" points="468.8,4444 479.3,4444 489.7,4444 500.2,4444 510.7,4443.9 521.2,4443.9 531.6,4443.9 542.1,4443.8 552.6,4443.8 563,4443.7 573.5,4443.7 584,4443.6 594.4,4443.5 604.9,4443.5 615.4,4443.4 625.9,4443.3 636.3,4443.2 646.8,4443.1 657.3,4443 667.7,4442.9 678.2,4442.8 688.7,4442.6 699.1,4442.5 709.6,4442.4 720.1,4442.2 730.6,4442.1 741,4441.9 751.5,4441.8 762,4441.6 772.4,4441.5 782.9,4441.3 793.4,4441.1 803.8,4440.9 814.3,4440.7 824.8,4440.3 835.3,4439.9 845.7,4439.4 856.2,4438.8 866.7,4438.2 877.1,4437.5 887.6,4436.7 898.1,4435.9 908.5,4435 919,4434 929.5,4433 940,4431.9 950.4,4430.8 960.9,4429.7 971.4,4428.5 981.8,4427.2 992.3,4426 1002.8,4424.6 1013.2,4423 1023.7,4421.1 1034.2,4418.9 1044.7,4416.4 1055.1,4413.8 1065.6,4411.2 1076.1,4408.5 1086.5,4405.8 1097,4403.1 1107.5,4400.3 1117.9,4397.4 1128.4,4394.4 1138.9,4391.3 1149.4,4388.2 1159.8,4385.1 1170.3,4381.9 1180.8,4378.5 1191.2,4375.2 1201.7,4371.8 1212.2,4368.4 1222.6,4365.1 1233.1,4361.8 1243.6,4358.5 1254.1,4355.1 1264.5,4351.7 1275,4348.5 1285.5,4345.5 1295.9,4342.9 1306.4,4340.6 1316.9,4338.5 1327.3,4336.6 1337.8,4335.2 1348.3,4334.2 1358.8,4333.5 1369.2,4333.2 1379.7,4334.1 1390.2,4335.9 1400.6,4338.1 1411.1,4341.3 1421.6,4345.7 1432,4351.2 1442.5,4358.9 1453,4368.5 1463.5,4378.2 1473.9,4388.6 1484.4,4399.3 1494.9,4410.1 1505.3,4421.2 1515.8,4430.6 1526.3,4438.2 1536.7,4443.9 1547.2,4446.8 1557.7,4449 1568.2,4450 1578.6,4450 1589.1,4450 1599.6,4450 1610,4450 1620.5,4450 1631,4450 1641.4,4450 1651.9,4450 1662.4,4450 1672.9,4450 1683.3,4450 1693.8,4450 1704.3,4450 1714.7,4450 1725.2,4450 1735.7,4450 1746.1,4450 1756.6,4450 1767.1,4450 1777.6,4450 1788,4450 1798.5,4450 1809,4450 1819.4,4450 1829.9,4450 1840.4,4450 1850.8,4450 1861.3,4450 1871.8,4450"/>
<polyline fill="none" stroke="none" marker-start="url(#mc500)" marker-mid="url(#mc500)" marker-end="url(#mc500)" points="468.8,4444.5 479.3,4444.5 489.7,4444.5 500.2,4444.5 510.7,4444.5 521.2,4444.5 531.6,4444.5 542.1,4444.4 552.6,4444.4 563,4444.4 573.5,4444.4 584,4444.4 594.4,4444.3 604.9,4444.3 615.4,4444.3 625.9,4444.3 636.3,4444.2 646.8,4444.2 657.3,4444.1 667.7,4444.1 678.2,4444.1 688.7,4444 699.1,4444 709.6,4443.9 720.1,4443.9 730.6,4443.9 741,4443.8 751.5,4443.8 762,4443.7 772.4,4443.6 782.9,4443.6 793.4,4443.5 803.8,4443.5 814.3,4443.4 824.8,4443.3 835.3,4443.3 845.7,4443.2 856.2,4443 866.7,4442.9 877.1,4442.8 887.6,4442.6 898.1,4442.5 908.5,4442.3 919,4442.1 929.5,4441.9 940,4441.7 950.4,4441.4 960.9,4441.2 971.4,4440.9 981.8,4440.6 992.3,4440.3 1002.8,4439.9 1013.2,4439.3 1023.7,4438.4 1034.2,4437.3 1044.7,4436.1 1055.1,4434.6 1065.6,4433.1 1076.1,4431.6 1086.5,4430.1 1097,4428.4 1107.5,4426.6 1117.9,4424.6 1128.4,4422.4 1138.9,4420.3 1149.4,4418.1 1159.8,4416 1170.3,4414 1180.8,4412 1191.2,4410 1201.7,4408 1212.2,4405.9 1222.6,4403.9 1233.1,4401.8 1243.6,4399.6 1254.1,4397.3 1264.5,4395 1275,4392.8 1285.5,4390.7 1295.9,4388.7 1306.4,4386.9 1316.9,4385 1327.3,4383.3 1337.8,4382.2 1348.3,4381.5 1358.8,4381.1 1369.2,4380.9 1379.7,4381.4 1390.2,4382.6 1400.6,4384.1 1411.1,4386.7 1421.6,4390.5 1432,4394.9 1442.5,4400.1 1453,4406 1463.5,4412 1473.9,4418.5 1484.4,4424.9 1494.9,4430.6 1505.3,4435.9 1515.8,4440.5 1526.3,4444 1536.7,4447 1547.2,4448.9 1557.7,4449.9 1568.2,4450.7 1578.6,4451.3 1589.1,4451.7 1599.6,4452 1610,4452.2 1620.5,4452.3 1631,4452.5 1641.4,4452.6 1651.9,4452.7 1662.4,4452.8 1672.9,4452.9 1683.3,4453 1693.8,4453 1704.3,4453 1714.7,4452.9 1725.2,4452.8 1735.7,4452.6 1746.1,4452.4 1756.6,4452.1 1767.1,4451.8 1777.6,4451.6 1788,4451.3 1798.5,4451 1809,4450.8 1819.4,4450.5 1829.9,4450.3 1840.4,4450 1850.8,4449.7 1861.3,4449.4 1871.8,4449.1"/>
<polyline fill="none" stroke="none" marker-start="url(#mc600)" marker-mid="url(#mc600)" marker-end="url(#mc600)" points="468.8,4446.5 479.3,4446.5 489.7,4446.5 500.2,4446.5 510.7,4446.5 521.2,4446.5 531.6,4446.5 542.1,4446.5 552.6,4446.5 563,4446.5 573.5,4446.5 584,4446.5 594.4,4446.5 604.9,4446.5 615.4,4446.5 625.9,4446.5 636.3,4446.5 646.8,4446.5 657.3,4446.5 667.7,4446.5 678.2,4446.5 688.7,4446.5 699.1,4446.5 709.6,4446.5 720.1,4446.5 730.6,4446.5 741,4446.5 751.5,4446.5 762,4446.5 772.4,4446.5 782.9,4446.5 793.4,4446.5 803.8,4446.5 814.3,4446.5 824.8,4446.5 835.3,4446.5 845.7,4446.5 856.2,4446.5 866.7,4446.5 877.1,4446.5 887.6,4446.5 898.1,4446.5 908.5,4446.5 919,4446.5 929.5,4446.5 940,4446.5 950.4,4446.5 960.9,4446.5 971.4,4446.5 981.8,4446.5 992.3,4446.5 1002.8,4446.5 1013.2,4446.5 1023.7,4446.5 1034.2,4446.4 1044.7,4446.3 1055.1,4446.3 1065.6,4446.2 1076.1,4446.1 1086.5,4446 1097,4445.8 1107.5,4445.7 1117.9,4445.5 1128.4,4445.4 1138.9,4445.2 1149.4,4445 1159.8,4444.8 1170.3,4444.6 1180.8,4444.4 1191.2,4444.2 1201.7,4444 1212.2,4443.6 1222.6,4443.2 1233.1,4442.7 1243.6,4442.1 1254.1,4441.5 1264.5,4440.8 1275,4440.2 1285.5,4439.7 1295.9,4439.2 1306.4,4438.7 1316.9,4438.3 1327.3,4437.8 1337.8,4437.4 1348.3,4437.1 1358.8,4437 1369.2,4437.2 1379.7,4437.7 1390.2,4438.4 1400.6,4439.3 1411.1,4440.2 1421.6,4441.1 1432,4442.1 1442.5,4443.2 1453,4444.4 1463.5,4445.6 1473.9,4446.5 1484.4,4447.3 1494.9,4448 1505.3,4448.6 1515.8,4449.2 1526.3,4449.8 1536.7,4450.2 1547.2,4450.6 1557.7,4450.9 1568.2,4451.2 1578.6,4451.4 1589.1,4451.7 1599.6,4451.9 1610,4452.1 1620.5,4452.3 1631,4452.4 1641.4,4452.6 1651.9,4452.7 1662.4,4452.8 1672.9,4452.9 1683.3,4453 1693.8,4453 1704.3,4453 1714.7,4452.9 1725.2,4452.8 1735.7,4452.6 1746.1,4452.4 1756.6,4452.1 1767.1,4451.8 1777.6,4451.6 1788,4451.3 1798.5,4451 1809,4450.8 1819.4,4450.5 1829.9,4450.3 1840.4,4450 1850.8,4449.7 1861.3,4449.4 1871.8,4449.1"/>
</g>
<g id="inset">
<rect x="590.8" y="3340" width="503.9" height="411.4" fill="url(#insetbg)"/>
<g clip-path="url(#clip-i)">
<polyline fill="none" stroke="none" marker-start="url(#mi80)" marker-mid="url(#mi80)" marker-end="url(#mi80)" points="590.8,3473.6 594.6,3452.2 598.3,3437 602.1,3421 605.8,3410.7 609.6,3395.9 613.4,3387.5 617.1,3379.7 620.9,3375.3 624.6,3373.2 628.4,3372.4 632.2,3372.8 635.9,3374.5 639.7,3378.7 643.4,3386 647.2,3396.8 651,3408.4 654.7,3423.6 658.5,3442.2 662.2,3459.3 666,3476.3 669.8,3489.9 673.5,3505.1 677.3,3521.2 681,3539.5 684.8,3554 688.6,3570.4 692.3,3583.9 696.1,3596.1 699.8,3607.4 703.6,3617.8 707.4,3625.2 711.1,3631.3 714.9,3637 718.6,3642.6 722.4,3647.6 726.2,3651.1 729.9,3653.8 733.7,3656.4 737.4,3658.6 741.2,3660.7 745,3662.5 748.7,3664.2 752.5,3665.7 756.2,3667.1 760,3668.4 763.8,3669.6 767.5,3670.8 771.3,3671.9 775,3672.9 778.8,3674.1 782.6,3675.6 786.3,3677.4 790.1,3679.2 793.8,3680.9 797.6,3682.6 801.4,3684.3 805.1,3686.1 808.9,3687.8 812.6,3689.6 816.4,3691.4 820.2,3693.3 823.9,3695.3 827.7,3697.3 831.4,3699.4 835.2,3701.5 839,3703.7 842.7,3705.8 846.5,3707.9 850.2,3709.9 854,3711.8 857.8,3713.8 861.5,3715.8 865.3,3717.8 869,3719.7 872.8,3721.5 876.6,3723.2 880.3,3724.8 884.1,3726.4 887.8,3727.8 891.6,3729.2 895.4,3730.6 899.1,3731.9 902.9,3733.1 906.6,3734.2 910.4,3735.3 914.2,3736.3 917.9,3737.2 921.7,3738.1 925.4,3739 929.2,3739.8 933,3740.5 936.7,3741.2 940.5,3741.8 944.2,3742.4 948,3743 951.8,3743.6 955.5,3744.1 959.3,3744.6 963,3745 966.8,3745.4 970.6,3745.6 974.3,3745.9 978.1,3746.1 981.8,3746.3 985.6,3746.4 989.4,3746.6 993.1,3746.7 996.9,3746.8 1000.6,3746.8 1004.4,3746.8 1008.2,3746.8 1011.9,3746.9 1015.7,3746.9 1019.4,3746.9 1023.2,3746.9 1027,3746.9 1030.7,3746.9 1034.5,3747 1038.2,3747 1042,3747 1045.8,3747 1049.5,3747 1053.3,3747 1057,3747 1060.8,3747 1064.6,3747 1068.3,3747.1 1072.1,3747.1 1075.8,3747.1 1079.6,3747.1 1083.4,3747.1 1087.1,3747.1 1090.9,3747.1 1094.6,3747.1"/>
<polyline fill="none" stroke="none" marker-start="url(#mi120)" marker-mid="url(#mi120)" marker-end="url(#mi120)" points="590.8,3667.7 594.6,3661.7 598.3,3655.5 602.1,3649 605.8,3642.1 609.6,3634.6 613.4,3626.7 617.1,3618.1 620.9,3608.9 624.6,3598.5 628.4,3587.1 632.2,3575.3 635.9,3563.7 639.7,3552.3 643.4,3540.9 647.2,3529.8 651,3518.8 654.7,3507.9 658.5,3498.2 662.2,3490.2 666,3483.1 669.8,3477.1 673.5,3472.3 677.3,3468.1 681,3465.5 684.8,3463.9 688.6,3463.3 692.3,3464.9 696.1,3467.6 699.8,3471.4 703.6,3476.3 707.4,3482.5 711.1,3490.3 714.9,3499 718.6,3509 722.4,3519.4 726.2,3529.6 729.9,3539.6 733.7,3549 737.4,3557.8 741.2,3566.1 745,3574.2 748.7,3581.3 752.5,3587.1 756.2,3592 760,3596 763.8,3599.5 767.5,3602 771.3,3603.7 775,3604.8 778.8,3604.6 782.6,3603.3 786.3,3602.1 790.1,3601.9 793.8,3600.6 797.6,3597.3 801.4,3592.9 805.1,3588.2 808.9,3582.7 812.6,3575.9 816.4,3568.4 820.2,3561.1 823.9,3553.5 827.7,3545.5 831.4,3537.8 835.2,3531.1 839,3524.8 842.7,3518.9 846.5,3513.9 850.2,3510.3 854,3507.6 857.8,3505.3 861.5,3503.9 865.3,3503.9 869,3505.2 872.8,3507.5 876.6,3510.4 880.3,3515.4 884.1,3523.4 887.8,3532.4 891.6,3541 895.4,3550.2 899.1,3560 902.9,3570.5 906.6,3581.7 910.4,3593.5 914.2,3606.1 917.9,3618.8 921.7,3630.3 925.4,3641.4 929.2,3653.1 933,3665.9 936.7,3678.4 940.5,3690.2 944.2,3701.3 948,3711.2 951.8,3720.2 955.5,3727.8 959.3,3734.8 963,3740 966.8,3742.9 970.6,3745.1 974.3,3746.5 978.1,3747.2 981.8,3747.8 985.6,3748.3 989.4,3748.7 993.1,3749 996.9,3749.1 1000.6,3749.2 1004.4,3749.2 1008.2,3749.2 1011.9,3749.3 1015.7,3749.3 1019.4,3749.3 1023.2,3749.3 1027,3749.3 1030.7,3749.4 1034.5,3749.4 1038.2,3749.4 1042,3749.4 1045.8,3749.4 1049.5,3749.4 1053.3,3749.4 1057,3749.4 1060.8,3749.4 1064.6,3749.4 1068.3,3749.5 1072.1,3749.5 1075.8,3749.5 1079.6,3749.5 1083.4,3749.5 1087.1,3749.5 1090.9,3749.5 1094.6,3749.5"/>
</g>
<path d="M590.8,3340H1094.7V3751.4H590.8Z" fill="none" stroke="#000" stroke-width="3"/>
<path d="M582.3,3748.6H590.8M582.3,3666.9H590.8M582.3,3585.2H590.8M582.3,3503.5H590.8M582.3,3421.8H590.8M582.3,3340.1H590.8M634.8,3751.4V3759.9M747.6,3751.4V3759.9M860.4,3751.4V3759.9M973.2,3751.4V3759.9M1086,3751.4V3759.9" fill="none" stroke="#000" stroke-width="2.6"/>
<text transform="translate(576.8 3756.2)" font-size="22" text-anchor="end">0</text>
<text transform="translate(576.8 3674.5)" font-size="22" text-anchor="end">1x10<tspan dy="-9.2" font-size="15">6</tspan></text>
<text transform="translate(576.8 3592.8)" font-size="22" text-anchor="end">2x10<tspan dy="-9.2" font-size="15">6</tspan></text>
<text transform="translate(576.8 3511.1)" font-size="22" text-anchor="end">3x10<tspan dy="-9.2" font-size="15">6</tspan></text>
<text transform="translate(576.8 3429.4)" font-size="22" text-anchor="end">4x10<tspan dy="-9.2" font-size="15">6</tspan></text>
<text transform="translate(576.8 3347.7)" font-size="22" text-anchor="end">5x10<tspan dy="-9.2" font-size="15">6</tspan></text>
<text transform="translate(635.3 3785.9) scale(0.95 1)" font-size="21" text-anchor="middle">10<tspan dy="-8.8" font-size="14.3">2</tspan></text>
<text transform="translate(748.1 3785.9) scale(0.95 1)" font-size="21" text-anchor="middle">10<tspan dy="-8.8" font-size="14.3">3</tspan></text>
<text transform="translate(860.9 3785.9) scale(0.95 1)" font-size="21" text-anchor="middle">10<tspan dy="-8.8" font-size="14.3">4</tspan></text>
<text transform="translate(973.7 3785.9) scale(0.95 1)" font-size="21" text-anchor="middle">10<tspan dy="-8.8" font-size="14.3">5</tspan></text>
<text transform="translate(1086.5 3785.9) scale(0.95 1)" font-size="21" text-anchor="middle">10<tspan dy="-8.8" font-size="14.3">6</tspan></text>
<text transform="translate(843.2 3829.4) scale(0.95 1)" font-size="28.5" text-anchor="middle" class="b">Frequency (Hz)</text>
<text transform="translate(503.8 3552.7) rotate(-90)" font-size="33" text-anchor="middle" class="b">ε<tspan font-weight="normal">''</tspan><tspan dy="6" font-size="19">AC</tspan></text>
<rect x="967.2" y="3357.3" width="123.6" height="63.7" fill="#000"/>
<rect x="961.2" y="3351.3" width="122.8" height="62.9" fill="#fff" stroke="#000" stroke-width="1.6"/>
<rect x="984.8" y="3362.4" width="12.5" height="12.6" fill="#00ff00"/>
<circle cx="991" cy="3398" r="7.2" fill="#ff8000"/>
<text transform="translate(1024.3 3376) scale(0.95 1)" font-size="23.5">80K</text>
<text transform="translate(1024.3 3405.3) scale(0.95 1)" font-size="23.5">120K</text>
</g>
<rect x="985.5" y="124.7" width="379.4" height="112.3" fill="#000"/>
<rect x="969.5" y="108.7" width="378.4" height="111.3" fill="#fff" stroke="#000" stroke-width="2.2"/>
<text transform="translate(1008.5 183) scale(0.94 1)" font-size="72.3" class="b">T<tspan dy="21.5" font-size="47.4">S</tspan><tspan dy="-21.5" font-size="72.3">=800°C</tspan></text>
<text transform="translate(1689 190.5)" font-size="96" class="b">(a)</text>
<rect x="469" y="94.9" width="208.4" height="814.3" fill="#fff" stroke="#000" stroke-width="2"/>
<g transform="translate(519.8 123.4)"><rect x="-16.2" y="-16.2" width="32.4" height="32.4" fill="#00ff00"/></g><text transform="translate(576.5 138) scale(0.95 1)" font-size="42.6">80K</text>
<g transform="translate(519.8 174)"><circle r="18.7" fill="#ff8000"/></g><text transform="translate(576.5 188.6) scale(0.95 1)" font-size="42.6">120K</text>
<g transform="translate(519.8 224.6)"><path d="M0,-26L22.2,13L-22.2,13Z" fill="#5a6eff"/></g><text transform="translate(576.5 239.2) scale(0.95 1)" font-size="42.6">170K</text>
<g transform="translate(519.8 275.2)"><path d="M0,26L22.2,-13L-22.2,-13Z" fill="#ff82c8"/></g><text transform="translate(576.5 289.8) scale(0.95 1)" font-size="42.6">180K</text>
<g transform="translate(519.8 325.8)"><path d="M0,-22.1L22.1,0L0,22.1L-22.1,0Z" fill="#ffff00" stroke="#ffff00" stroke-width="2.2" stroke-linejoin="round"/></g><text transform="translate(576.5 340.4) scale(0.95 1)" font-size="42.6">200K</text>
<g transform="translate(519.8 376.4)"><circle r="18.9" fill="#00ff00"/><circle cx="-5.2" cy="-5.2" r="9.6" fill="url(#hl)"/></g><text transform="translate(576.5 391) scale(0.95 1)" font-size="42.6">210K</text>
<g transform="translate(519.8 427)"><path d="M26,0L-13,22.2L-13,-22.2Z" fill="#00c8c8"/></g><text transform="translate(576.5 441.6) scale(0.95 1)" font-size="42.6">220K</text>
<g transform="translate(519.8 477.6)"><path d="M0,-20.2L17.5,-10.1L17.5,10.1L0,20.2L-17.5,10.1L-17.5,-10.1Z" fill="#0000ff"/></g><text transform="translate(576.5 492.2) scale(0.95 1)" font-size="42.6">230K</text>
<g transform="translate(519.8 528.2)"><path d="M0,-20L4.6,-6.4L19,-6.2L7.5,2.4L11.8,16.2L0,7.9L-11.8,16.2L-7.5,2.4L-19,-6.2L-4.6,-6.4Z" fill="#8c8c00" stroke="#8c8c00" stroke-width="2.6" stroke-linejoin="round"/></g><text transform="translate(576.5 542.8) scale(0.95 1)" font-size="42.6">240K</text>
<g transform="translate(519.8 578.8)"><path d="M0,-22.1L22.1,0L0,22.1L-22.1,0Z" fill="#ff0080" stroke="#ff0080" stroke-width="2.2" stroke-linejoin="round"/></g><text transform="translate(576.5 593.4) scale(0.95 1)" font-size="42.6">280K</text>
<g transform="translate(519.8 629.4)"><circle r="18.9" fill="#4699d2"/><circle cx="-5.2" cy="-5.2" r="9.6" fill="url(#hl)"/></g><text transform="translate(576.5 644) scale(0.95 1)" font-size="42.6">300K</text>
<g transform="translate(519.8 680)"><rect x="-16.2" y="-16.2" width="32.4" height="32.4" fill="#32b400"/></g><text transform="translate(576.5 694.6) scale(0.95 1)" font-size="42.6">340K</text>
<g transform="translate(519.8 730.6)"><circle r="18.7" fill="#ff0000"/></g><text transform="translate(576.5 745.2) scale(0.95 1)" font-size="42.6">380K</text>
<g transform="translate(519.8 781.2)"><path d="M0,-26L22.2,13L-22.2,13Z" fill="#ff9696"/></g><text transform="translate(576.5 795.8) scale(0.95 1)" font-size="42.6">400K</text>
<g transform="translate(519.8 831.8)"><path d="M0,26L22.2,-13L-22.2,-13Z" fill="#e6dc00"/></g><text transform="translate(576.5 846.4) scale(0.95 1)" font-size="42.6">440K</text>
<g transform="translate(519.8 882.4)"><path d="M0,-22.1L22.1,0L0,22.1L-22.1,0Z" fill="#c878ff" stroke="#c878ff" stroke-width="2.2" stroke-linejoin="round"/></g><text transform="translate(576.5 897) scale(0.95 1)" font-size="42.6">500K</text>
<rect x="487.7" y="1755.6" width="415.9" height="111" fill="#000"/>
<rect x="471.7" y="1739.6" width="414.9" height="110" fill="#fff" stroke="#000" stroke-width="2.2"/>
<text transform="translate(510.7 1812.2) scale(0.94 1)" font-size="72.3" class="b">T<tspan dy="21.5" font-size="47.4">S</tspan><tspan dy="-21.5" font-size="72.3">=1000°C</tspan></text>
<text transform="translate(1673 1820.8)" font-size="96" class="b">(b)</text>
<rect x="467.3" y="1873.6" width="212.2" height="831.6" fill="#fff" stroke="#000" stroke-width="2.6"/>
<g transform="translate(519.3 1902.9)"><rect x="-16.2" y="-16.2" width="32.4" height="32.4" fill="#00ff00"/></g><text transform="translate(577.5 1916.9) scale(0.97 1)" font-size="42.8">80K</text>
<g transform="translate(519.3 1954.5)"><circle r="18.7" fill="#ff8000"/></g><text transform="translate(577.5 1968.5) scale(0.97 1)" font-size="42.8">120K</text>
<g transform="translate(519.3 2006.1)"><path d="M0,-26L22.2,13L-22.2,13Z" fill="#5a6eff"/></g><text transform="translate(577.5 2020.1) scale(0.97 1)" font-size="42.8">170K</text>
<g transform="translate(519.3 2057.7)"><path d="M0,26L22.2,-13L-22.2,-13Z" fill="#ff82c8"/></g><text transform="translate(577.5 2071.7) scale(0.97 1)" font-size="42.8">180K</text>
<g transform="translate(519.3 2109.3)"><path d="M0,-22.1L22.1,0L0,22.1L-22.1,0Z" fill="#ffff00" stroke="#ffff00" stroke-width="2.2" stroke-linejoin="round"/></g><text transform="translate(577.5 2123.3) scale(0.97 1)" font-size="42.8">200K</text>
<g transform="translate(519.3 2160.9)"><circle r="18.9" fill="#00ff00"/><circle cx="-5.2" cy="-5.2" r="9.6" fill="url(#hl)"/></g><text transform="translate(577.5 2174.9) scale(0.97 1)" font-size="42.8">210K</text>
<g transform="translate(519.3 2212.5)"><path d="M26,0L-13,22.2L-13,-22.2Z" fill="#00c8c8"/></g><text transform="translate(577.5 2226.5) scale(0.97 1)" font-size="42.8">220K</text>
<g transform="translate(519.3 2264.1)"><path d="M0,-20.2L17.5,-10.1L17.5,10.1L0,20.2L-17.5,10.1L-17.5,-10.1Z" fill="#0000ff"/></g><text transform="translate(577.5 2278.1) scale(0.97 1)" font-size="42.8">230K</text>
<g transform="translate(519.3 2315.7)"><path d="M0,-20L4.6,-6.4L19,-6.2L7.5,2.4L11.8,16.2L0,7.9L-11.8,16.2L-7.5,2.4L-19,-6.2L-4.6,-6.4Z" fill="#8c8c00" stroke="#8c8c00" stroke-width="2.6" stroke-linejoin="round"/></g><text transform="translate(577.5 2329.7) scale(0.97 1)" font-size="42.8">240K</text>
<g transform="translate(519.3 2367.3)"><path d="M0,-21.2L20.4,-6.3L12.6,17.7L-12.6,17.7L-20.4,-6.3Z" fill="#ff0080" stroke="#ff0080" stroke-width="1.5" stroke-linejoin="round"/></g><text transform="translate(577.5 2381.3) scale(0.97 1)" font-size="42.8">280K</text>
<g transform="translate(519.3 2418.9)"><circle r="18.9" fill="#4699d2"/><circle cx="-5.2" cy="-5.2" r="9.6" fill="url(#hl)"/></g><text transform="translate(577.5 2432.9) scale(0.97 1)" font-size="42.8">300K</text>
<g transform="translate(519.3 2470.5)"><rect x="-16.2" y="-16.2" width="32.4" height="32.4" fill="#32b400"/></g><text transform="translate(577.5 2484.5) scale(0.97 1)" font-size="42.8">340K</text>
<g transform="translate(519.3 2522.1)"><circle r="18.7" fill="#ff0000"/></g><text transform="translate(577.5 2536.1) scale(0.97 1)" font-size="42.8">380K</text>
<g transform="translate(519.3 2573.7)"><path d="M0,-26L22.2,13L-22.2,13Z" fill="#ff9696"/></g><text transform="translate(577.5 2587.7) scale(0.97 1)" font-size="42.8">400K</text>
<g transform="translate(519.3 2625.3)"><path d="M0,26L22.2,-13L-22.2,-13Z" fill="#e6dc00"/></g><text transform="translate(577.5 2639.3) scale(0.97 1)" font-size="42.8">440K</text>
<g transform="translate(519.3 2676.9)"><path d="M0,-22.1L22.1,0L0,22.1L-22.1,0Z" fill="#c878ff" stroke="#c878ff" stroke-width="2.2" stroke-linejoin="round"/></g><text transform="translate(577.5 2690.9) scale(0.97 1)" font-size="42.8">500K</text>
<rect x="1435.6" y="3361" width="424.8" height="112.3" fill="#000"/>
<rect x="1419.6" y="3345" width="423.8" height="111.3" fill="#fff" stroke="#000" stroke-width="2.2"/>
<text transform="translate(1458.2 3418.5) scale(0.962 1)" font-size="72.3" class="b">T<tspan dy="21.5" font-size="47.4">S</tspan><tspan dy="-21.5" font-size="72.3">=1200°C</tspan></text>
<text transform="translate(1468 3605.5)" font-size="96" class="b">(c)</text>
<rect x="1641.8" y="3492.3" width="217.4" height="899.5" fill="#fff" stroke="#000" stroke-width="2"/>
<g transform="translate(1694.2 3521.3)"><rect x="-16.2" y="-16.2" width="32.4" height="32.4" fill="#00ff00"/></g><text transform="translate(1755.5 3536.9) scale(0.95 1)" font-size="45.5">80K</text>
<g transform="translate(1694.2 3573.8)"><circle r="18.7" fill="#ff8000"/></g><text transform="translate(1755.5 3589.4) scale(0.95 1)" font-size="45.5">120K</text>
<g transform="translate(1694.2 3626.3)"><path d="M0,-26L22.2,13L-22.2,13Z" fill="#5a6eff"/></g><text transform="translate(1755.5 3641.9) scale(0.95 1)" font-size="45.5">170K</text>
<g transform="translate(1694.2 3678.8)"><path d="M0,26L22.2,-13L-22.2,-13Z" fill="#ff82c8"/></g><text transform="translate(1755.5 3694.4) scale(0.95 1)" font-size="45.5">180K</text>
<g transform="translate(1694.2 3731.3)"><path d="M0,-22.1L22.1,0L0,22.1L-22.1,0Z" fill="#ffff00" stroke="#ffff00" stroke-width="2.2" stroke-linejoin="round"/></g><text transform="translate(1755.5 3746.9) scale(0.95 1)" font-size="45.5">200K</text>
<g transform="translate(1694.2 3783.8)"><circle r="18.9" fill="#00ff00"/><circle cx="-5.2" cy="-5.2" r="9.6" fill="url(#hl)"/></g><text transform="translate(1755.5 3799.4) scale(0.95 1)" font-size="45.5">210K</text>
<g transform="translate(1694.2 3836.3)"><path d="M26,0L-13,22.2L-13,-22.2Z" fill="#00c8c8"/></g><text transform="translate(1755.5 3851.9) scale(0.95 1)" font-size="45.5">220K</text>
<g transform="translate(1694.2 3888.8)"><path d="M0,-20.2L17.5,-10.1L17.5,10.1L0,20.2L-17.5,10.1L-17.5,-10.1Z" fill="#0000ff"/></g><text transform="translate(1755.5 3904.4) scale(0.95 1)" font-size="45.5">230K</text>
<g transform="translate(1694.2 3941.3)"><path d="M0,-20L4.6,-6.4L19,-6.2L7.5,2.4L11.8,16.2L0,7.9L-11.8,16.2L-7.5,2.4L-19,-6.2L-4.6,-6.4Z" fill="#8c8c00" stroke="#8c8c00" stroke-width="2.6" stroke-linejoin="round"/></g><text transform="translate(1755.5 3956.9) scale(0.95 1)" font-size="45.5">240K</text>
<g transform="translate(1694.2 3993.8)"><path d="M0,-22.1L22.1,0L0,22.1L-22.1,0Z" fill="#ff0080" stroke="#ff0080" stroke-width="2.2" stroke-linejoin="round"/></g><text transform="translate(1755.5 4009.4) scale(0.95 1)" font-size="45.5">280K</text>
<g transform="translate(1694.2 4046.3)"><circle r="18.9" fill="#4699d2"/><circle cx="-5.2" cy="-5.2" r="9.6" fill="url(#hl)"/></g><text transform="translate(1755.5 4061.9) scale(0.95 1)" font-size="45.5">300K</text>
<g transform="translate(1694.2 4098.8)"><rect x="-16.2" y="-16.2" width="32.4" height="32.4" fill="#32b400"/></g><text transform="translate(1755.5 4114.4) scale(0.95 1)" font-size="45.5">340K</text>
<g transform="translate(1694.2 4151.3)"><circle r="18.7" fill="#ff0000"/></g><text transform="translate(1755.5 4166.9) scale(0.95 1)" font-size="45.5">380K</text>
<g transform="translate(1694.2 4203.8)"><path d="M0,-26L22.2,13L-22.2,13Z" fill="#ff9696"/></g><text transform="translate(1755.5 4219.4) scale(0.95 1)" font-size="45.5">400K</text>
<g transform="translate(1694.2 4256.3)"><path d="M0,26L22.2,-13L-22.2,-13Z" fill="#e6dc00"/></g><text transform="translate(1755.5 4271.9) scale(0.95 1)" font-size="45.5">440K</text>
<g transform="translate(1694.2 4308.8)"><path d="M0,-22.1L22.1,0L0,22.1L-22.1,0Z" fill="#c878ff" stroke="#c878ff" stroke-width="2.2" stroke-linejoin="round"/></g><text transform="translate(1755.5 4324.4) scale(0.95 1)" font-size="45.5">500K</text>
<g transform="translate(1694.2 4361.3)"><path d="M0,-20L4.6,-6.4L19,-6.2L7.5,2.4L11.8,16.2L0,7.9L-11.8,16.2L-7.5,2.4L-19,-6.2L-4.6,-6.4Z" fill="#00c8c8" stroke="#00c8c8" stroke-width="2.6" stroke-linejoin="round"/></g><text transform="translate(1755.5 4376.9) scale(0.95 1)" font-size="45.5">600K</text>
</svg>
</body></html>
